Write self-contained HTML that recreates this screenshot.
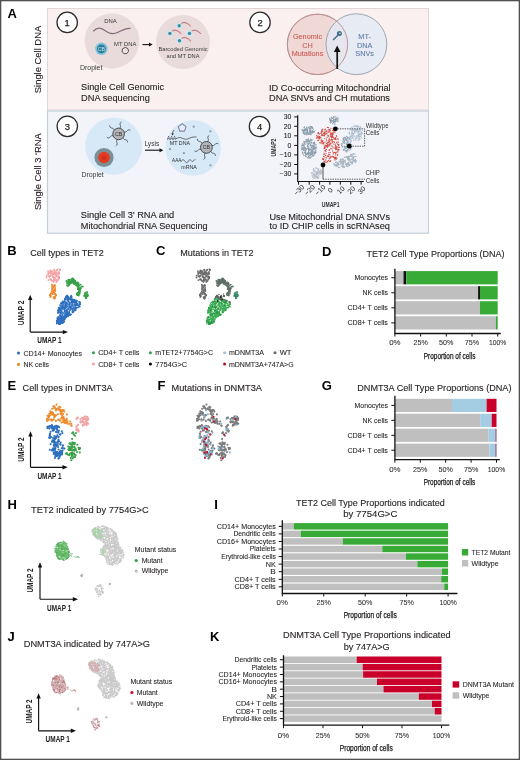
<!DOCTYPE html>
<html><head><meta charset="utf-8"><style>
html,body{margin:0;padding:0;background:#fff;}
svg{display:block;will-change:transform;}
text{font-family:"Liberation Sans", sans-serif;}
</style></head><body>
<svg width="520" height="760" viewBox="0 0 520 760">
<rect x="0" y="0" width="520" height="760" fill="#fff"/>
<rect x="47.5" y="8.5" width="381" height="101.5" fill="#f9f0ef" stroke="#e4d5d6" stroke-width="1"/>
<rect x="47.5" y="111" width="381" height="122.2" fill="#f3f4f9" stroke="#c3d0da" stroke-width="1.2"/>
<text x="7.40" y="17.60" font-size="13" text-anchor="start" font-weight="bold" fill="#000">A</text>
<text transform="translate(41.30,59.50) rotate(-90)" x="0" y="0" font-size="9.7" text-anchor="middle" fill="#231f20" textLength="67.46" lengthAdjust="spacingAndGlyphs" stroke="#231f20" stroke-width="0.12">Single Cell DNA</text>
<text transform="translate(41.30,171.60) rotate(-90)" x="0" y="0" font-size="9.7" text-anchor="middle" fill="#231f20" textLength="76.86" lengthAdjust="spacingAndGlyphs" stroke="#231f20" stroke-width="0.12">Single Cell 3 ‘RNA</text>
<circle cx="67.2" cy="22.4" r="10.2" fill="#fefefe" stroke="#2b2b2b" stroke-width="1.25"/>
<text x="67.20" y="25.70" font-size="9.4" text-anchor="middle" fill="#222" stroke="#222" stroke-width="0.25">1</text>
<circle cx="260" cy="22.4" r="10.2" fill="#fefefe" stroke="#2b2b2b" stroke-width="1.25"/>
<text x="260.00" y="25.70" font-size="9.4" text-anchor="middle" fill="#222" stroke="#222" stroke-width="0.25">2</text>
<circle cx="67.3" cy="126.3" r="10.2" fill="#fefefe" stroke="#2b2b2b" stroke-width="1.25"/>
<text x="67.30" y="129.60" font-size="9.4" text-anchor="middle" fill="#222" stroke="#222" stroke-width="0.25">3</text>
<circle cx="259.5" cy="126.5" r="10.2" fill="#fefefe" stroke="#2b2b2b" stroke-width="1.25"/>
<text x="259.50" y="129.80" font-size="9.4" text-anchor="middle" fill="#222" stroke="#222" stroke-width="0.25">4</text>
<circle cx="112" cy="41" r="27.4" fill="#e9dbdb"/>
<text x="110.40" y="23.30" font-size="6.2" text-anchor="middle" fill="#3a3a3a" textLength="12.54" lengthAdjust="spacingAndGlyphs">DNA</text>
<path d="M93.2,31.2 C95,29.5 97,28 99.5,28.2 C103,28.5 106,31.5 109,32.8 C112,34 115,33.6 118,32.2 C121,30.8 124,29.2 127,28.6 C128.5,28.3 129.5,28.2 130.5,28.3" fill="none" stroke="#86697c" stroke-width="1.25"/>
<circle cx="101.4" cy="48.8" r="6.2" fill="#7fc3da"/><circle cx="101.4" cy="48.8" r="4.4" fill="#2a7b9c"/>
<text x="101.40" y="50.70" font-size="5.2" text-anchor="middle" fill="#cfe8f0">CB</text>
<text x="125.20" y="46.00" font-size="6.2" text-anchor="middle" fill="#3a3a3a" textLength="22.24" lengthAdjust="spacingAndGlyphs">MT DNA</text>
<path d="M125.2,47.4 l2.6,1.1 l0.8,2.7 l-1.6,2.3 l-2.8,0.2 l-2.1,-1.9 l0.3,-2.9 z" fill="#efe2e2" stroke="#4a4444" stroke-width="0.9"/>
<text x="91.20" y="70.00" font-size="6.4" text-anchor="middle" fill="#3a3a3a" textLength="22.47" lengthAdjust="spacingAndGlyphs">Droplet</text>
<path d="M142.5,44.6 H150" stroke="#111" stroke-width="1.1"/><path d="M149,42.6 L152.6,44.6 L149,46.6 z" fill="#111"/>
<circle cx="183" cy="42" r="27" fill="#e9dbdb"/>
<path d="M180.39999999999998,24.099999999999998 Q184.7,20.1 190.6,26.099999999999998" fill="none" stroke="#f3c9cc" stroke-width="2.6" stroke-opacity="0.7"/>
<path d="M180.39999999999998,24.099999999999998 Q184.7,20.1 190.6,26.099999999999998" fill="none" stroke="#a5717b" stroke-width="0.95"/>
<circle cx="179.2" cy="25.7" r="3" fill="#cfe6ee"/><circle cx="179.2" cy="25.7" r="1.7" fill="#3a8ea6"/>
<path d="M171.1,31.799999999999997 Q175.4,27.799999999999997 181.3,33.8" fill="none" stroke="#f3c9cc" stroke-width="2.6" stroke-opacity="0.7"/>
<path d="M171.1,31.799999999999997 Q175.4,27.799999999999997 181.3,33.8" fill="none" stroke="#a5717b" stroke-width="0.95"/>
<circle cx="169.9" cy="33.4" r="3" fill="#cfe6ee"/><circle cx="169.9" cy="33.4" r="1.7" fill="#3a8ea6"/>
<path d="M190.7,31.799999999999997 Q195.0,27.799999999999997 200.9,33.8" fill="none" stroke="#f3c9cc" stroke-width="2.6" stroke-opacity="0.7"/>
<path d="M190.7,31.799999999999997 Q195.0,27.799999999999997 200.9,33.8" fill="none" stroke="#a5717b" stroke-width="0.95"/>
<circle cx="189.5" cy="33.4" r="3" fill="#cfe6ee"/><circle cx="189.5" cy="33.4" r="1.7" fill="#3a8ea6"/>
<path d="M180.7,39.1 Q185.0,35.1 190.9,41.1" fill="none" stroke="#f3c9cc" stroke-width="2.6" stroke-opacity="0.7"/>
<path d="M180.7,39.1 Q185.0,35.1 190.9,41.1" fill="none" stroke="#a5717b" stroke-width="0.95"/>
<circle cx="179.5" cy="40.7" r="3" fill="#cfe6ee"/><circle cx="179.5" cy="40.7" r="1.7" fill="#3a8ea6"/>
<text x="183.00" y="50.60" font-size="6.2" text-anchor="middle" fill="#3a3a3a" textLength="49.24" lengthAdjust="spacingAndGlyphs">Barcoded Genomic</text>
<text x="183.00" y="58.20" font-size="6.2" text-anchor="middle" fill="#3a3a3a" textLength="32.94" lengthAdjust="spacingAndGlyphs">and MT DNA</text>
<text x="81.11" y="90.20" font-size="9.75" text-anchor="start" fill="#231f20" textLength="82.97" lengthAdjust="spacingAndGlyphs" stroke="#231f20" stroke-width="0.12">Single Cell Genomic</text>
<text x="81.11" y="101.40" font-size="9.75" text-anchor="start" fill="#231f20" textLength="68.77" lengthAdjust="spacingAndGlyphs" stroke="#231f20" stroke-width="0.12">DNA sequencing</text>
<circle cx="317.5" cy="44.4" r="30.2" fill="#f0d8d7" stroke="#c68b8a" stroke-width="1"/>
<circle cx="356.4" cy="44.2" r="30.4" fill="#e2eaf4" fill-opacity="0.8" stroke="#9fa6b2" stroke-width="1"/>
<text x="307.50" y="38.90" font-size="7.3" text-anchor="middle" fill="#c95a52" stroke="#c95a52" stroke-width="0.08">Genomic</text>
<text x="307.50" y="47.50" font-size="7.3" text-anchor="middle" fill="#c95a52" stroke="#c95a52" stroke-width="0.08">CH</text>
<text x="307.50" y="56.10" font-size="7.3" text-anchor="middle" fill="#c95a52" stroke="#c95a52" stroke-width="0.08">Mutations</text>
<text x="364.60" y="38.90" font-size="7.3" text-anchor="middle" fill="#5f7aa8" stroke="#5f7aa8" stroke-width="0.08">MT-</text>
<text x="364.60" y="47.50" font-size="7.3" text-anchor="middle" fill="#5f7aa8" stroke="#5f7aa8" stroke-width="0.08">DNA</text>
<text x="364.60" y="56.10" font-size="7.3" text-anchor="middle" fill="#5f7aa8" stroke="#5f7aa8" stroke-width="0.08">SNVs</text>
<circle cx="317.5" cy="44.4" r="30.2" fill="none" stroke="#b89494" stroke-width="0.9"/>
<g fill="#3d6e8e"><circle cx="339.4" cy="33.6" r="2.5"/><path d="M337.9,34.2 L332.6,39.4 L333.6,40.4 L338.9,35.2 z"/></g><circle cx="339.9" cy="33.2" r="0.8" fill="#e3e8ef"/>
<path d="M337.2,69 V50.5" stroke="#111" stroke-width="1.7"/><path d="M333.9,52 L337.2,45.6 L340.5,52 z" fill="#111"/>
<text x="269.01" y="90.50" font-size="9.75" text-anchor="start" fill="#231f20" textLength="121.67" lengthAdjust="spacingAndGlyphs" stroke="#231f20" stroke-width="0.12">ID Co-occurring Mitochondrial</text>
<text x="269.01" y="101.30" font-size="9.75" text-anchor="start" fill="#231f20" textLength="120.97" lengthAdjust="spacingAndGlyphs" stroke="#231f20" stroke-width="0.12">DNA SNVs and CH mutations</text>
<circle cx="113.7" cy="146.2" r="28.5" fill="#d7e9f7"/>
<circle cx="104" cy="157.5" r="9.6" fill="#7a9096"/><circle cx="104" cy="157.5" r="5.8" fill="#e63b24"/><circle cx="104" cy="157.5" r="2.6" fill="#d2331d"/>
<path d="M119.59,128.18 C122.39,126.03 117.87,124.03 121.48,121.91" fill="none" stroke="#3e4247" stroke-width="0.8"/><path d="M124.04,131.90 C127.31,133.25 126.78,128.33 130.42,130.40" fill="none" stroke="#3e4247" stroke-width="0.8"/><path d="M123.06,137.61 C123.52,141.12 127.51,138.20 127.54,142.39" fill="none" stroke="#3e4247" stroke-width="0.8"/><path d="M117.61,139.62 C114.81,141.77 119.33,143.77 115.72,145.89" fill="none" stroke="#3e4247" stroke-width="0.8"/><path d="M113.16,135.90 C109.89,134.55 110.42,139.47 106.78,137.40" fill="none" stroke="#3e4247" stroke-width="0.8"/><path d="M114.14,130.19 C113.68,126.68 109.69,129.60 109.66,125.41" fill="none" stroke="#3e4247" stroke-width="0.8"/>
<circle cx="118.6" cy="133.9" r="5.8" fill="#b3b5b9" stroke="#3a3d42" stroke-width="0.9"/>
<text x="118.60" y="135.80" font-size="5.22" text-anchor="middle" fill="#333">CB</text>
<text x="92.60" y="176.60" font-size="6.4" text-anchor="middle" fill="#3a3a3a" textLength="22.37" lengthAdjust="spacingAndGlyphs">Droplet</text>
<text x="151.90" y="146.20" font-size="6.4" text-anchor="middle" fill="#3a3a3a" textLength="14.97" lengthAdjust="spacingAndGlyphs">Lysis</text>
<path d="M145,150.2 H160" stroke="#111" stroke-width="1.1"/><path d="M159.5,148.2 L163.4,150.2 L159.5,152.2 z" fill="#111"/>
<circle cx="193.2" cy="148" r="27.8" fill="#d7e9f7"/>
<circle cx="193.7" cy="126.7" r="1.1" fill="#8f98a6"/>
<circle cx="210.4" cy="131.3" r="1.1" fill="#8f98a6"/>
<circle cx="170" cy="149.1" r="1.1" fill="#8f98a6"/>
<circle cx="183.9" cy="153.2" r="1.1" fill="#8f98a6"/>
<circle cx="210.4" cy="165.3" r="1.1" fill="#8f98a6"/>
<path d="M182.2,123.8 l3.8,2.8 l-1.5,4.5 l-4.7,0 l-1.5,-4.5 z" fill="#e6eef8" stroke="#8583a3" stroke-width="1.1" stroke-linejoin="round"/>
<path d="M174.2,130 q-1.8,1.5 -1.6,4.2" fill="none" stroke="#222" stroke-width="0.65"/><path d="M171.3,133.6 l1.4,2 l1.1,-2.1 z" fill="#222"/>
<text x="171.50" y="140.20" font-size="5" text-anchor="middle" fill="#2a2a2a" textLength="9.20" lengthAdjust="spacingAndGlyphs">AAA</text>
<path d="M176,138.8 c1.5,-1 3,-1.6 5,-1 c2,0.6 4,1.8 6,1.4 c2,-0.4 3.5,-1.6 5,-2 c1.5,-0.4 3,0 4.5,-0.3" fill="none" stroke="#3a3a3a" stroke-width="0.7"/>
<text x="179.90" y="145.40" font-size="5" text-anchor="middle" fill="#2a2a2a" textLength="20.30" lengthAdjust="spacingAndGlyphs">MT DNA</text>
<text x="176.70" y="162.40" font-size="5" text-anchor="middle" fill="#2a2a2a" textLength="9.20" lengthAdjust="spacingAndGlyphs">AAA</text>
<path d="M181.3,161.6 c0.6,-1.8 1.8,-2.4 3,-1.2 c1.2,1.2 1.6,2.6 2.8,2.2 c1.2,-0.4 1.2,-2.6 2.6,-2.8 c1.4,-0.2 1.6,1.8 3,1.6 c1.2,-0.2 1.4,-2 2.6,-2" fill="none" stroke="#3a3a3a" stroke-width="0.7"/>
<text x="189.10" y="169.20" font-size="5" text-anchor="middle" fill="#2a2a2a" textLength="15.60" lengthAdjust="spacingAndGlyphs">mRNA</text>
<path d="M207.40,141.59 C210.21,139.43 205.68,137.43 209.30,135.32" fill="none" stroke="#3e4247" stroke-width="0.8"/><path d="M211.94,145.36 C215.21,146.72 214.67,141.80 218.31,143.87" fill="none" stroke="#3e4247" stroke-width="0.8"/><path d="M210.93,151.18 C211.40,154.68 215.39,151.76 215.42,155.95" fill="none" stroke="#3e4247" stroke-width="0.8"/><path d="M205.40,153.21 C202.59,155.37 207.12,157.37 203.50,159.48" fill="none" stroke="#3e4247" stroke-width="0.8"/><path d="M200.86,149.44 C197.59,148.08 198.13,153.00 194.49,150.93" fill="none" stroke="#3e4247" stroke-width="0.8"/><path d="M201.87,143.62 C201.40,140.12 197.41,143.04 197.38,138.85" fill="none" stroke="#3e4247" stroke-width="0.8"/>
<circle cx="206.4" cy="147.4" r="5.9" fill="#b3b5b9" stroke="#3a3d42" stroke-width="0.9"/>
<text x="206.40" y="149.30" font-size="5.3100000000000005" text-anchor="middle" fill="#333">CB</text>
<text x="80.81" y="217.80" font-size="9.75" text-anchor="start" fill="#231f20" textLength="93.47" lengthAdjust="spacingAndGlyphs" stroke="#231f20" stroke-width="0.12">Single Cell 3’ RNA and</text>
<text x="80.81" y="228.60" font-size="9.75" text-anchor="start" fill="#231f20" textLength="126.87" lengthAdjust="spacingAndGlyphs" stroke="#231f20" stroke-width="0.12">Mitochondrial RNA Sequencing</text>
<path d="M297.7,115.2 V181.5 H363.8" fill="none" stroke="#111" stroke-width="1.2"/>
<path d="M294.2,116.9 H297.7" stroke="#111" stroke-width="1"/>
<text x="291.40" y="119.30" font-size="6.8" text-anchor="end" fill="#222" stroke="#222" stroke-width="0.08">30</text>
<path d="M294.2,126.3 H297.7" stroke="#111" stroke-width="1"/>
<text x="291.40" y="128.70" font-size="6.8" text-anchor="end" fill="#222" stroke="#222" stroke-width="0.08">20</text>
<path d="M294.2,135.8 H297.7" stroke="#111" stroke-width="1"/>
<text x="291.40" y="138.20" font-size="6.8" text-anchor="end" fill="#222" stroke="#222" stroke-width="0.08">10</text>
<path d="M294.2,145.4 H297.7" stroke="#111" stroke-width="1"/>
<text x="291.40" y="147.80" font-size="6.8" text-anchor="end" fill="#222" stroke="#222" stroke-width="0.08">0</text>
<path d="M294.2,154.9 H297.7" stroke="#111" stroke-width="1"/>
<text x="291.40" y="157.30" font-size="6.8" text-anchor="end" fill="#222" stroke="#222" stroke-width="0.08">−10</text>
<path d="M294.2,164.5 H297.7" stroke="#111" stroke-width="1"/>
<text x="291.40" y="166.90" font-size="6.8" text-anchor="end" fill="#222" stroke="#222" stroke-width="0.08">−20</text>
<path d="M294.2,173.9 H297.7" stroke="#111" stroke-width="1"/>
<text x="291.40" y="176.30" font-size="6.8" text-anchor="end" fill="#222" stroke="#222" stroke-width="0.08">−30</text>
<path d="M298.5,181.5 V184.7" stroke="#111" stroke-width="1"/>
<text transform="translate(298.9,190.1) rotate(-45)" y="2.4" text-anchor="middle" font-size="7" fill="#222">−30</text>
<path d="M309.2,181.5 V184.7" stroke="#111" stroke-width="1"/>
<text transform="translate(309.59999999999997,190.1) rotate(-45)" y="2.4" text-anchor="middle" font-size="7" fill="#222">−20</text>
<path d="M319.6,181.5 V184.7" stroke="#111" stroke-width="1"/>
<text transform="translate(320.0,190.1) rotate(-45)" y="2.4" text-anchor="middle" font-size="7" fill="#222">−10</text>
<path d="M329.9,181.5 V184.7" stroke="#111" stroke-width="1"/>
<text transform="translate(330.29999999999995,190.1) rotate(-45)" y="2.4" text-anchor="middle" font-size="7" fill="#222">0</text>
<path d="M340.3,181.5 V184.7" stroke="#111" stroke-width="1"/>
<text transform="translate(340.7,190.1) rotate(-45)" y="2.4" text-anchor="middle" font-size="7" fill="#222">10</text>
<path d="M350.8,181.5 V184.7" stroke="#111" stroke-width="1"/>
<text transform="translate(351.2,190.1) rotate(-45)" y="2.4" text-anchor="middle" font-size="7" fill="#222">20</text>
<path d="M361.1,181.5 V184.7" stroke="#111" stroke-width="1"/>
<text transform="translate(361.5,190.1) rotate(-45)" y="2.4" text-anchor="middle" font-size="7" fill="#222">30</text>
<text transform="translate(276.20,147.50) rotate(-90)" x="0" y="0" font-size="7.6" text-anchor="middle" font-weight="bold" fill="#333" textLength="17.91" lengthAdjust="spacingAndGlyphs">UMAP2</text>
<text x="330.70" y="207.20" font-size="7.6" text-anchor="middle" font-weight="bold" fill="#333" textLength="17.81" lengthAdjust="spacingAndGlyphs">UMAP1</text>
<g fill="#8b9eac"><circle cx="307.2" cy="132.5" r="0.68"/><circle cx="307.3" cy="129.8" r="0.68"/><circle cx="304.6" cy="130.2" r="0.68"/><circle cx="312.5" cy="132.0" r="0.68"/><circle cx="312.3" cy="131.5" r="0.68"/><circle cx="310.0" cy="131.4" r="0.68"/><circle cx="303.2" cy="132.8" r="0.68"/><circle cx="310.4" cy="132.4" r="0.68"/><circle cx="304.0" cy="127.4" r="0.68"/><circle cx="304.8" cy="129.4" r="0.68"/><circle cx="309.6" cy="130.6" r="0.68"/><circle cx="310.4" cy="128.8" r="0.68"/><circle cx="309.6" cy="132.1" r="0.68"/><circle cx="306.3" cy="134.8" r="0.68"/><circle cx="310.3" cy="134.1" r="0.68"/><circle cx="305.8" cy="128.6" r="0.68"/><circle cx="306.8" cy="130.4" r="0.68"/><circle cx="311.0" cy="131.6" r="0.68"/><circle cx="306.6" cy="128.0" r="0.68"/><circle cx="306.4" cy="134.2" r="0.68"/><circle cx="305.0" cy="131.6" r="0.68"/><circle cx="309.7" cy="126.9" r="0.68"/><circle cx="308.5" cy="134.4" r="0.68"/><circle cx="302.5" cy="130.1" r="0.68"/><circle cx="307.9" cy="128.2" r="0.68"/><circle cx="310.4" cy="130.6" r="0.68"/><circle cx="303.5" cy="132.9" r="0.68"/><circle cx="310.8" cy="133.5" r="0.68"/><circle cx="313.3" cy="131.8" r="0.68"/><circle cx="308.7" cy="127.2" r="0.68"/><circle cx="310.8" cy="128.9" r="0.68"/><circle cx="306.7" cy="127.3" r="0.68"/><circle cx="304.6" cy="129.2" r="0.68"/><circle cx="311.6" cy="126.9" r="0.68"/><circle cx="303.2" cy="131.4" r="0.68"/><circle cx="313.2" cy="132.3" r="0.68"/><circle cx="304.5" cy="127.0" r="0.68"/><circle cx="309.8" cy="128.5" r="0.68"/><circle cx="304.4" cy="133.4" r="0.68"/><circle cx="312.5" cy="131.3" r="0.68"/><circle cx="309.4" cy="132.2" r="0.68"/><circle cx="313.4" cy="132.3" r="0.68"/><circle cx="310.5" cy="132.5" r="0.68"/><circle cx="303.7" cy="133.6" r="0.68"/><circle cx="312.0" cy="132.4" r="0.68"/><circle cx="302.7" cy="129.4" r="0.68"/><circle cx="310.8" cy="126.8" r="0.68"/><circle cx="307.6" cy="133.8" r="0.68"/><circle cx="304.6" cy="134.3" r="0.68"/><circle cx="310.7" cy="130.3" r="0.68"/><circle cx="309.7" cy="132.9" r="0.68"/><circle cx="308.8" cy="134.1" r="0.68"/><circle cx="305.6" cy="129.5" r="0.68"/><circle cx="312.4" cy="130.9" r="0.68"/><circle cx="305.1" cy="133.4" r="0.68"/><circle cx="313.3" cy="129.6" r="0.68"/><circle cx="303.4" cy="130.4" r="0.68"/><circle cx="307.6" cy="129.8" r="0.68"/><circle cx="312.8" cy="128.3" r="0.68"/><circle cx="312.3" cy="127.8" r="0.68"/><circle cx="305.2" cy="132.7" r="0.68"/><circle cx="312.3" cy="133.1" r="0.68"/><circle cx="309.8" cy="131.3" r="0.68"/><circle cx="309.0" cy="132.7" r="0.68"/><circle cx="307.5" cy="131.7" r="0.68"/><circle cx="310.8" cy="130.8" r="0.68"/><circle cx="311.4" cy="132.5" r="0.68"/><circle cx="314.1" cy="131.5" r="0.68"/><circle cx="306.5" cy="129.6" r="0.68"/><circle cx="308.2" cy="133.6" r="0.68"/><circle cx="306.8" cy="132.1" r="0.68"/><circle cx="312.0" cy="126.9" r="0.68"/><circle cx="304.0" cy="131.5" r="0.68"/><circle cx="310.0" cy="131.6" r="0.68"/><circle cx="306.5" cy="132.9" r="0.68"/><circle cx="309.5" cy="129.1" r="0.68"/><circle cx="314.4" cy="131.5" r="0.68"/><circle cx="305.9" cy="130.5" r="0.68"/><circle cx="307.3" cy="130.6" r="0.68"/><circle cx="302.2" cy="130.0" r="0.68"/><circle cx="311.7" cy="127.8" r="0.68"/><circle cx="308.0" cy="133.7" r="0.68"/><circle cx="311.1" cy="134.5" r="0.68"/><circle cx="302.9" cy="129.9" r="0.68"/><circle cx="306.9" cy="132.8" r="0.68"/><circle cx="310.7" cy="126.4" r="0.68"/><circle cx="311.7" cy="127.4" r="0.68"/><circle cx="310.6" cy="127.0" r="0.68"/><circle cx="309.0" cy="134.2" r="0.68"/><circle cx="307.6" cy="131.4" r="0.68"/></g>
<g fill="#8b9eac"><circle cx="313.0" cy="149.4" r="0.68"/><circle cx="308.6" cy="156.5" r="0.68"/><circle cx="313.9" cy="146.8" r="0.68"/><circle cx="316.0" cy="144.8" r="0.68"/><circle cx="313.4" cy="146.9" r="0.68"/><circle cx="309.7" cy="153.0" r="0.68"/><circle cx="310.1" cy="152.6" r="0.68"/><circle cx="303.9" cy="142.1" r="0.68"/><circle cx="311.8" cy="142.9" r="0.68"/><circle cx="305.1" cy="141.5" r="0.68"/><circle cx="314.3" cy="152.5" r="0.68"/><circle cx="314.7" cy="143.9" r="0.68"/><circle cx="309.0" cy="141.9" r="0.68"/><circle cx="311.9" cy="156.2" r="0.68"/><circle cx="305.6" cy="156.0" r="0.68"/><circle cx="313.7" cy="147.4" r="0.68"/><circle cx="303.0" cy="153.9" r="0.68"/><circle cx="308.5" cy="144.6" r="0.68"/><circle cx="311.1" cy="151.2" r="0.68"/><circle cx="314.6" cy="143.6" r="0.68"/><circle cx="313.2" cy="155.4" r="0.68"/><circle cx="315.1" cy="147.5" r="0.68"/><circle cx="305.7" cy="154.2" r="0.68"/><circle cx="309.6" cy="149.3" r="0.68"/><circle cx="315.0" cy="147.1" r="0.68"/><circle cx="301.8" cy="147.0" r="0.68"/><circle cx="302.5" cy="152.1" r="0.68"/><circle cx="310.6" cy="144.6" r="0.68"/><circle cx="309.0" cy="153.7" r="0.68"/><circle cx="309.3" cy="155.8" r="0.68"/><circle cx="308.7" cy="154.7" r="0.68"/><circle cx="313.9" cy="155.2" r="0.68"/><circle cx="305.9" cy="153.7" r="0.68"/><circle cx="302.7" cy="143.9" r="0.68"/><circle cx="302.6" cy="152.9" r="0.68"/><circle cx="303.5" cy="148.4" r="0.68"/><circle cx="308.0" cy="148.3" r="0.68"/><circle cx="306.0" cy="150.0" r="0.68"/><circle cx="315.8" cy="148.7" r="0.68"/><circle cx="311.5" cy="154.3" r="0.68"/><circle cx="308.1" cy="141.4" r="0.68"/><circle cx="306.5" cy="154.6" r="0.68"/><circle cx="302.7" cy="145.6" r="0.68"/><circle cx="313.5" cy="152.9" r="0.68"/><circle cx="309.0" cy="153.6" r="0.68"/><circle cx="309.8" cy="141.7" r="0.68"/><circle cx="302.9" cy="145.3" r="0.68"/><circle cx="313.3" cy="145.2" r="0.68"/><circle cx="304.9" cy="144.1" r="0.68"/><circle cx="302.7" cy="147.9" r="0.68"/><circle cx="303.7" cy="150.6" r="0.68"/><circle cx="301.7" cy="149.8" r="0.68"/><circle cx="306.8" cy="140.0" r="0.68"/><circle cx="312.6" cy="146.8" r="0.68"/><circle cx="302.1" cy="145.1" r="0.68"/><circle cx="310.5" cy="145.5" r="0.68"/><circle cx="312.6" cy="152.9" r="0.68"/><circle cx="312.3" cy="150.6" r="0.68"/><circle cx="314.6" cy="152.0" r="0.68"/><circle cx="310.5" cy="139.6" r="0.68"/><circle cx="312.6" cy="155.2" r="0.68"/><circle cx="307.5" cy="145.4" r="0.68"/><circle cx="314.5" cy="142.2" r="0.68"/><circle cx="310.4" cy="157.7" r="0.68"/><circle cx="304.7" cy="152.5" r="0.68"/><circle cx="315.9" cy="147.9" r="0.68"/><circle cx="311.6" cy="153.9" r="0.68"/><circle cx="304.6" cy="148.0" r="0.68"/><circle cx="310.4" cy="153.6" r="0.68"/><circle cx="308.8" cy="147.2" r="0.68"/><circle cx="304.2" cy="146.4" r="0.68"/><circle cx="313.3" cy="149.1" r="0.68"/><circle cx="305.1" cy="143.7" r="0.68"/><circle cx="315.9" cy="152.2" r="0.68"/><circle cx="310.8" cy="139.3" r="0.68"/><circle cx="312.1" cy="151.5" r="0.68"/><circle cx="315.5" cy="150.6" r="0.68"/><circle cx="308.6" cy="151.9" r="0.68"/><circle cx="302.6" cy="152.8" r="0.68"/><circle cx="310.6" cy="144.1" r="0.68"/><circle cx="313.3" cy="155.9" r="0.68"/><circle cx="303.3" cy="145.1" r="0.68"/><circle cx="310.5" cy="149.7" r="0.68"/><circle cx="307.1" cy="142.7" r="0.68"/><circle cx="315.6" cy="152.6" r="0.68"/><circle cx="304.5" cy="142.1" r="0.68"/><circle cx="315.1" cy="153.0" r="0.68"/><circle cx="315.4" cy="152.1" r="0.68"/><circle cx="304.8" cy="150.1" r="0.68"/><circle cx="302.1" cy="145.5" r="0.68"/><circle cx="308.7" cy="151.9" r="0.68"/><circle cx="305.3" cy="147.7" r="0.68"/><circle cx="311.4" cy="150.9" r="0.68"/><circle cx="312.2" cy="149.8" r="0.68"/><circle cx="307.4" cy="153.4" r="0.68"/><circle cx="309.2" cy="143.3" r="0.68"/><circle cx="305.8" cy="148.5" r="0.68"/><circle cx="308.4" cy="149.6" r="0.68"/><circle cx="309.0" cy="149.7" r="0.68"/><circle cx="308.4" cy="141.4" r="0.68"/><circle cx="310.9" cy="154.6" r="0.68"/><circle cx="311.3" cy="147.3" r="0.68"/><circle cx="311.1" cy="142.8" r="0.68"/><circle cx="302.1" cy="148.8" r="0.68"/><circle cx="304.8" cy="152.8" r="0.68"/><circle cx="306.1" cy="139.7" r="0.68"/><circle cx="305.2" cy="155.8" r="0.68"/><circle cx="307.4" cy="141.1" r="0.68"/><circle cx="305.3" cy="151.7" r="0.68"/><circle cx="311.6" cy="149.7" r="0.68"/><circle cx="314.9" cy="152.1" r="0.68"/><circle cx="308.9" cy="152.4" r="0.68"/><circle cx="315.0" cy="153.0" r="0.68"/><circle cx="313.3" cy="142.8" r="0.68"/><circle cx="308.3" cy="153.1" r="0.68"/><circle cx="307.6" cy="154.8" r="0.68"/><circle cx="311.8" cy="153.9" r="0.68"/><circle cx="308.4" cy="157.9" r="0.68"/><circle cx="314.5" cy="147.3" r="0.68"/><circle cx="309.3" cy="157.9" r="0.68"/><circle cx="307.3" cy="153.8" r="0.68"/><circle cx="313.7" cy="148.5" r="0.68"/><circle cx="303.7" cy="149.6" r="0.68"/><circle cx="310.6" cy="155.0" r="0.68"/><circle cx="312.9" cy="148.7" r="0.68"/><circle cx="313.1" cy="151.7" r="0.68"/><circle cx="310.1" cy="148.9" r="0.68"/><circle cx="307.8" cy="152.9" r="0.68"/><circle cx="304.3" cy="144.9" r="0.68"/><circle cx="309.0" cy="140.7" r="0.68"/><circle cx="307.5" cy="139.7" r="0.68"/><circle cx="305.7" cy="152.0" r="0.68"/><circle cx="311.9" cy="148.1" r="0.68"/><circle cx="308.0" cy="140.9" r="0.68"/><circle cx="315.7" cy="150.9" r="0.68"/><circle cx="313.7" cy="143.7" r="0.68"/><circle cx="308.3" cy="139.9" r="0.68"/><circle cx="312.5" cy="153.8" r="0.68"/><circle cx="302.1" cy="148.3" r="0.68"/><circle cx="311.3" cy="140.3" r="0.68"/><circle cx="302.8" cy="143.9" r="0.68"/><circle cx="306.4" cy="141.2" r="0.68"/><circle cx="309.2" cy="150.2" r="0.68"/><circle cx="312.1" cy="152.8" r="0.68"/><circle cx="314.5" cy="153.9" r="0.68"/><circle cx="303.4" cy="145.8" r="0.68"/><circle cx="304.6" cy="142.9" r="0.68"/><circle cx="308.6" cy="148.5" r="0.68"/><circle cx="310.9" cy="140.6" r="0.68"/><circle cx="303.4" cy="148.4" r="0.68"/><circle cx="307.9" cy="146.4" r="0.68"/><circle cx="308.7" cy="143.7" r="0.68"/><circle cx="312.5" cy="150.7" r="0.68"/><circle cx="308.6" cy="144.2" r="0.68"/><circle cx="308.5" cy="139.0" r="0.68"/><circle cx="304.3" cy="148.7" r="0.68"/><circle cx="302.8" cy="149.5" r="0.68"/><circle cx="309.6" cy="141.0" r="0.68"/><circle cx="307.7" cy="146.4" r="0.68"/><circle cx="311.3" cy="152.4" r="0.68"/><circle cx="308.8" cy="143.2" r="0.68"/><circle cx="308.2" cy="148.1" r="0.68"/><circle cx="312.7" cy="150.4" r="0.68"/><circle cx="306.0" cy="141.5" r="0.68"/><circle cx="307.2" cy="143.9" r="0.68"/><circle cx="303.8" cy="147.8" r="0.68"/><circle cx="306.4" cy="149.2" r="0.68"/><circle cx="311.7" cy="145.8" r="0.68"/><circle cx="316.3" cy="147.2" r="0.68"/><circle cx="314.1" cy="149.2" r="0.68"/><circle cx="312.2" cy="140.0" r="0.68"/><circle cx="305.3" cy="150.1" r="0.68"/><circle cx="310.8" cy="157.5" r="0.68"/><circle cx="310.4" cy="155.6" r="0.68"/><circle cx="312.5" cy="153.9" r="0.68"/><circle cx="311.6" cy="147.5" r="0.68"/><circle cx="311.3" cy="142.3" r="0.68"/><circle cx="313.8" cy="143.2" r="0.68"/><circle cx="309.8" cy="157.5" r="0.68"/><circle cx="307.8" cy="148.6" r="0.68"/><circle cx="314.3" cy="148.7" r="0.68"/><circle cx="305.0" cy="150.1" r="0.68"/><circle cx="311.8" cy="152.9" r="0.68"/><circle cx="306.2" cy="156.6" r="0.68"/><circle cx="315.6" cy="148.6" r="0.68"/><circle cx="310.4" cy="145.7" r="0.68"/><circle cx="314.7" cy="144.9" r="0.68"/><circle cx="312.3" cy="145.5" r="0.68"/><circle cx="305.7" cy="152.8" r="0.68"/><circle cx="314.8" cy="148.4" r="0.68"/><circle cx="305.8" cy="153.3" r="0.68"/><circle cx="308.7" cy="150.6" r="0.68"/><circle cx="314.6" cy="153.7" r="0.68"/><circle cx="307.4" cy="157.6" r="0.68"/><circle cx="309.0" cy="153.4" r="0.68"/><circle cx="305.7" cy="148.2" r="0.68"/><circle cx="303.8" cy="155.2" r="0.68"/><circle cx="314.1" cy="142.7" r="0.68"/><circle cx="304.1" cy="141.8" r="0.68"/><circle cx="314.2" cy="145.9" r="0.68"/></g>
<g fill="#8b9eac"><circle cx="333.6" cy="119.3" r="0.68"/><circle cx="333.4" cy="117.4" r="0.68"/><circle cx="333.9" cy="116.8" r="0.68"/><circle cx="333.6" cy="121.1" r="0.68"/><circle cx="335.3" cy="119.5" r="0.68"/><circle cx="331.0" cy="120.6" r="0.68"/><circle cx="332.6" cy="123.6" r="0.68"/><circle cx="336.2" cy="119.9" r="0.68"/><circle cx="332.3" cy="118.3" r="0.68"/><circle cx="331.0" cy="119.3" r="0.68"/><circle cx="334.8" cy="121.7" r="0.68"/><circle cx="335.0" cy="124.1" r="0.68"/><circle cx="331.5" cy="120.2" r="0.68"/><circle cx="337.8" cy="117.9" r="0.68"/><circle cx="332.1" cy="120.7" r="0.68"/><circle cx="334.3" cy="121.4" r="0.68"/><circle cx="333.0" cy="121.3" r="0.68"/><circle cx="334.0" cy="122.3" r="0.68"/><circle cx="329.7" cy="118.5" r="0.68"/><circle cx="333.8" cy="117.5" r="0.68"/><circle cx="330.8" cy="121.8" r="0.68"/><circle cx="331.8" cy="121.9" r="0.68"/><circle cx="336.1" cy="121.0" r="0.68"/><circle cx="335.5" cy="119.9" r="0.68"/><circle cx="330.0" cy="120.1" r="0.68"/><circle cx="335.3" cy="118.7" r="0.68"/><circle cx="333.5" cy="122.3" r="0.68"/><circle cx="331.2" cy="121.9" r="0.68"/><circle cx="338.0" cy="119.1" r="0.68"/><circle cx="334.3" cy="119.8" r="0.68"/><circle cx="337.8" cy="120.9" r="0.68"/><circle cx="336.4" cy="118.4" r="0.68"/><circle cx="333.7" cy="120.2" r="0.68"/><circle cx="330.2" cy="122.7" r="0.68"/><circle cx="335.8" cy="116.7" r="0.68"/><circle cx="336.2" cy="119.8" r="0.68"/><circle cx="335.3" cy="121.2" r="0.68"/><circle cx="329.9" cy="119.7" r="0.68"/><circle cx="337.6" cy="118.9" r="0.68"/><circle cx="331.3" cy="117.3" r="0.68"/><circle cx="330.4" cy="121.0" r="0.68"/><circle cx="337.9" cy="121.1" r="0.68"/><circle cx="334.3" cy="124.2" r="0.68"/><circle cx="332.2" cy="118.4" r="0.68"/><circle cx="335.5" cy="121.7" r="0.68"/></g>
<g fill="#b3bcc5"><circle cx="313.3" cy="170.0" r="0.68"/><circle cx="317.7" cy="174.2" r="0.68"/><circle cx="312.1" cy="172.7" r="0.68"/><circle cx="314.4" cy="174.9" r="0.68"/><circle cx="316.0" cy="173.0" r="0.68"/><circle cx="315.2" cy="176.7" r="0.68"/><circle cx="321.0" cy="172.2" r="0.68"/><circle cx="319.5" cy="170.9" r="0.68"/><circle cx="316.8" cy="175.9" r="0.68"/><circle cx="321.2" cy="172.2" r="0.68"/><circle cx="316.2" cy="174.0" r="0.68"/><circle cx="311.7" cy="173.3" r="0.68"/><circle cx="313.9" cy="174.6" r="0.68"/><circle cx="313.7" cy="168.9" r="0.68"/><circle cx="316.7" cy="174.3" r="0.68"/><circle cx="314.5" cy="176.2" r="0.68"/><circle cx="315.4" cy="171.1" r="0.68"/><circle cx="318.0" cy="168.9" r="0.68"/><circle cx="313.9" cy="173.2" r="0.68"/><circle cx="319.7" cy="172.7" r="0.68"/><circle cx="317.7" cy="171.0" r="0.68"/><circle cx="317.4" cy="177.8" r="0.68"/><circle cx="314.9" cy="178.3" r="0.68"/><circle cx="314.0" cy="173.4" r="0.68"/><circle cx="317.1" cy="176.7" r="0.68"/><circle cx="313.6" cy="168.9" r="0.68"/><circle cx="318.7" cy="175.9" r="0.68"/><circle cx="317.8" cy="178.4" r="0.68"/><circle cx="317.3" cy="174.2" r="0.68"/><circle cx="319.9" cy="174.5" r="0.68"/><circle cx="320.9" cy="170.3" r="0.68"/><circle cx="315.9" cy="168.0" r="0.68"/><circle cx="319.5" cy="172.0" r="0.68"/><circle cx="318.7" cy="178.0" r="0.68"/><circle cx="316.5" cy="172.4" r="0.68"/><circle cx="314.7" cy="170.5" r="0.68"/><circle cx="314.2" cy="175.5" r="0.68"/><circle cx="316.7" cy="173.5" r="0.68"/><circle cx="315.9" cy="176.4" r="0.68"/><circle cx="318.5" cy="172.8" r="0.68"/><circle cx="319.1" cy="172.8" r="0.68"/><circle cx="313.2" cy="177.1" r="0.68"/><circle cx="318.2" cy="170.2" r="0.68"/><circle cx="320.3" cy="174.4" r="0.68"/><circle cx="312.6" cy="176.9" r="0.68"/><circle cx="317.7" cy="176.3" r="0.68"/><circle cx="317.3" cy="172.7" r="0.68"/><circle cx="312.1" cy="175.8" r="0.68"/><circle cx="316.6" cy="172.2" r="0.68"/><circle cx="317.9" cy="173.6" r="0.68"/><circle cx="319.1" cy="172.0" r="0.68"/><circle cx="316.4" cy="168.3" r="0.68"/><circle cx="314.9" cy="175.6" r="0.68"/><circle cx="320.9" cy="172.2" r="0.68"/><circle cx="316.1" cy="177.8" r="0.68"/><circle cx="315.3" cy="175.8" r="0.68"/><circle cx="321.5" cy="173.4" r="0.68"/><circle cx="320.5" cy="171.2" r="0.68"/><circle cx="317.3" cy="173.0" r="0.68"/><circle cx="316.9" cy="176.9" r="0.68"/><circle cx="322.0" cy="171.9" r="0.68"/><circle cx="314.3" cy="175.0" r="0.68"/><circle cx="312.8" cy="174.9" r="0.68"/><circle cx="318.7" cy="172.3" r="0.68"/><circle cx="318.1" cy="169.0" r="0.68"/><circle cx="318.8" cy="169.1" r="0.68"/><circle cx="313.9" cy="171.4" r="0.68"/><circle cx="315.0" cy="176.2" r="0.68"/><circle cx="316.8" cy="171.8" r="0.68"/><circle cx="318.1" cy="177.6" r="0.68"/><circle cx="316.5" cy="174.6" r="0.68"/><circle cx="320.7" cy="174.1" r="0.68"/><circle cx="313.9" cy="178.0" r="0.68"/><circle cx="320.8" cy="169.8" r="0.68"/><circle cx="316.3" cy="174.8" r="0.68"/></g>
<g fill="#adc0d0"><circle cx="360.1" cy="136.3" r="0.68"/><circle cx="354.8" cy="128.2" r="0.68"/><circle cx="356.4" cy="138.2" r="0.68"/><circle cx="351.8" cy="128.8" r="0.68"/><circle cx="355.9" cy="126.0" r="0.68"/><circle cx="354.8" cy="130.9" r="0.68"/><circle cx="358.1" cy="129.6" r="0.68"/><circle cx="352.1" cy="131.3" r="0.68"/><circle cx="355.8" cy="129.7" r="0.68"/><circle cx="356.1" cy="137.1" r="0.68"/><circle cx="359.8" cy="139.2" r="0.68"/><circle cx="352.5" cy="131.1" r="0.68"/><circle cx="350.5" cy="137.9" r="0.68"/><circle cx="352.6" cy="133.0" r="0.68"/><circle cx="358.0" cy="127.3" r="0.68"/><circle cx="358.2" cy="133.1" r="0.68"/><circle cx="349.7" cy="134.3" r="0.68"/><circle cx="359.6" cy="126.9" r="0.68"/><circle cx="359.7" cy="134.3" r="0.68"/><circle cx="358.2" cy="135.5" r="0.68"/><circle cx="361.3" cy="132.2" r="0.68"/><circle cx="359.9" cy="131.2" r="0.68"/><circle cx="359.1" cy="129.3" r="0.68"/><circle cx="355.6" cy="140.1" r="0.68"/><circle cx="358.1" cy="132.4" r="0.68"/><circle cx="351.5" cy="129.7" r="0.68"/><circle cx="356.9" cy="137.8" r="0.68"/><circle cx="358.0" cy="135.9" r="0.68"/><circle cx="355.8" cy="139.2" r="0.68"/><circle cx="354.2" cy="130.3" r="0.68"/><circle cx="360.0" cy="133.5" r="0.68"/><circle cx="354.7" cy="130.2" r="0.68"/><circle cx="354.8" cy="136.5" r="0.68"/><circle cx="357.5" cy="127.7" r="0.68"/><circle cx="358.1" cy="134.2" r="0.68"/><circle cx="351.9" cy="136.7" r="0.68"/><circle cx="354.6" cy="131.4" r="0.68"/><circle cx="359.0" cy="138.8" r="0.68"/><circle cx="352.9" cy="135.4" r="0.68"/><circle cx="353.6" cy="140.3" r="0.68"/><circle cx="354.0" cy="138.6" r="0.68"/><circle cx="353.2" cy="137.1" r="0.68"/><circle cx="360.6" cy="127.3" r="0.68"/><circle cx="354.0" cy="135.8" r="0.68"/><circle cx="355.6" cy="129.7" r="0.68"/><circle cx="362.6" cy="133.5" r="0.68"/><circle cx="350.4" cy="136.5" r="0.68"/><circle cx="350.5" cy="137.3" r="0.68"/><circle cx="353.3" cy="134.0" r="0.68"/><circle cx="361.2" cy="133.7" r="0.68"/><circle cx="351.8" cy="127.4" r="0.68"/><circle cx="360.7" cy="136.5" r="0.68"/><circle cx="352.6" cy="137.2" r="0.68"/><circle cx="358.3" cy="136.5" r="0.68"/><circle cx="349.3" cy="132.2" r="0.68"/><circle cx="359.8" cy="136.7" r="0.68"/><circle cx="358.3" cy="126.0" r="0.68"/><circle cx="356.8" cy="135.8" r="0.68"/><circle cx="362.5" cy="130.5" r="0.68"/><circle cx="354.4" cy="133.4" r="0.68"/><circle cx="359.9" cy="131.0" r="0.68"/><circle cx="360.5" cy="129.7" r="0.68"/><circle cx="357.3" cy="130.4" r="0.68"/><circle cx="356.7" cy="129.6" r="0.68"/><circle cx="350.7" cy="137.3" r="0.68"/><circle cx="357.4" cy="130.3" r="0.68"/><circle cx="356.9" cy="138.0" r="0.68"/><circle cx="351.7" cy="132.7" r="0.68"/><circle cx="358.5" cy="135.9" r="0.68"/><circle cx="355.0" cy="125.9" r="0.68"/><circle cx="361.1" cy="134.7" r="0.68"/><circle cx="356.1" cy="131.7" r="0.68"/><circle cx="357.3" cy="130.9" r="0.68"/><circle cx="351.8" cy="129.8" r="0.68"/><circle cx="353.3" cy="130.1" r="0.68"/><circle cx="351.3" cy="136.1" r="0.68"/><circle cx="350.9" cy="136.0" r="0.68"/><circle cx="351.6" cy="134.9" r="0.68"/><circle cx="361.4" cy="134.1" r="0.68"/><circle cx="352.6" cy="133.4" r="0.68"/><circle cx="356.5" cy="126.3" r="0.68"/><circle cx="353.1" cy="134.1" r="0.68"/><circle cx="353.7" cy="133.6" r="0.68"/><circle cx="359.2" cy="136.9" r="0.68"/><circle cx="359.9" cy="136.0" r="0.68"/><circle cx="354.6" cy="133.1" r="0.68"/><circle cx="354.7" cy="131.5" r="0.68"/><circle cx="355.4" cy="126.4" r="0.68"/><circle cx="354.4" cy="133.1" r="0.68"/><circle cx="351.7" cy="133.1" r="0.68"/><circle cx="358.5" cy="132.3" r="0.68"/><circle cx="360.4" cy="127.1" r="0.68"/><circle cx="355.3" cy="126.2" r="0.68"/><circle cx="358.4" cy="140.5" r="0.68"/><circle cx="349.2" cy="133.6" r="0.68"/><circle cx="358.5" cy="131.6" r="0.68"/><circle cx="357.6" cy="125.9" r="0.68"/><circle cx="359.8" cy="135.0" r="0.68"/><circle cx="356.1" cy="130.1" r="0.68"/><circle cx="358.9" cy="130.7" r="0.68"/><circle cx="357.1" cy="130.5" r="0.68"/><circle cx="349.3" cy="133.1" r="0.68"/><circle cx="356.9" cy="137.1" r="0.68"/><circle cx="352.0" cy="133.0" r="0.68"/><circle cx="358.9" cy="134.0" r="0.68"/><circle cx="359.6" cy="139.6" r="0.68"/><circle cx="353.2" cy="126.5" r="0.68"/><circle cx="359.0" cy="139.2" r="0.68"/><circle cx="359.8" cy="137.0" r="0.68"/><circle cx="353.2" cy="129.7" r="0.68"/><circle cx="359.6" cy="129.0" r="0.68"/><circle cx="350.2" cy="129.7" r="0.68"/><circle cx="361.5" cy="137.9" r="0.68"/><circle cx="353.0" cy="129.6" r="0.68"/><circle cx="357.1" cy="129.4" r="0.68"/><circle cx="361.3" cy="132.8" r="0.68"/><circle cx="352.1" cy="138.4" r="0.68"/><circle cx="353.2" cy="134.4" r="0.68"/><circle cx="355.9" cy="131.5" r="0.68"/><circle cx="357.5" cy="129.6" r="0.68"/></g>
<g fill="#92a8b8"><circle cx="343.2" cy="138.3" r="0.68"/><circle cx="342.8" cy="140.9" r="0.68"/><circle cx="346.5" cy="144.5" r="0.68"/><circle cx="348.6" cy="144.8" r="0.68"/><circle cx="344.0" cy="140.8" r="0.68"/><circle cx="341.5" cy="143.6" r="0.68"/><circle cx="348.3" cy="146.9" r="0.68"/><circle cx="346.1" cy="143.2" r="0.68"/><circle cx="349.8" cy="144.3" r="0.68"/><circle cx="349.1" cy="147.1" r="0.68"/><circle cx="347.3" cy="150.1" r="0.68"/><circle cx="344.5" cy="142.3" r="0.68"/><circle cx="344.0" cy="140.4" r="0.68"/><circle cx="350.1" cy="149.9" r="0.68"/><circle cx="346.7" cy="147.2" r="0.68"/><circle cx="350.2" cy="147.7" r="0.68"/><circle cx="349.9" cy="139.2" r="0.68"/><circle cx="344.3" cy="146.5" r="0.68"/><circle cx="350.9" cy="144.7" r="0.68"/><circle cx="343.6" cy="142.4" r="0.68"/><circle cx="344.4" cy="140.1" r="0.68"/><circle cx="350.9" cy="141.6" r="0.68"/><circle cx="346.6" cy="151.6" r="0.68"/><circle cx="350.4" cy="145.8" r="0.68"/><circle cx="344.4" cy="146.3" r="0.68"/><circle cx="351.0" cy="146.7" r="0.68"/><circle cx="350.6" cy="144.6" r="0.68"/><circle cx="348.5" cy="143.1" r="0.68"/><circle cx="347.9" cy="150.0" r="0.68"/><circle cx="342.3" cy="143.9" r="0.68"/><circle cx="347.5" cy="141.2" r="0.68"/><circle cx="345.5" cy="148.2" r="0.68"/><circle cx="351.5" cy="146.4" r="0.68"/><circle cx="347.5" cy="137.7" r="0.68"/><circle cx="351.6" cy="144.5" r="0.68"/><circle cx="346.5" cy="138.9" r="0.68"/><circle cx="346.4" cy="139.0" r="0.68"/><circle cx="346.9" cy="146.7" r="0.68"/><circle cx="346.7" cy="145.7" r="0.68"/><circle cx="344.2" cy="150.0" r="0.68"/><circle cx="344.9" cy="137.5" r="0.68"/><circle cx="345.9" cy="140.3" r="0.68"/><circle cx="343.2" cy="142.5" r="0.68"/><circle cx="347.5" cy="138.7" r="0.68"/><circle cx="346.2" cy="150.4" r="0.68"/><circle cx="349.1" cy="143.4" r="0.68"/><circle cx="347.1" cy="143.5" r="0.68"/><circle cx="346.4" cy="148.0" r="0.68"/><circle cx="346.4" cy="136.6" r="0.68"/><circle cx="346.5" cy="139.7" r="0.68"/><circle cx="348.9" cy="141.1" r="0.68"/><circle cx="346.9" cy="151.6" r="0.68"/><circle cx="343.5" cy="139.4" r="0.68"/><circle cx="343.9" cy="137.6" r="0.68"/><circle cx="341.7" cy="145.6" r="0.68"/><circle cx="345.0" cy="137.4" r="0.68"/><circle cx="342.4" cy="146.8" r="0.68"/><circle cx="343.9" cy="142.3" r="0.68"/><circle cx="347.6" cy="150.2" r="0.68"/><circle cx="351.1" cy="147.7" r="0.68"/><circle cx="347.1" cy="145.2" r="0.68"/><circle cx="350.7" cy="148.9" r="0.68"/><circle cx="345.5" cy="146.6" r="0.68"/><circle cx="347.7" cy="144.5" r="0.68"/><circle cx="345.1" cy="138.4" r="0.68"/><circle cx="345.1" cy="137.9" r="0.68"/><circle cx="350.4" cy="146.6" r="0.68"/><circle cx="343.4" cy="149.5" r="0.68"/><circle cx="348.8" cy="137.5" r="0.68"/><circle cx="351.2" cy="147.1" r="0.68"/><circle cx="351.1" cy="140.3" r="0.68"/><circle cx="348.5" cy="146.4" r="0.68"/><circle cx="347.4" cy="145.1" r="0.68"/><circle cx="349.4" cy="138.5" r="0.68"/><circle cx="343.3" cy="138.9" r="0.68"/><circle cx="344.6" cy="141.1" r="0.68"/><circle cx="348.0" cy="145.6" r="0.68"/><circle cx="346.7" cy="140.7" r="0.68"/><circle cx="345.1" cy="148.8" r="0.68"/><circle cx="349.3" cy="144.7" r="0.68"/><circle cx="345.7" cy="150.7" r="0.68"/><circle cx="344.5" cy="147.5" r="0.68"/><circle cx="350.3" cy="143.0" r="0.68"/><circle cx="349.1" cy="139.3" r="0.68"/><circle cx="350.0" cy="145.2" r="0.68"/><circle cx="342.2" cy="146.9" r="0.68"/><circle cx="344.0" cy="149.6" r="0.68"/><circle cx="344.2" cy="143.3" r="0.68"/><circle cx="347.7" cy="142.4" r="0.68"/><circle cx="347.5" cy="141.3" r="0.68"/><circle cx="349.0" cy="144.2" r="0.68"/><circle cx="347.0" cy="136.5" r="0.68"/><circle cx="350.4" cy="144.3" r="0.68"/><circle cx="341.8" cy="144.6" r="0.68"/><circle cx="348.1" cy="149.2" r="0.68"/><circle cx="343.8" cy="150.0" r="0.68"/><circle cx="346.3" cy="151.8" r="0.68"/><circle cx="346.1" cy="147.7" r="0.68"/><circle cx="345.4" cy="139.0" r="0.68"/><circle cx="349.9" cy="148.2" r="0.68"/></g>
<g fill="#a3b2be"><circle cx="335.0" cy="164.8" r="0.68"/><circle cx="350.1" cy="164.8" r="0.68"/><circle cx="348.4" cy="158.3" r="0.68"/><circle cx="342.8" cy="158.9" r="0.68"/><circle cx="354.8" cy="154.3" r="0.68"/><circle cx="355.1" cy="160.5" r="0.68"/><circle cx="342.3" cy="166.3" r="0.68"/><circle cx="346.0" cy="164.3" r="0.68"/><circle cx="351.4" cy="162.7" r="0.68"/><circle cx="336.8" cy="165.6" r="0.68"/><circle cx="349.2" cy="164.1" r="0.68"/><circle cx="351.9" cy="161.7" r="0.68"/><circle cx="354.7" cy="156.6" r="0.68"/><circle cx="351.0" cy="159.5" r="0.68"/><circle cx="337.8" cy="162.6" r="0.68"/><circle cx="342.8" cy="164.9" r="0.68"/><circle cx="350.0" cy="160.5" r="0.68"/><circle cx="348.5" cy="159.9" r="0.68"/><circle cx="336.5" cy="162.1" r="0.68"/><circle cx="342.9" cy="164.1" r="0.68"/><circle cx="355.2" cy="159.5" r="0.68"/><circle cx="347.1" cy="164.2" r="0.68"/><circle cx="352.0" cy="163.5" r="0.68"/><circle cx="348.7" cy="159.8" r="0.68"/><circle cx="340.7" cy="162.4" r="0.68"/><circle cx="352.2" cy="163.7" r="0.68"/><circle cx="348.4" cy="156.8" r="0.68"/><circle cx="343.4" cy="159.8" r="0.68"/><circle cx="348.2" cy="159.1" r="0.68"/><circle cx="337.5" cy="162.8" r="0.68"/><circle cx="352.1" cy="158.8" r="0.68"/><circle cx="336.9" cy="164.7" r="0.68"/><circle cx="356.0" cy="160.8" r="0.68"/><circle cx="346.3" cy="163.8" r="0.68"/><circle cx="345.5" cy="162.6" r="0.68"/><circle cx="353.3" cy="160.8" r="0.68"/><circle cx="343.1" cy="167.2" r="0.68"/><circle cx="338.1" cy="163.3" r="0.68"/><circle cx="342.6" cy="164.4" r="0.68"/><circle cx="343.3" cy="163.5" r="0.68"/><circle cx="338.5" cy="164.1" r="0.68"/><circle cx="356.0" cy="160.9" r="0.68"/><circle cx="338.4" cy="165.0" r="0.68"/><circle cx="336.2" cy="164.6" r="0.68"/><circle cx="352.8" cy="162.5" r="0.68"/><circle cx="344.5" cy="161.4" r="0.68"/><circle cx="338.5" cy="167.5" r="0.68"/><circle cx="341.7" cy="162.6" r="0.68"/><circle cx="344.5" cy="157.4" r="0.68"/><circle cx="353.4" cy="158.3" r="0.68"/><circle cx="353.8" cy="157.0" r="0.68"/><circle cx="340.4" cy="160.2" r="0.68"/><circle cx="343.5" cy="162.6" r="0.68"/><circle cx="349.2" cy="158.4" r="0.68"/><circle cx="336.4" cy="165.5" r="0.68"/><circle cx="349.1" cy="156.8" r="0.68"/><circle cx="338.7" cy="164.6" r="0.68"/><circle cx="337.1" cy="166.4" r="0.68"/><circle cx="347.9" cy="164.7" r="0.68"/><circle cx="337.8" cy="163.4" r="0.68"/><circle cx="346.0" cy="164.1" r="0.68"/><circle cx="343.7" cy="166.2" r="0.68"/><circle cx="346.6" cy="157.0" r="0.68"/><circle cx="345.0" cy="160.5" r="0.68"/><circle cx="346.2" cy="165.9" r="0.68"/><circle cx="344.5" cy="161.4" r="0.68"/><circle cx="349.3" cy="165.6" r="0.68"/><circle cx="342.2" cy="159.3" r="0.68"/><circle cx="348.6" cy="162.5" r="0.68"/><circle cx="345.5" cy="160.3" r="0.68"/><circle cx="350.6" cy="162.4" r="0.68"/><circle cx="341.3" cy="165.9" r="0.68"/><circle cx="342.0" cy="160.1" r="0.68"/><circle cx="345.9" cy="164.6" r="0.68"/><circle cx="343.3" cy="161.3" r="0.68"/><circle cx="353.3" cy="157.4" r="0.68"/><circle cx="353.3" cy="159.1" r="0.68"/><circle cx="345.3" cy="157.1" r="0.68"/><circle cx="349.0" cy="164.9" r="0.68"/><circle cx="340.3" cy="161.8" r="0.68"/><circle cx="348.6" cy="164.8" r="0.68"/><circle cx="334.0" cy="163.8" r="0.68"/><circle cx="354.7" cy="161.2" r="0.68"/><circle cx="355.6" cy="162.1" r="0.68"/><circle cx="349.1" cy="164.8" r="0.68"/><circle cx="355.3" cy="162.2" r="0.68"/><circle cx="348.1" cy="162.4" r="0.68"/><circle cx="350.1" cy="161.9" r="0.68"/><circle cx="349.7" cy="156.2" r="0.68"/><circle cx="349.3" cy="159.9" r="0.68"/><circle cx="351.7" cy="154.5" r="0.68"/><circle cx="349.1" cy="158.5" r="0.68"/><circle cx="346.8" cy="156.9" r="0.68"/><circle cx="340.4" cy="159.3" r="0.68"/><circle cx="340.8" cy="159.5" r="0.68"/><circle cx="352.9" cy="161.6" r="0.68"/><circle cx="355.5" cy="159.7" r="0.68"/><circle cx="348.8" cy="156.2" r="0.68"/><circle cx="335.2" cy="166.0" r="0.68"/><circle cx="350.6" cy="156.6" r="0.68"/><circle cx="351.0" cy="155.8" r="0.68"/><circle cx="334.2" cy="164.6" r="0.68"/><circle cx="350.9" cy="154.3" r="0.68"/><circle cx="348.4" cy="163.6" r="0.68"/><circle cx="344.3" cy="167.0" r="0.68"/><circle cx="339.2" cy="167.5" r="0.68"/><circle cx="353.0" cy="154.2" r="0.68"/><circle cx="340.6" cy="163.9" r="0.68"/><circle cx="337.1" cy="165.9" r="0.68"/><circle cx="342.0" cy="161.6" r="0.68"/><circle cx="343.7" cy="163.2" r="0.68"/><circle cx="336.6" cy="165.0" r="0.68"/><circle cx="341.9" cy="162.7" r="0.68"/><circle cx="348.4" cy="159.3" r="0.68"/><circle cx="342.5" cy="164.8" r="0.68"/><circle cx="346.9" cy="157.4" r="0.68"/><circle cx="341.1" cy="162.1" r="0.68"/><circle cx="347.7" cy="157.6" r="0.68"/><circle cx="343.5" cy="166.3" r="0.68"/><circle cx="342.2" cy="163.3" r="0.68"/><circle cx="347.7" cy="166.4" r="0.68"/><circle cx="352.8" cy="157.2" r="0.68"/><circle cx="343.4" cy="161.8" r="0.68"/><circle cx="347.0" cy="157.1" r="0.68"/><circle cx="346.6" cy="165.0" r="0.68"/><circle cx="337.9" cy="164.3" r="0.68"/><circle cx="355.8" cy="156.5" r="0.68"/><circle cx="347.9" cy="163.2" r="0.68"/><circle cx="339.2" cy="164.3" r="0.68"/><circle cx="352.4" cy="159.9" r="0.68"/><circle cx="335.1" cy="165.1" r="0.68"/><circle cx="351.9" cy="156.5" r="0.68"/><circle cx="347.2" cy="166.5" r="0.68"/><circle cx="354.7" cy="160.8" r="0.68"/><circle cx="344.7" cy="161.8" r="0.68"/><circle cx="337.4" cy="163.5" r="0.68"/><circle cx="341.9" cy="161.5" r="0.68"/><circle cx="342.9" cy="160.8" r="0.68"/><circle cx="335.6" cy="162.5" r="0.68"/><circle cx="352.3" cy="155.3" r="0.68"/><circle cx="347.6" cy="158.2" r="0.68"/><circle cx="354.2" cy="160.3" r="0.68"/><circle cx="346.9" cy="156.9" r="0.68"/><circle cx="352.1" cy="159.4" r="0.68"/><circle cx="346.7" cy="166.1" r="0.68"/><circle cx="344.2" cy="167.2" r="0.68"/><circle cx="347.7" cy="159.0" r="0.68"/><circle cx="339.3" cy="161.5" r="0.68"/><circle cx="349.4" cy="158.9" r="0.68"/><circle cx="353.5" cy="153.7" r="0.68"/></g>
<g fill="#d0463d"><circle cx="334.5" cy="152.6" r="0.62"/><circle cx="331.9" cy="137.6" r="0.62"/><circle cx="329.8" cy="154.3" r="0.62"/><circle cx="318.1" cy="138.6" r="0.62"/><circle cx="321.7" cy="131.3" r="0.62"/><circle cx="327.1" cy="132.9" r="0.62"/><circle cx="321.3" cy="132.0" r="0.62"/><circle cx="332.9" cy="133.9" r="0.62"/><circle cx="336.5" cy="159.1" r="0.62"/><circle cx="335.9" cy="149.6" r="0.62"/><circle cx="326.4" cy="139.1" r="0.62"/><circle cx="335.4" cy="144.1" r="0.62"/><circle cx="330.7" cy="132.0" r="0.62"/><circle cx="332.8" cy="146.9" r="0.62"/><circle cx="321.9" cy="141.7" r="0.62"/><circle cx="319.3" cy="136.6" r="0.62"/><circle cx="335.8" cy="138.9" r="0.62"/><circle cx="323.2" cy="159.6" r="0.62"/><circle cx="331.7" cy="134.5" r="0.62"/><circle cx="327.1" cy="137.2" r="0.62"/><circle cx="321.7" cy="134.1" r="0.62"/><circle cx="324.3" cy="162.8" r="0.62"/><circle cx="317.9" cy="137.3" r="0.62"/><circle cx="333.1" cy="137.5" r="0.62"/><circle cx="335.0" cy="139.2" r="0.62"/><circle cx="335.6" cy="145.9" r="0.62"/><circle cx="320.0" cy="142.6" r="0.62"/><circle cx="329.3" cy="131.8" r="0.62"/><circle cx="332.7" cy="133.9" r="0.62"/><circle cx="330.2" cy="144.8" r="0.62"/><circle cx="322.1" cy="134.3" r="0.62"/><circle cx="330.3" cy="152.5" r="0.62"/><circle cx="335.1" cy="148.0" r="0.62"/><circle cx="333.2" cy="141.6" r="0.62"/><circle cx="333.0" cy="128.8" r="0.62"/><circle cx="335.1" cy="139.0" r="0.62"/><circle cx="335.9" cy="158.2" r="0.62"/><circle cx="327.4" cy="127.4" r="0.62"/><circle cx="337.5" cy="144.1" r="0.62"/><circle cx="336.6" cy="136.5" r="0.62"/><circle cx="324.4" cy="132.7" r="0.62"/><circle cx="324.5" cy="148.4" r="0.62"/><circle cx="326.3" cy="145.5" r="0.62"/><circle cx="335.3" cy="158.2" r="0.62"/><circle cx="324.7" cy="154.1" r="0.62"/><circle cx="338.6" cy="144.8" r="0.62"/><circle cx="327.9" cy="146.1" r="0.62"/><circle cx="328.5" cy="127.6" r="0.62"/><circle cx="332.4" cy="133.9" r="0.62"/><circle cx="329.5" cy="145.8" r="0.62"/><circle cx="332.5" cy="130.5" r="0.62"/><circle cx="336.5" cy="152.8" r="0.62"/><circle cx="327.4" cy="145.0" r="0.62"/><circle cx="322.3" cy="131.2" r="0.62"/><circle cx="325.3" cy="131.8" r="0.62"/><circle cx="329.8" cy="158.1" r="0.62"/><circle cx="333.6" cy="132.8" r="0.62"/><circle cx="324.9" cy="142.1" r="0.62"/><circle cx="335.8" cy="145.9" r="0.62"/><circle cx="325.1" cy="161.0" r="0.62"/><circle cx="334.3" cy="139.1" r="0.62"/><circle cx="321.3" cy="139.0" r="0.62"/><circle cx="326.0" cy="162.4" r="0.62"/><circle cx="335.0" cy="159.9" r="0.62"/><circle cx="335.2" cy="157.6" r="0.62"/><circle cx="321.5" cy="142.1" r="0.62"/><circle cx="330.8" cy="140.0" r="0.62"/><circle cx="328.3" cy="129.3" r="0.62"/><circle cx="326.0" cy="145.1" r="0.62"/><circle cx="338.2" cy="149.8" r="0.62"/><circle cx="335.1" cy="158.9" r="0.62"/><circle cx="331.0" cy="136.4" r="0.62"/><circle cx="331.9" cy="136.7" r="0.62"/><circle cx="328.6" cy="160.4" r="0.62"/><circle cx="330.5" cy="135.9" r="0.62"/><circle cx="328.1" cy="142.5" r="0.62"/><circle cx="338.6" cy="145.5" r="0.62"/><circle cx="322.0" cy="143.7" r="0.62"/><circle cx="328.4" cy="132.2" r="0.62"/><circle cx="322.6" cy="141.6" r="0.62"/><circle cx="322.5" cy="135.6" r="0.62"/><circle cx="335.8" cy="148.9" r="0.62"/><circle cx="329.3" cy="150.4" r="0.62"/><circle cx="326.7" cy="146.7" r="0.62"/><circle cx="330.3" cy="143.8" r="0.62"/><circle cx="323.0" cy="135.6" r="0.62"/><circle cx="324.8" cy="148.1" r="0.62"/><circle cx="336.4" cy="135.5" r="0.62"/><circle cx="329.0" cy="144.6" r="0.62"/><circle cx="336.6" cy="142.8" r="0.62"/><circle cx="326.1" cy="153.5" r="0.62"/><circle cx="318.1" cy="135.0" r="0.62"/><circle cx="319.2" cy="139.0" r="0.62"/><circle cx="330.4" cy="157.7" r="0.62"/><circle cx="335.4" cy="145.6" r="0.62"/><circle cx="333.4" cy="153.8" r="0.62"/><circle cx="333.9" cy="144.1" r="0.62"/><circle cx="334.5" cy="152.5" r="0.62"/><circle cx="334.0" cy="148.1" r="0.62"/><circle cx="327.5" cy="161.7" r="0.62"/><circle cx="329.3" cy="142.0" r="0.62"/><circle cx="334.5" cy="158.5" r="0.62"/><circle cx="330.2" cy="140.6" r="0.62"/><circle cx="326.4" cy="143.4" r="0.62"/><circle cx="333.0" cy="137.4" r="0.62"/><circle cx="325.0" cy="147.0" r="0.62"/><circle cx="324.8" cy="138.5" r="0.62"/><circle cx="334.5" cy="157.6" r="0.62"/><circle cx="327.6" cy="142.9" r="0.62"/><circle cx="320.0" cy="137.8" r="0.62"/><circle cx="329.6" cy="130.0" r="0.62"/><circle cx="337.8" cy="138.6" r="0.62"/><circle cx="335.9" cy="157.2" r="0.62"/><circle cx="325.8" cy="159.9" r="0.62"/><circle cx="329.2" cy="144.9" r="0.62"/><circle cx="337.8" cy="154.9" r="0.62"/><circle cx="328.0" cy="145.6" r="0.62"/><circle cx="332.1" cy="140.9" r="0.62"/><circle cx="324.2" cy="148.4" r="0.62"/><circle cx="324.0" cy="161.2" r="0.62"/><circle cx="331.9" cy="145.9" r="0.62"/><circle cx="317.9" cy="140.4" r="0.62"/><circle cx="325.2" cy="147.2" r="0.62"/><circle cx="329.4" cy="158.7" r="0.62"/><circle cx="338.8" cy="144.5" r="0.62"/><circle cx="326.2" cy="149.5" r="0.62"/><circle cx="328.3" cy="156.4" r="0.62"/><circle cx="319.6" cy="138.3" r="0.62"/><circle cx="327.9" cy="130.8" r="0.62"/><circle cx="337.1" cy="151.8" r="0.62"/><circle cx="337.0" cy="142.1" r="0.62"/><circle cx="319.3" cy="137.3" r="0.62"/><circle cx="327.9" cy="145.1" r="0.62"/><circle cx="320.1" cy="133.4" r="0.62"/><circle cx="330.7" cy="148.7" r="0.62"/><circle cx="330.9" cy="128.3" r="0.62"/><circle cx="325.5" cy="155.4" r="0.62"/><circle cx="335.9" cy="148.1" r="0.62"/><circle cx="331.7" cy="133.9" r="0.62"/><circle cx="327.5" cy="146.9" r="0.62"/><circle cx="329.4" cy="141.7" r="0.62"/><circle cx="318.4" cy="132.5" r="0.62"/><circle cx="333.9" cy="130.7" r="0.62"/><circle cx="317.9" cy="133.0" r="0.62"/><circle cx="328.1" cy="156.7" r="0.62"/><circle cx="330.3" cy="156.1" r="0.62"/><circle cx="334.1" cy="138.5" r="0.62"/><circle cx="332.8" cy="139.6" r="0.62"/><circle cx="319.6" cy="136.5" r="0.62"/><circle cx="329.6" cy="139.5" r="0.62"/><circle cx="326.4" cy="140.8" r="0.62"/><circle cx="329.6" cy="161.6" r="0.62"/><circle cx="326.1" cy="149.3" r="0.62"/><circle cx="323.1" cy="159.4" r="0.62"/><circle cx="335.2" cy="137.8" r="0.62"/><circle cx="330.1" cy="161.6" r="0.62"/><circle cx="327.5" cy="161.3" r="0.62"/><circle cx="321.4" cy="140.9" r="0.62"/><circle cx="332.9" cy="134.8" r="0.62"/><circle cx="323.0" cy="158.6" r="0.62"/><circle cx="327.2" cy="155.6" r="0.62"/><circle cx="321.4" cy="133.1" r="0.62"/><circle cx="324.2" cy="133.6" r="0.62"/><circle cx="329.1" cy="131.0" r="0.62"/><circle cx="328.4" cy="140.8" r="0.62"/><circle cx="325.3" cy="129.2" r="0.62"/><circle cx="324.0" cy="135.7" r="0.62"/><circle cx="320.1" cy="137.1" r="0.62"/><circle cx="331.6" cy="139.2" r="0.62"/><circle cx="317.7" cy="136.6" r="0.62"/><circle cx="326.2" cy="157.2" r="0.62"/><circle cx="335.0" cy="132.6" r="0.62"/><circle cx="324.0" cy="153.0" r="0.62"/><circle cx="324.6" cy="161.6" r="0.62"/><circle cx="327.7" cy="135.1" r="0.62"/><circle cx="326.5" cy="131.6" r="0.62"/><circle cx="332.6" cy="136.3" r="0.62"/><circle cx="337.3" cy="148.1" r="0.62"/><circle cx="324.4" cy="135.7" r="0.62"/><circle cx="330.2" cy="134.5" r="0.62"/><circle cx="327.9" cy="146.5" r="0.62"/><circle cx="324.8" cy="150.7" r="0.62"/><circle cx="329.2" cy="138.1" r="0.62"/><circle cx="324.9" cy="129.9" r="0.62"/><circle cx="324.2" cy="145.0" r="0.62"/><circle cx="322.7" cy="129.2" r="0.62"/><circle cx="323.0" cy="135.0" r="0.62"/><circle cx="322.3" cy="141.4" r="0.62"/><circle cx="337.5" cy="154.9" r="0.62"/><circle cx="336.9" cy="158.1" r="0.62"/><circle cx="318.7" cy="136.8" r="0.62"/><circle cx="331.6" cy="139.6" r="0.62"/><circle cx="325.5" cy="150.7" r="0.62"/><circle cx="332.4" cy="135.8" r="0.62"/><circle cx="336.0" cy="139.6" r="0.62"/><circle cx="330.7" cy="133.4" r="0.62"/><circle cx="333.3" cy="152.7" r="0.62"/><circle cx="319.4" cy="134.0" r="0.62"/><circle cx="322.8" cy="140.6" r="0.62"/><circle cx="316.4" cy="138.1" r="0.62"/><circle cx="330.9" cy="133.3" r="0.62"/><circle cx="335.8" cy="147.5" r="0.62"/><circle cx="332.8" cy="136.0" r="0.62"/><circle cx="326.0" cy="151.6" r="0.62"/><circle cx="335.7" cy="155.0" r="0.62"/><circle cx="336.2" cy="148.8" r="0.62"/><circle cx="316.6" cy="135.7" r="0.62"/><circle cx="333.6" cy="129.9" r="0.62"/><circle cx="332.3" cy="141.1" r="0.62"/><circle cx="333.6" cy="156.9" r="0.62"/><circle cx="322.3" cy="130.1" r="0.62"/><circle cx="338.4" cy="142.2" r="0.62"/><circle cx="338.0" cy="151.9" r="0.62"/><circle cx="333.4" cy="156.9" r="0.62"/><circle cx="330.7" cy="143.2" r="0.62"/><circle cx="325.9" cy="145.4" r="0.62"/><circle cx="332.5" cy="156.0" r="0.62"/><circle cx="339.0" cy="149.9" r="0.62"/><circle cx="328.7" cy="135.9" r="0.62"/><circle cx="325.5" cy="134.1" r="0.62"/><circle cx="323.0" cy="131.8" r="0.62"/><circle cx="332.6" cy="151.1" r="0.62"/><circle cx="321.3" cy="135.6" r="0.62"/><circle cx="328.0" cy="143.0" r="0.62"/><circle cx="338.1" cy="139.6" r="0.62"/><circle cx="322.7" cy="158.9" r="0.62"/><circle cx="323.6" cy="156.4" r="0.62"/><circle cx="328.8" cy="154.4" r="0.62"/><circle cx="330.0" cy="143.5" r="0.62"/><circle cx="334.0" cy="157.0" r="0.62"/><circle cx="318.3" cy="137.3" r="0.62"/><circle cx="324.2" cy="134.3" r="0.62"/><circle cx="317.0" cy="137.0" r="0.62"/><circle cx="326.3" cy="130.9" r="0.62"/><circle cx="323.4" cy="143.8" r="0.62"/><circle cx="324.3" cy="132.9" r="0.62"/><circle cx="339.2" cy="147.3" r="0.62"/><circle cx="326.0" cy="133.7" r="0.62"/><circle cx="337.8" cy="150.2" r="0.62"/><circle cx="330.7" cy="160.7" r="0.62"/><circle cx="331.3" cy="135.9" r="0.62"/><circle cx="321.5" cy="131.8" r="0.62"/><circle cx="335.8" cy="137.6" r="0.62"/><circle cx="335.6" cy="153.7" r="0.62"/><circle cx="323.4" cy="133.5" r="0.62"/><circle cx="335.5" cy="138.4" r="0.62"/><circle cx="324.4" cy="146.8" r="0.62"/><circle cx="324.4" cy="157.0" r="0.62"/><circle cx="329.2" cy="149.6" r="0.62"/><circle cx="335.3" cy="152.4" r="0.62"/><circle cx="327.5" cy="144.9" r="0.62"/><circle cx="319.3" cy="137.7" r="0.62"/><circle cx="329.6" cy="129.7" r="0.62"/><circle cx="332.1" cy="132.7" r="0.62"/><circle cx="326.2" cy="162.0" r="0.62"/><circle cx="326.1" cy="133.7" r="0.62"/><circle cx="335.8" cy="157.8" r="0.62"/><circle cx="334.5" cy="142.2" r="0.62"/><circle cx="328.0" cy="142.1" r="0.62"/><circle cx="323.7" cy="142.7" r="0.62"/><circle cx="331.6" cy="156.8" r="0.62"/><circle cx="322.7" cy="142.9" r="0.62"/><circle cx="329.1" cy="139.4" r="0.62"/><circle cx="323.3" cy="143.5" r="0.62"/><circle cx="338.8" cy="149.3" r="0.62"/><circle cx="331.9" cy="148.9" r="0.62"/><circle cx="338.6" cy="144.3" r="0.62"/><circle cx="331.2" cy="137.7" r="0.62"/><circle cx="323.8" cy="158.9" r="0.62"/><circle cx="331.9" cy="143.0" r="0.62"/><circle cx="324.5" cy="147.9" r="0.62"/><circle cx="325.6" cy="146.0" r="0.62"/><circle cx="329.2" cy="141.2" r="0.62"/><circle cx="318.3" cy="133.4" r="0.62"/><circle cx="337.0" cy="146.7" r="0.62"/><circle cx="321.6" cy="130.2" r="0.62"/><circle cx="328.3" cy="135.9" r="0.62"/><circle cx="327.3" cy="146.9" r="0.62"/><circle cx="329.7" cy="129.7" r="0.62"/><circle cx="325.4" cy="129.5" r="0.62"/><circle cx="326.1" cy="158.1" r="0.62"/><circle cx="328.8" cy="152.7" r="0.62"/><circle cx="333.8" cy="131.0" r="0.62"/><circle cx="325.0" cy="133.0" r="0.62"/><circle cx="338.7" cy="147.2" r="0.62"/><circle cx="334.3" cy="131.8" r="0.62"/><circle cx="321.2" cy="140.3" r="0.62"/><circle cx="320.7" cy="137.7" r="0.62"/><circle cx="332.6" cy="142.3" r="0.62"/><circle cx="337.0" cy="149.3" r="0.62"/><circle cx="336.6" cy="147.2" r="0.62"/><circle cx="323.8" cy="154.5" r="0.62"/><circle cx="332.0" cy="156.8" r="0.62"/><circle cx="318.5" cy="140.3" r="0.62"/><circle cx="330.1" cy="130.4" r="0.62"/><circle cx="328.8" cy="155.9" r="0.62"/><circle cx="331.8" cy="136.0" r="0.62"/><circle cx="320.2" cy="143.0" r="0.62"/><circle cx="335.8" cy="147.9" r="0.62"/><circle cx="324.7" cy="132.0" r="0.62"/></g>
<circle cx="335.4" cy="128.8" r="2.4" fill="#000"/>
<circle cx="323" cy="165" r="2.4" fill="#000"/>
<circle cx="349.2" cy="146.2" r="2.4" fill="#000"/>
<path d="M337.5,128.8 H364.6 V146.2 H351.5" fill="none" stroke="#333" stroke-width="0.8" stroke-dasharray="1.4,1"/>
<path d="M323,167 V179.2" fill="none" stroke="#333" stroke-width="0.8"/><path d="M323,179.2 H365" fill="none" stroke="#333" stroke-width="0.8" stroke-dasharray="1.4,1"/>
<text x="365.68" y="128.00" font-size="6.4" text-anchor="start" fill="#333" textLength="22.77" lengthAdjust="spacingAndGlyphs">Wildtype</text>
<text x="365.68" y="135.30" font-size="6.4" text-anchor="start" fill="#333" textLength="13.77" lengthAdjust="spacingAndGlyphs">Cells</text>
<text x="365.38" y="175.30" font-size="6.4" text-anchor="start" fill="#333" textLength="14.57" lengthAdjust="spacingAndGlyphs">CHIP</text>
<text x="365.68" y="183.00" font-size="6.4" text-anchor="start" fill="#333" textLength="13.77" lengthAdjust="spacingAndGlyphs">Cells</text>
<text x="269.51" y="219.50" font-size="9.75" text-anchor="start" fill="#231f20" textLength="120.47" lengthAdjust="spacingAndGlyphs" stroke="#231f20" stroke-width="0.12">Use Mitochondrial DNA SNVs</text>
<text x="269.51" y="229.40" font-size="9.75" text-anchor="start" fill="#231f20" textLength="120.37" lengthAdjust="spacingAndGlyphs" stroke="#231f20" stroke-width="0.12">to ID CHIP cells in scRNAseq</text>
<text x="7.20" y="254.70" font-size="13" text-anchor="start" font-weight="bold" fill="#000">B</text>
<text x="30.22" y="255.90" font-size="9.54" text-anchor="start" fill="#231f20" textLength="73.44" lengthAdjust="spacingAndGlyphs" stroke="#231f20" stroke-width="0.12">Cell types in TET2</text>
<g fill="#f3a2a7"><circle cx="58.3" cy="276.4" r="0.95"/><circle cx="55.7" cy="279.9" r="0.95"/><circle cx="59.4" cy="269.4" r="0.95"/><circle cx="50.7" cy="271.2" r="0.95"/><circle cx="53.0" cy="280.8" r="0.95"/><circle cx="57.2" cy="269.7" r="0.95"/><circle cx="48.4" cy="280.1" r="0.95"/><circle cx="55.5" cy="274.4" r="0.95"/><circle cx="52.6" cy="271.3" r="0.95"/><circle cx="57.9" cy="274.4" r="0.95"/><circle cx="58.3" cy="277.3" r="0.95"/><circle cx="54.2" cy="269.8" r="0.95"/><circle cx="48.2" cy="274.0" r="0.95"/><circle cx="52.5" cy="276.9" r="0.95"/><circle cx="51.3" cy="273.9" r="0.95"/><circle cx="55.4" cy="272.8" r="0.95"/><circle cx="49.7" cy="275.9" r="0.95"/><circle cx="49.5" cy="276.8" r="0.95"/><circle cx="53.4" cy="281.9" r="0.95"/><circle cx="60.0" cy="269.7" r="0.95"/><circle cx="53.8" cy="279.5" r="0.95"/><circle cx="58.3" cy="279.5" r="0.95"/><circle cx="54.9" cy="277.6" r="0.95"/><circle cx="51.0" cy="272.9" r="0.95"/><circle cx="57.2" cy="280.8" r="0.95"/><circle cx="59.2" cy="278.3" r="0.95"/><circle cx="50.1" cy="279.4" r="0.95"/><circle cx="56.4" cy="276.0" r="0.95"/><circle cx="54.9" cy="273.9" r="0.95"/><circle cx="53.7" cy="274.6" r="0.95"/><circle cx="52.7" cy="274.1" r="0.95"/><circle cx="49.3" cy="272.3" r="0.95"/><circle cx="50.8" cy="271.0" r="0.95"/><circle cx="52.3" cy="275.1" r="0.95"/><circle cx="53.9" cy="273.2" r="0.95"/><circle cx="50.1" cy="273.3" r="0.95"/><circle cx="56.2" cy="276.5" r="0.95"/><circle cx="59.2" cy="273.7" r="0.95"/><circle cx="59.0" cy="277.0" r="0.95"/><circle cx="50.9" cy="279.5" r="0.95"/><circle cx="51.9" cy="280.7" r="0.95"/><circle cx="46.8" cy="275.6" r="0.95"/><circle cx="58.7" cy="272.9" r="0.95"/><circle cx="48.2" cy="272.8" r="0.95"/><circle cx="55.9" cy="272.1" r="0.95"/><circle cx="51.5" cy="271.9" r="0.95"/><circle cx="54.4" cy="280.7" r="0.95"/><circle cx="55.1" cy="271.8" r="0.95"/><circle cx="56.3" cy="282.0" r="0.95"/><circle cx="54.4" cy="270.3" r="0.95"/><circle cx="57.4" cy="280.8" r="0.95"/><circle cx="50.7" cy="271.0" r="0.95"/><circle cx="48.5" cy="276.3" r="0.95"/><circle cx="58.3" cy="277.7" r="0.95"/><circle cx="59.0" cy="272.0" r="0.95"/><circle cx="50.5" cy="279.2" r="0.95"/><circle cx="55.1" cy="274.6" r="0.95"/><circle cx="55.5" cy="273.7" r="0.95"/><circle cx="46.5" cy="277.5" r="0.95"/><circle cx="50.6" cy="275.8" r="0.95"/><circle cx="54.3" cy="272.6" r="0.95"/><circle cx="59.0" cy="276.7" r="0.95"/><circle cx="59.9" cy="269.9" r="0.95"/><circle cx="54.6" cy="278.8" r="0.95"/><circle cx="50.5" cy="270.4" r="0.95"/><circle cx="48.0" cy="271.1" r="0.95"/><circle cx="56.8" cy="270.4" r="0.95"/><circle cx="57.4" cy="274.8" r="0.95"/><circle cx="53.5" cy="277.0" r="0.95"/><circle cx="53.7" cy="277.9" r="0.95"/><circle cx="54.4" cy="273.6" r="0.95"/><circle cx="56.4" cy="272.6" r="0.95"/><circle cx="56.0" cy="279.4" r="0.95"/><circle cx="56.9" cy="273.3" r="0.95"/><circle cx="52.3" cy="272.9" r="0.95"/></g>
<g fill="#ef8a2b"><circle cx="52.8" cy="294.0" r="0.95"/><circle cx="55.2" cy="289.7" r="0.95"/><circle cx="55.1" cy="285.7" r="0.95"/><circle cx="53.4" cy="287.1" r="0.95"/><circle cx="54.9" cy="297.9" r="0.95"/><circle cx="55.2" cy="287.9" r="0.95"/><circle cx="54.1" cy="289.4" r="0.95"/><circle cx="55.4" cy="291.1" r="0.95"/><circle cx="49.9" cy="295.1" r="0.95"/><circle cx="55.1" cy="293.8" r="0.95"/><circle cx="50.3" cy="297.0" r="0.95"/><circle cx="55.0" cy="296.4" r="0.95"/><circle cx="50.3" cy="294.4" r="0.95"/><circle cx="53.8" cy="291.0" r="0.95"/><circle cx="53.6" cy="297.3" r="0.95"/><circle cx="50.2" cy="295.1" r="0.95"/><circle cx="54.5" cy="285.7" r="0.95"/><circle cx="54.7" cy="297.3" r="0.95"/><circle cx="50.9" cy="296.0" r="0.95"/><circle cx="54.5" cy="285.0" r="0.95"/><circle cx="53.0" cy="287.8" r="0.95"/><circle cx="52.4" cy="285.9" r="0.95"/><circle cx="50.4" cy="294.4" r="0.95"/><circle cx="50.2" cy="295.2" r="0.95"/><circle cx="53.0" cy="286.0" r="0.95"/><circle cx="51.8" cy="291.6" r="0.95"/><circle cx="56.1" cy="295.1" r="0.95"/><circle cx="52.3" cy="292.5" r="0.95"/><circle cx="51.9" cy="284.6" r="0.95"/><circle cx="54.5" cy="293.9" r="0.95"/><circle cx="53.4" cy="292.4" r="0.95"/><circle cx="54.5" cy="298.7" r="0.95"/><circle cx="56.0" cy="294.9" r="0.95"/><circle cx="52.2" cy="289.0" r="0.95"/><circle cx="52.1" cy="290.0" r="0.95"/><circle cx="52.3" cy="286.5" r="0.95"/><circle cx="53.9" cy="297.9" r="0.95"/><circle cx="51.0" cy="293.3" r="0.95"/><circle cx="52.0" cy="287.9" r="0.95"/><circle cx="55.7" cy="295.8" r="0.95"/><circle cx="54.6" cy="289.1" r="0.95"/><circle cx="54.2" cy="292.4" r="0.95"/><circle cx="50.9" cy="293.6" r="0.95"/><circle cx="54.9" cy="289.9" r="0.95"/><circle cx="54.7" cy="290.1" r="0.95"/></g>
<g fill="#37a048"><circle cx="70.0" cy="283.3" r="0.95"/><circle cx="71.3" cy="280.6" r="0.95"/><circle cx="70.8" cy="282.7" r="0.95"/><circle cx="67.4" cy="283.3" r="0.95"/><circle cx="67.8" cy="286.1" r="0.95"/><circle cx="69.5" cy="284.4" r="0.95"/><circle cx="69.9" cy="282.0" r="0.95"/><circle cx="70.0" cy="282.5" r="0.95"/><circle cx="72.4" cy="279.8" r="0.95"/><circle cx="67.0" cy="285.3" r="0.95"/><circle cx="69.4" cy="283.6" r="0.95"/><circle cx="68.7" cy="285.4" r="0.95"/><circle cx="72.5" cy="278.7" r="0.95"/><circle cx="66.4" cy="280.9" r="0.95"/><circle cx="71.4" cy="281.8" r="0.95"/><circle cx="71.9" cy="278.9" r="0.95"/><circle cx="71.3" cy="281.0" r="0.95"/><circle cx="69.9" cy="279.8" r="0.95"/><circle cx="68.7" cy="280.7" r="0.95"/><circle cx="67.2" cy="282.9" r="0.95"/><circle cx="71.6" cy="280.1" r="0.95"/><circle cx="68.3" cy="279.8" r="0.95"/><circle cx="72.6" cy="278.4" r="0.95"/><circle cx="67.2" cy="281.5" r="0.95"/><circle cx="69.3" cy="281.0" r="0.95"/><circle cx="71.6" cy="280.3" r="0.95"/><circle cx="69.0" cy="283.7" r="0.95"/><circle cx="72.4" cy="280.8" r="0.95"/><circle cx="68.8" cy="283.0" r="0.95"/><circle cx="73.4" cy="279.3" r="0.95"/><circle cx="68.7" cy="283.8" r="0.95"/><circle cx="71.9" cy="281.1" r="0.95"/><circle cx="70.0" cy="282.2" r="0.95"/><circle cx="69.4" cy="281.9" r="0.95"/><circle cx="72.6" cy="281.4" r="0.95"/><circle cx="69.2" cy="282.2" r="0.95"/><circle cx="71.3" cy="282.8" r="0.95"/><circle cx="71.5" cy="282.1" r="0.95"/><circle cx="69.1" cy="283.0" r="0.95"/><circle cx="72.9" cy="278.9" r="0.95"/><circle cx="75.6" cy="283.9" r="0.95"/><circle cx="75.0" cy="281.5" r="0.95"/><circle cx="75.4" cy="281.4" r="0.95"/><circle cx="77.5" cy="283.0" r="0.95"/><circle cx="72.6" cy="281.9" r="0.95"/><circle cx="81.4" cy="286.6" r="0.95"/><circle cx="77.8" cy="282.6" r="0.95"/><circle cx="77.0" cy="283.6" r="0.95"/><circle cx="72.6" cy="282.0" r="0.95"/><circle cx="77.8" cy="282.9" r="0.95"/><circle cx="80.7" cy="284.6" r="0.95"/><circle cx="79.3" cy="285.4" r="0.95"/><circle cx="75.2" cy="281.0" r="0.95"/><circle cx="73.1" cy="279.9" r="0.95"/><circle cx="80.5" cy="288.0" r="0.95"/><circle cx="76.5" cy="285.3" r="0.95"/><circle cx="75.2" cy="281.2" r="0.95"/><circle cx="80.6" cy="288.3" r="0.95"/><circle cx="76.1" cy="285.1" r="0.95"/><circle cx="74.4" cy="284.2" r="0.95"/><circle cx="75.1" cy="282.3" r="0.95"/><circle cx="78.5" cy="284.1" r="0.95"/><circle cx="73.0" cy="280.3" r="0.95"/><circle cx="75.6" cy="283.3" r="0.95"/><circle cx="78.0" cy="286.5" r="0.95"/><circle cx="78.4" cy="283.4" r="0.95"/><circle cx="75.8" cy="282.6" r="0.95"/><circle cx="73.6" cy="279.9" r="0.95"/><circle cx="77.4" cy="284.1" r="0.95"/><circle cx="73.3" cy="283.4" r="0.95"/><circle cx="77.5" cy="282.5" r="0.95"/><circle cx="74.1" cy="282.8" r="0.95"/><circle cx="74.2" cy="280.2" r="0.95"/><circle cx="77.3" cy="286.5" r="0.95"/><circle cx="78.2" cy="285.5" r="0.95"/><circle cx="73.7" cy="281.5" r="0.95"/><circle cx="78.4" cy="286.4" r="0.95"/><circle cx="78.7" cy="285.6" r="0.95"/><circle cx="74.1" cy="281.1" r="0.95"/><circle cx="82.8" cy="286.5" r="0.95"/><circle cx="78.7" cy="291.7" r="0.95"/><circle cx="79.8" cy="293.0" r="0.95"/><circle cx="77.6" cy="292.9" r="0.95"/><circle cx="77.2" cy="293.8" r="0.95"/><circle cx="78.2" cy="288.5" r="0.95"/><circle cx="79.8" cy="288.3" r="0.95"/><circle cx="79.2" cy="291.1" r="0.95"/><circle cx="80.3" cy="289.8" r="0.95"/><circle cx="80.6" cy="288.1" r="0.95"/><circle cx="77.8" cy="295.0" r="0.95"/><circle cx="77.7" cy="288.9" r="0.95"/><circle cx="78.6" cy="289.2" r="0.95"/><circle cx="78.8" cy="295.6" r="0.95"/><circle cx="79.5" cy="293.7" r="0.95"/><circle cx="78.4" cy="294.4" r="0.95"/><circle cx="78.4" cy="287.8" r="0.95"/><circle cx="78.2" cy="292.7" r="0.95"/><circle cx="80.0" cy="291.0" r="0.95"/><circle cx="79.2" cy="291.3" r="0.95"/><circle cx="78.1" cy="289.0" r="0.95"/><circle cx="78.2" cy="295.0" r="0.95"/><circle cx="79.3" cy="289.8" r="0.95"/><circle cx="79.6" cy="291.2" r="0.95"/><circle cx="77.3" cy="293.5" r="0.95"/><circle cx="77.0" cy="294.8" r="0.95"/><circle cx="84.7" cy="293.6" r="0.95"/><circle cx="86.4" cy="297.8" r="0.95"/><circle cx="85.6" cy="295.1" r="0.95"/><circle cx="87.8" cy="295.2" r="0.95"/><circle cx="87.3" cy="292.9" r="0.95"/><circle cx="85.8" cy="297.2" r="0.95"/><circle cx="85.0" cy="294.2" r="0.95"/><circle cx="84.4" cy="295.5" r="0.95"/><circle cx="87.4" cy="295.2" r="0.95"/><circle cx="87.6" cy="296.3" r="0.95"/><circle cx="84.3" cy="296.0" r="0.95"/><circle cx="85.8" cy="298.2" r="0.95"/><circle cx="85.4" cy="296.2" r="0.95"/><circle cx="86.5" cy="294.3" r="0.95"/><circle cx="86.1" cy="296.3" r="0.95"/><circle cx="87.6" cy="295.1" r="0.95"/><circle cx="86.7" cy="295.5" r="0.95"/><circle cx="85.8" cy="296.8" r="0.95"/><circle cx="87.0" cy="292.0" r="0.95"/><circle cx="85.3" cy="292.7" r="0.95"/></g>
<g fill="#2d6fbe"><circle cx="60.1" cy="312.2" r="0.95"/><circle cx="66.1" cy="317.2" r="0.95"/><circle cx="72.3" cy="302.5" r="0.95"/><circle cx="75.3" cy="302.9" r="0.95"/><circle cx="69.9" cy="307.0" r="0.95"/><circle cx="76.0" cy="304.6" r="0.95"/><circle cx="59.9" cy="310.0" r="0.95"/><circle cx="63.8" cy="305.8" r="0.95"/><circle cx="61.1" cy="303.4" r="0.95"/><circle cx="64.4" cy="307.5" r="0.95"/><circle cx="66.2" cy="305.8" r="0.95"/><circle cx="61.5" cy="322.3" r="0.95"/><circle cx="75.1" cy="308.5" r="0.95"/><circle cx="70.2" cy="314.8" r="0.95"/><circle cx="75.0" cy="302.4" r="0.95"/><circle cx="69.5" cy="302.8" r="0.95"/><circle cx="72.0" cy="301.9" r="0.95"/><circle cx="63.0" cy="301.4" r="0.95"/><circle cx="58.2" cy="311.0" r="0.95"/><circle cx="75.6" cy="306.1" r="0.95"/><circle cx="64.9" cy="306.1" r="0.95"/><circle cx="76.3" cy="304.7" r="0.95"/><circle cx="61.1" cy="321.2" r="0.95"/><circle cx="69.6" cy="310.1" r="0.95"/><circle cx="72.9" cy="311.9" r="0.95"/><circle cx="66.4" cy="311.8" r="0.95"/><circle cx="63.2" cy="320.3" r="0.95"/><circle cx="60.2" cy="314.9" r="0.95"/><circle cx="75.1" cy="309.5" r="0.95"/><circle cx="59.7" cy="315.9" r="0.95"/><circle cx="76.2" cy="305.0" r="0.95"/><circle cx="77.1" cy="303.9" r="0.95"/><circle cx="57.5" cy="319.8" r="0.95"/><circle cx="72.0" cy="304.4" r="0.95"/><circle cx="64.6" cy="311.6" r="0.95"/><circle cx="61.9" cy="318.7" r="0.95"/><circle cx="61.6" cy="320.1" r="0.95"/><circle cx="57.3" cy="318.2" r="0.95"/><circle cx="66.9" cy="295.7" r="0.95"/><circle cx="70.9" cy="306.3" r="0.95"/><circle cx="69.1" cy="312.2" r="0.95"/><circle cx="62.1" cy="321.0" r="0.95"/><circle cx="80.1" cy="304.1" r="0.95"/><circle cx="68.3" cy="297.9" r="0.95"/><circle cx="67.7" cy="315.2" r="0.95"/><circle cx="73.9" cy="308.0" r="0.95"/><circle cx="64.9" cy="299.7" r="0.95"/><circle cx="66.4" cy="302.6" r="0.95"/><circle cx="61.3" cy="316.9" r="0.95"/><circle cx="69.2" cy="307.5" r="0.95"/><circle cx="61.4" cy="315.9" r="0.95"/><circle cx="56.8" cy="320.9" r="0.95"/><circle cx="63.0" cy="304.9" r="0.95"/><circle cx="60.5" cy="313.6" r="0.95"/><circle cx="76.3" cy="308.0" r="0.95"/><circle cx="60.3" cy="318.2" r="0.95"/><circle cx="70.4" cy="309.7" r="0.95"/><circle cx="57.0" cy="322.3" r="0.95"/><circle cx="74.5" cy="305.8" r="0.95"/><circle cx="61.8" cy="312.1" r="0.95"/><circle cx="68.4" cy="313.8" r="0.95"/><circle cx="78.8" cy="305.8" r="0.95"/><circle cx="59.1" cy="312.3" r="0.95"/><circle cx="67.7" cy="312.1" r="0.95"/><circle cx="67.3" cy="295.8" r="0.95"/><circle cx="68.1" cy="306.3" r="0.95"/><circle cx="62.4" cy="314.2" r="0.95"/><circle cx="73.5" cy="308.6" r="0.95"/><circle cx="60.0" cy="322.3" r="0.95"/><circle cx="71.2" cy="295.7" r="0.95"/><circle cx="62.1" cy="306.1" r="0.95"/><circle cx="62.4" cy="323.0" r="0.95"/><circle cx="61.9" cy="314.9" r="0.95"/><circle cx="79.1" cy="302.0" r="0.95"/><circle cx="61.1" cy="319.1" r="0.95"/><circle cx="60.5" cy="309.8" r="0.95"/><circle cx="59.1" cy="318.5" r="0.95"/><circle cx="68.9" cy="313.2" r="0.95"/><circle cx="69.9" cy="302.9" r="0.95"/><circle cx="67.8" cy="297.5" r="0.95"/><circle cx="72.5" cy="300.2" r="0.95"/><circle cx="67.1" cy="297.2" r="0.95"/><circle cx="65.5" cy="303.2" r="0.95"/><circle cx="69.3" cy="308.1" r="0.95"/><circle cx="66.5" cy="312.9" r="0.95"/><circle cx="60.9" cy="323.4" r="0.95"/><circle cx="67.4" cy="316.0" r="0.95"/><circle cx="62.7" cy="303.2" r="0.95"/><circle cx="65.1" cy="303.9" r="0.95"/><circle cx="58.8" cy="307.7" r="0.95"/><circle cx="75.0" cy="302.3" r="0.95"/><circle cx="62.6" cy="306.7" r="0.95"/><circle cx="64.6" cy="318.0" r="0.95"/><circle cx="59.1" cy="319.7" r="0.95"/><circle cx="64.2" cy="313.4" r="0.95"/><circle cx="65.5" cy="310.6" r="0.95"/><circle cx="69.6" cy="314.2" r="0.95"/><circle cx="63.6" cy="322.3" r="0.95"/><circle cx="60.8" cy="307.5" r="0.95"/><circle cx="62.6" cy="301.8" r="0.95"/><circle cx="71.0" cy="314.4" r="0.95"/><circle cx="65.4" cy="298.2" r="0.95"/><circle cx="59.3" cy="309.3" r="0.95"/><circle cx="63.2" cy="317.9" r="0.95"/><circle cx="64.0" cy="306.6" r="0.95"/><circle cx="73.5" cy="307.7" r="0.95"/><circle cx="79.4" cy="304.5" r="0.95"/><circle cx="76.9" cy="300.8" r="0.95"/><circle cx="73.0" cy="302.4" r="0.95"/><circle cx="72.7" cy="312.2" r="0.95"/><circle cx="72.8" cy="299.4" r="0.95"/><circle cx="72.5" cy="311.6" r="0.95"/><circle cx="56.9" cy="320.6" r="0.95"/><circle cx="59.7" cy="324.0" r="0.95"/><circle cx="65.4" cy="316.5" r="0.95"/><circle cx="59.9" cy="318.5" r="0.95"/><circle cx="62.7" cy="305.2" r="0.95"/><circle cx="62.6" cy="318.8" r="0.95"/><circle cx="63.5" cy="305.7" r="0.95"/><circle cx="75.3" cy="300.8" r="0.95"/><circle cx="66.0" cy="305.2" r="0.95"/><circle cx="72.3" cy="308.6" r="0.95"/><circle cx="67.3" cy="297.3" r="0.95"/><circle cx="67.8" cy="316.1" r="0.95"/><circle cx="68.3" cy="299.2" r="0.95"/><circle cx="62.2" cy="307.6" r="0.95"/><circle cx="65.4" cy="308.5" r="0.95"/><circle cx="67.6" cy="303.7" r="0.95"/><circle cx="61.6" cy="314.6" r="0.95"/><circle cx="72.6" cy="309.9" r="0.95"/><circle cx="74.7" cy="310.6" r="0.95"/><circle cx="62.3" cy="309.4" r="0.95"/><circle cx="60.1" cy="319.0" r="0.95"/><circle cx="77.6" cy="305.3" r="0.95"/><circle cx="62.1" cy="312.5" r="0.95"/><circle cx="67.3" cy="298.1" r="0.95"/><circle cx="61.2" cy="317.3" r="0.95"/><circle cx="66.4" cy="315.1" r="0.95"/><circle cx="56.8" cy="323.6" r="0.95"/><circle cx="62.2" cy="308.7" r="0.95"/><circle cx="71.8" cy="300.5" r="0.95"/><circle cx="64.4" cy="306.5" r="0.95"/><circle cx="64.9" cy="314.8" r="0.95"/><circle cx="60.5" cy="319.8" r="0.95"/><circle cx="62.8" cy="308.0" r="0.95"/><circle cx="59.5" cy="323.9" r="0.95"/><circle cx="69.3" cy="312.0" r="0.95"/><circle cx="70.9" cy="308.0" r="0.95"/><circle cx="80.0" cy="302.2" r="0.95"/><circle cx="79.7" cy="306.5" r="0.95"/><circle cx="57.8" cy="322.5" r="0.95"/><circle cx="63.6" cy="302.8" r="0.95"/><circle cx="66.8" cy="310.4" r="0.95"/><circle cx="72.6" cy="309.9" r="0.95"/><circle cx="72.7" cy="312.2" r="0.95"/><circle cx="58.4" cy="322.0" r="0.95"/><circle cx="70.5" cy="299.4" r="0.95"/><circle cx="73.5" cy="301.8" r="0.95"/><circle cx="62.3" cy="305.2" r="0.95"/><circle cx="69.4" cy="315.0" r="0.95"/><circle cx="58.3" cy="317.1" r="0.95"/><circle cx="71.9" cy="308.6" r="0.95"/><circle cx="72.4" cy="299.4" r="0.95"/><circle cx="62.2" cy="307.3" r="0.95"/><circle cx="74.6" cy="305.0" r="0.95"/><circle cx="66.5" cy="307.0" r="0.95"/><circle cx="58.4" cy="312.0" r="0.95"/><circle cx="65.2" cy="315.9" r="0.95"/><circle cx="67.3" cy="299.2" r="0.95"/><circle cx="61.3" cy="317.8" r="0.95"/><circle cx="63.9" cy="301.8" r="0.95"/><circle cx="71.0" cy="299.9" r="0.95"/><circle cx="74.4" cy="302.3" r="0.95"/><circle cx="60.8" cy="315.6" r="0.95"/><circle cx="63.0" cy="316.1" r="0.95"/><circle cx="59.3" cy="323.1" r="0.95"/><circle cx="64.7" cy="310.2" r="0.95"/><circle cx="64.4" cy="306.8" r="0.95"/><circle cx="68.3" cy="301.8" r="0.95"/><circle cx="63.0" cy="318.6" r="0.95"/><circle cx="74.4" cy="304.5" r="0.95"/><circle cx="68.6" cy="299.6" r="0.95"/><circle cx="73.5" cy="305.8" r="0.95"/><circle cx="74.1" cy="300.9" r="0.95"/><circle cx="58.8" cy="312.2" r="0.95"/><circle cx="61.2" cy="316.0" r="0.95"/><circle cx="72.8" cy="311.5" r="0.95"/><circle cx="70.8" cy="297.1" r="0.95"/><circle cx="72.1" cy="301.3" r="0.95"/><circle cx="62.9" cy="307.0" r="0.95"/><circle cx="61.9" cy="302.9" r="0.95"/><circle cx="61.5" cy="303.5" r="0.95"/><circle cx="72.8" cy="301.9" r="0.95"/><circle cx="76.0" cy="303.5" r="0.95"/><circle cx="64.3" cy="316.4" r="0.95"/><circle cx="57.9" cy="312.9" r="0.95"/><circle cx="69.1" cy="298.5" r="0.95"/><circle cx="67.9" cy="299.9" r="0.95"/><circle cx="59.4" cy="309.7" r="0.95"/><circle cx="69.3" cy="305.1" r="0.95"/><circle cx="74.1" cy="310.4" r="0.95"/><circle cx="68.4" cy="301.7" r="0.95"/><circle cx="72.9" cy="300.7" r="0.95"/><circle cx="64.3" cy="308.7" r="0.95"/><circle cx="65.6" cy="307.8" r="0.95"/><circle cx="71.7" cy="297.0" r="0.95"/><circle cx="67.7" cy="313.8" r="0.95"/><circle cx="59.7" cy="308.4" r="0.95"/><circle cx="71.7" cy="303.1" r="0.95"/><circle cx="58.2" cy="317.3" r="0.95"/><circle cx="75.5" cy="307.5" r="0.95"/><circle cx="58.8" cy="324.1" r="0.95"/><circle cx="60.5" cy="310.5" r="0.95"/><circle cx="60.8" cy="317.8" r="0.95"/><circle cx="67.0" cy="304.3" r="0.95"/><circle cx="62.9" cy="317.0" r="0.95"/><circle cx="71.4" cy="302.8" r="0.95"/><circle cx="67.9" cy="316.3" r="0.95"/><circle cx="59.1" cy="319.3" r="0.95"/><circle cx="64.8" cy="301.5" r="0.95"/><circle cx="62.8" cy="308.5" r="0.95"/><circle cx="77.5" cy="303.8" r="0.95"/><circle cx="60.8" cy="317.2" r="0.95"/><circle cx="64.9" cy="299.6" r="0.95"/><circle cx="79.9" cy="304.0" r="0.95"/><circle cx="63.0" cy="305.2" r="0.95"/><circle cx="65.7" cy="304.8" r="0.95"/><circle cx="65.8" cy="297.2" r="0.95"/><circle cx="62.1" cy="322.4" r="0.95"/><circle cx="66.6" cy="313.7" r="0.95"/><circle cx="62.5" cy="322.7" r="0.95"/><circle cx="76.5" cy="301.7" r="0.95"/><circle cx="72.6" cy="305.7" r="0.95"/><circle cx="69.8" cy="304.3" r="0.95"/><circle cx="76.7" cy="304.6" r="0.95"/><circle cx="57.7" cy="321.1" r="0.95"/><circle cx="70.0" cy="308.1" r="0.95"/><circle cx="64.8" cy="318.4" r="0.95"/><circle cx="61.8" cy="304.4" r="0.95"/><circle cx="76.1" cy="300.9" r="0.95"/><circle cx="74.7" cy="300.0" r="0.95"/><circle cx="67.9" cy="306.4" r="0.95"/><circle cx="64.1" cy="313.6" r="0.95"/><circle cx="64.2" cy="321.2" r="0.95"/><circle cx="70.6" cy="297.0" r="0.95"/><circle cx="69.3" cy="308.9" r="0.95"/><circle cx="72.9" cy="300.2" r="0.95"/><circle cx="65.4" cy="305.1" r="0.95"/><circle cx="59.6" cy="322.5" r="0.95"/><circle cx="67.1" cy="316.3" r="0.95"/><circle cx="67.1" cy="296.6" r="0.95"/><circle cx="75.9" cy="304.9" r="0.95"/><circle cx="62.0" cy="317.2" r="0.95"/><circle cx="76.2" cy="300.6" r="0.95"/><circle cx="67.2" cy="305.7" r="0.95"/><circle cx="61.5" cy="303.2" r="0.95"/><circle cx="64.6" cy="316.8" r="0.95"/><circle cx="61.1" cy="310.9" r="0.95"/><circle cx="68.8" cy="314.8" r="0.95"/><circle cx="60.0" cy="323.8" r="0.95"/><circle cx="70.3" cy="298.2" r="0.95"/><circle cx="66.9" cy="312.7" r="0.95"/><circle cx="62.9" cy="302.4" r="0.95"/><circle cx="66.8" cy="309.9" r="0.95"/><circle cx="68.0" cy="296.6" r="0.95"/><circle cx="69.2" cy="299.2" r="0.95"/><circle cx="61.5" cy="312.1" r="0.95"/><circle cx="63.2" cy="320.1" r="0.95"/><circle cx="60.0" cy="308.2" r="0.95"/><circle cx="64.8" cy="317.8" r="0.95"/><circle cx="60.5" cy="306.6" r="0.95"/><circle cx="71.7" cy="303.3" r="0.95"/><circle cx="64.3" cy="309.6" r="0.95"/><circle cx="61.0" cy="308.8" r="0.95"/><circle cx="68.1" cy="299.9" r="0.95"/><circle cx="71.1" cy="298.3" r="0.95"/><circle cx="66.4" cy="304.9" r="0.95"/><circle cx="67.0" cy="304.8" r="0.95"/><circle cx="73.5" cy="306.0" r="0.95"/><circle cx="60.2" cy="320.9" r="0.95"/><circle cx="65.2" cy="313.5" r="0.95"/><circle cx="79.1" cy="306.4" r="0.95"/><circle cx="67.1" cy="303.1" r="0.95"/><circle cx="70.1" cy="314.6" r="0.95"/><circle cx="60.1" cy="305.2" r="0.95"/><circle cx="70.0" cy="306.4" r="0.95"/><circle cx="68.3" cy="309.3" r="0.95"/><circle cx="65.1" cy="310.5" r="0.95"/><circle cx="68.2" cy="304.2" r="0.95"/><circle cx="66.0" cy="312.9" r="0.95"/><circle cx="75.8" cy="301.9" r="0.95"/><circle cx="65.6" cy="305.9" r="0.95"/><circle cx="69.8" cy="302.4" r="0.95"/><circle cx="64.7" cy="319.6" r="0.95"/><circle cx="60.4" cy="315.4" r="0.95"/><circle cx="58.0" cy="319.1" r="0.95"/><circle cx="58.7" cy="322.8" r="0.95"/><circle cx="67.2" cy="299.8" r="0.95"/><circle cx="66.0" cy="296.6" r="0.95"/><circle cx="61.0" cy="312.9" r="0.95"/><circle cx="67.2" cy="306.0" r="0.95"/><circle cx="65.1" cy="316.9" r="0.95"/><circle cx="57.9" cy="310.4" r="0.95"/><circle cx="70.7" cy="307.9" r="0.95"/><circle cx="64.8" cy="306.2" r="0.95"/><circle cx="65.9" cy="315.5" r="0.95"/><circle cx="75.8" cy="309.9" r="0.95"/><circle cx="66.7" cy="314.8" r="0.95"/><circle cx="71.6" cy="303.7" r="0.95"/><circle cx="65.8" cy="302.2" r="0.95"/><circle cx="64.3" cy="317.6" r="0.95"/><circle cx="63.0" cy="312.9" r="0.95"/><circle cx="60.4" cy="320.7" r="0.95"/><circle cx="68.5" cy="302.4" r="0.95"/><circle cx="60.2" cy="317.7" r="0.95"/><circle cx="70.9" cy="307.2" r="0.95"/><circle cx="77.9" cy="307.6" r="0.95"/><circle cx="74.4" cy="301.8" r="0.95"/><circle cx="58.9" cy="309.3" r="0.95"/><circle cx="74.3" cy="300.5" r="0.95"/><circle cx="72.6" cy="302.5" r="0.95"/><circle cx="67.0" cy="311.7" r="0.95"/><circle cx="68.1" cy="297.4" r="0.95"/><circle cx="72.2" cy="305.6" r="0.95"/><circle cx="62.6" cy="319.4" r="0.95"/><circle cx="58.6" cy="320.5" r="0.95"/><circle cx="67.9" cy="308.5" r="0.95"/><circle cx="61.1" cy="309.5" r="0.95"/><circle cx="64.8" cy="298.9" r="0.95"/><circle cx="75.8" cy="301.6" r="0.95"/></g>
<g fill="#7fb0e0"><circle cx="69.5" cy="308.5" r="0.6"/><circle cx="72.8" cy="307.1" r="0.6"/><circle cx="61.5" cy="314.6" r="0.6"/><circle cx="71.2" cy="303.7" r="0.6"/><circle cx="62.4" cy="310.9" r="0.6"/><circle cx="68.3" cy="306.5" r="0.6"/><circle cx="67.1" cy="307.9" r="0.6"/><circle cx="64.0" cy="305.9" r="0.6"/><circle cx="68.8" cy="302.6" r="0.6"/><circle cx="73.3" cy="305.9" r="0.6"/><circle cx="62.1" cy="309.3" r="0.6"/><circle cx="74.5" cy="306.2" r="0.6"/><circle cx="68.2" cy="305.0" r="0.6"/><circle cx="61.9" cy="304.5" r="0.6"/><circle cx="69.4" cy="309.0" r="0.6"/><circle cx="69.5" cy="308.7" r="0.6"/><circle cx="65.4" cy="309.7" r="0.6"/><circle cx="68.3" cy="303.3" r="0.6"/><circle cx="67.6" cy="301.9" r="0.6"/><circle cx="60.7" cy="306.8" r="0.6"/><circle cx="62.7" cy="313.3" r="0.6"/><circle cx="61.5" cy="314.9" r="0.6"/><circle cx="64.0" cy="314.1" r="0.6"/><circle cx="67.7" cy="305.2" r="0.6"/><circle cx="70.5" cy="301.1" r="0.6"/></g>
<path d="M30.2,332.1 V299.3 M30.2,332.1 H63.5" fill="none" stroke="#111" stroke-width="1.15"/>
<path d="M28.0,300.0 L30.2,294.8 L32.4,300.0 z" fill="#111"/>
<path d="M62.8,329.90000000000003 L68,332.1 L62.8,334.3 z" fill="#111"/>
<text transform="translate(23.90,313.00) rotate(-90)" x="0" y="0" font-size="9.8" text-anchor="middle" font-weight="bold" fill="#222" textLength="24.68" lengthAdjust="spacingAndGlyphs">UMAP 2</text>
<text x="37.21" y="343.30" font-size="9.8" text-anchor="start" font-weight="bold" fill="#222" textLength="24.48" lengthAdjust="spacingAndGlyphs">UMAP 1</text>
<circle cx="18.5" cy="353" r="1.55" fill="#2d6fbe"/>
<text x="23.45" y="355.50" font-size="7" text-anchor="start" fill="#231f20" textLength="58.54" lengthAdjust="spacingAndGlyphs" stroke="#231f20" stroke-width="0.08">CD14+ Monocytes</text>
<circle cx="18.5" cy="364.4" r="1.55" fill="#ef8a2b"/>
<text x="23.45" y="366.90" font-size="7" text-anchor="start" fill="#231f20" textLength="25.54" lengthAdjust="spacingAndGlyphs" stroke="#231f20" stroke-width="0.08">NK cells</text>
<circle cx="93.4" cy="352.8" r="1.55" fill="#37a048"/>
<text x="98.15" y="355.30" font-size="7" text-anchor="start" fill="#231f20" textLength="41.24" lengthAdjust="spacingAndGlyphs" stroke="#231f20" stroke-width="0.08">CD4+ T cells</text>
<circle cx="93.4" cy="364" r="1.55" fill="#f3a2a7"/>
<text x="98.15" y="366.50" font-size="7" text-anchor="start" fill="#231f20" textLength="41.24" lengthAdjust="spacingAndGlyphs" stroke="#231f20" stroke-width="0.08">CD8+ T cells</text>
<circle cx="150.4" cy="352.8" r="1.55" fill="#37a048"/>
<text x="155.35" y="355.30" font-size="7" text-anchor="start" fill="#231f20" textLength="57.74" lengthAdjust="spacingAndGlyphs" stroke="#231f20" stroke-width="0.08">mTET2+7754G&gt;C</text>
<circle cx="150.4" cy="364" r="1.55" fill="#000"/>
<text x="155.35" y="366.50" font-size="7" text-anchor="start" fill="#231f20" textLength="31.84" lengthAdjust="spacingAndGlyphs" stroke="#231f20" stroke-width="0.08">7754G&gt;C</text>
<circle cx="224.6" cy="352.8" r="1.55" fill="#9ac7df"/>
<text x="228.95" y="355.30" font-size="7" text-anchor="start" fill="#231f20" textLength="34.94" lengthAdjust="spacingAndGlyphs" stroke="#231f20" stroke-width="0.08">mDNMT3A</text>
<circle cx="224.6" cy="364" r="1.55" fill="#b5121b"/>
<text x="228.95" y="366.50" font-size="7" text-anchor="start" fill="#231f20" textLength="64.74" lengthAdjust="spacingAndGlyphs" stroke="#231f20" stroke-width="0.08">mDNMT3A+747A&gt;G</text>
<circle cx="275" cy="352.8" r="1.55" fill="#6b6b6b"/>
<text x="279.65" y="355.30" font-size="7" text-anchor="start" fill="#231f20" textLength="11.84" lengthAdjust="spacingAndGlyphs" stroke="#231f20" stroke-width="0.08">WT</text>
<text x="155.90" y="255.00" font-size="13" text-anchor="start" font-weight="bold" fill="#000">C</text>
<text x="180.22" y="255.70" font-size="9.54" text-anchor="start" fill="#231f20" textLength="73.24" lengthAdjust="spacingAndGlyphs" stroke="#231f20" stroke-width="0.12">Mutations in TET2</text>
<g fill="#6b6b6b"><circle cx="208.3" cy="276.4" r="0.95"/><circle cx="205.7" cy="279.9" r="0.95"/><circle cx="209.4" cy="269.4" r="0.95"/><circle cx="200.7" cy="271.2" r="0.95"/><circle cx="203.0" cy="280.8" r="0.95"/><circle cx="207.2" cy="269.7" r="0.95"/><circle cx="198.4" cy="280.1" r="0.95"/><circle cx="205.5" cy="274.4" r="0.95"/><circle cx="202.6" cy="271.3" r="0.95"/><circle cx="207.9" cy="274.4" r="0.95"/><circle cx="208.3" cy="277.3" r="0.95"/><circle cx="204.2" cy="269.8" r="0.95"/><circle cx="198.2" cy="274.0" r="0.95"/><circle cx="202.5" cy="276.9" r="0.95"/><circle cx="201.3" cy="273.9" r="0.95"/><circle cx="205.4" cy="272.8" r="0.95"/><circle cx="199.7" cy="275.9" r="0.95"/><circle cx="199.5" cy="276.8" r="0.95"/><circle cx="203.4" cy="281.9" r="0.95"/><circle cx="210.0" cy="269.7" r="0.95"/><circle cx="203.8" cy="279.5" r="0.95"/><circle cx="208.3" cy="279.5" r="0.95"/><circle cx="204.9" cy="277.6" r="0.95"/><circle cx="201.0" cy="272.9" r="0.95"/><circle cx="207.2" cy="280.8" r="0.95"/><circle cx="209.2" cy="278.3" r="0.95"/><circle cx="200.1" cy="279.4" r="0.95"/><circle cx="206.4" cy="276.0" r="0.95"/><circle cx="204.9" cy="273.9" r="0.95"/><circle cx="203.7" cy="274.6" r="0.95"/><circle cx="202.7" cy="274.1" r="0.95"/><circle cx="199.3" cy="272.3" r="0.95"/><circle cx="200.8" cy="271.0" r="0.95"/><circle cx="202.3" cy="275.1" r="0.95"/><circle cx="203.9" cy="273.2" r="0.95"/><circle cx="200.1" cy="273.3" r="0.95"/><circle cx="206.2" cy="276.5" r="0.95"/><circle cx="209.2" cy="273.7" r="0.95"/><circle cx="209.0" cy="277.0" r="0.95"/><circle cx="200.9" cy="279.5" r="0.95"/><circle cx="201.9" cy="280.7" r="0.95"/><circle cx="196.8" cy="275.6" r="0.95"/><circle cx="208.7" cy="272.9" r="0.95"/><circle cx="198.2" cy="272.8" r="0.95"/><circle cx="205.9" cy="272.1" r="0.95"/><circle cx="201.5" cy="271.9" r="0.95"/><circle cx="204.4" cy="280.7" r="0.95"/><circle cx="205.1" cy="271.8" r="0.95"/><circle cx="206.3" cy="282.0" r="0.95"/><circle cx="204.4" cy="270.3" r="0.95"/><circle cx="207.4" cy="280.8" r="0.95"/><circle cx="200.7" cy="271.0" r="0.95"/><circle cx="198.5" cy="276.3" r="0.95"/><circle cx="208.3" cy="277.7" r="0.95"/><circle cx="209.0" cy="272.0" r="0.95"/><circle cx="200.5" cy="279.2" r="0.95"/><circle cx="205.1" cy="274.6" r="0.95"/><circle cx="205.5" cy="273.7" r="0.95"/><circle cx="196.5" cy="277.5" r="0.95"/><circle cx="200.6" cy="275.8" r="0.95"/><circle cx="204.3" cy="272.6" r="0.95"/><circle cx="209.0" cy="276.7" r="0.95"/><circle cx="209.9" cy="269.9" r="0.95"/><circle cx="204.6" cy="278.8" r="0.95"/><circle cx="200.5" cy="270.4" r="0.95"/><circle cx="198.0" cy="271.1" r="0.95"/><circle cx="206.8" cy="270.4" r="0.95"/><circle cx="207.4" cy="274.8" r="0.95"/><circle cx="203.5" cy="277.0" r="0.95"/><circle cx="203.7" cy="277.9" r="0.95"/><circle cx="204.4" cy="273.6" r="0.95"/><circle cx="206.4" cy="272.6" r="0.95"/><circle cx="206.0" cy="279.4" r="0.95"/><circle cx="206.9" cy="273.3" r="0.95"/><circle cx="202.3" cy="272.9" r="0.95"/></g>
<g fill="#6b6b6b"><circle cx="202.8" cy="294.0" r="0.95"/><circle cx="205.2" cy="289.7" r="0.95"/><circle cx="205.1" cy="285.7" r="0.95"/><circle cx="203.4" cy="287.1" r="0.95"/><circle cx="204.9" cy="297.9" r="0.95"/><circle cx="205.2" cy="287.9" r="0.95"/><circle cx="204.1" cy="289.4" r="0.95"/><circle cx="205.4" cy="291.1" r="0.95"/><circle cx="199.9" cy="295.1" r="0.95"/><circle cx="205.1" cy="293.8" r="0.95"/><circle cx="200.3" cy="297.0" r="0.95"/><circle cx="205.0" cy="296.4" r="0.95"/><circle cx="200.3" cy="294.4" r="0.95"/><circle cx="203.8" cy="291.0" r="0.95"/><circle cx="203.6" cy="297.3" r="0.95"/><circle cx="200.2" cy="295.1" r="0.95"/><circle cx="204.5" cy="285.7" r="0.95"/><circle cx="204.7" cy="297.3" r="0.95"/><circle cx="200.9" cy="296.0" r="0.95"/><circle cx="204.5" cy="285.0" r="0.95"/><circle cx="203.0" cy="287.8" r="0.95"/><circle cx="202.4" cy="285.9" r="0.95"/><circle cx="200.4" cy="294.4" r="0.95"/><circle cx="200.2" cy="295.2" r="0.95"/><circle cx="203.0" cy="286.0" r="0.95"/><circle cx="201.8" cy="291.6" r="0.95"/><circle cx="206.1" cy="295.1" r="0.95"/><circle cx="202.3" cy="292.5" r="0.95"/><circle cx="201.9" cy="284.6" r="0.95"/><circle cx="204.5" cy="293.9" r="0.95"/><circle cx="203.4" cy="292.4" r="0.95"/><circle cx="204.5" cy="298.7" r="0.95"/><circle cx="206.0" cy="294.9" r="0.95"/><circle cx="202.2" cy="289.0" r="0.95"/><circle cx="202.1" cy="290.0" r="0.95"/><circle cx="202.3" cy="286.5" r="0.95"/><circle cx="203.9" cy="297.9" r="0.95"/><circle cx="201.0" cy="293.3" r="0.95"/><circle cx="202.0" cy="287.9" r="0.95"/><circle cx="205.7" cy="295.8" r="0.95"/><circle cx="204.6" cy="289.1" r="0.95"/><circle cx="204.2" cy="292.4" r="0.95"/><circle cx="200.9" cy="293.6" r="0.95"/><circle cx="204.9" cy="289.9" r="0.95"/><circle cx="204.7" cy="290.1" r="0.95"/></g>
<g fill="#5f6f66"><circle cx="220.0" cy="283.3" r="0.95"/><circle cx="221.3" cy="280.6" r="0.95"/><circle cx="220.8" cy="282.7" r="0.95"/><circle cx="217.4" cy="283.3" r="0.95"/><circle cx="217.8" cy="286.1" r="0.95"/><circle cx="219.5" cy="284.4" r="0.95"/><circle cx="219.9" cy="282.0" r="0.95"/><circle cx="220.0" cy="282.5" r="0.95"/><circle cx="222.4" cy="279.8" r="0.95"/><circle cx="217.0" cy="285.3" r="0.95"/><circle cx="219.4" cy="283.6" r="0.95"/><circle cx="218.7" cy="285.4" r="0.95"/><circle cx="222.5" cy="278.7" r="0.95"/><circle cx="216.4" cy="280.9" r="0.95"/><circle cx="221.4" cy="281.8" r="0.95"/><circle cx="221.9" cy="278.9" r="0.95"/><circle cx="221.3" cy="281.0" r="0.95"/><circle cx="219.9" cy="279.8" r="0.95"/><circle cx="218.7" cy="280.7" r="0.95"/><circle cx="217.2" cy="282.9" r="0.95"/><circle cx="221.6" cy="280.1" r="0.95"/><circle cx="218.3" cy="279.8" r="0.95"/><circle cx="222.6" cy="278.4" r="0.95"/><circle cx="217.2" cy="281.5" r="0.95"/><circle cx="219.3" cy="281.0" r="0.95"/><circle cx="221.6" cy="280.3" r="0.95"/><circle cx="219.0" cy="283.7" r="0.95"/><circle cx="222.4" cy="280.8" r="0.95"/><circle cx="218.8" cy="283.0" r="0.95"/><circle cx="223.4" cy="279.3" r="0.95"/><circle cx="218.7" cy="283.8" r="0.95"/><circle cx="221.9" cy="281.1" r="0.95"/><circle cx="220.0" cy="282.2" r="0.95"/><circle cx="219.4" cy="281.9" r="0.95"/><circle cx="222.6" cy="281.4" r="0.95"/><circle cx="219.2" cy="282.2" r="0.95"/><circle cx="221.3" cy="282.8" r="0.95"/><circle cx="221.5" cy="282.1" r="0.95"/><circle cx="219.1" cy="283.0" r="0.95"/><circle cx="222.9" cy="278.9" r="0.95"/><circle cx="225.6" cy="283.9" r="0.95"/><circle cx="225.0" cy="281.5" r="0.95"/><circle cx="225.4" cy="281.4" r="0.95"/><circle cx="227.5" cy="283.0" r="0.95"/><circle cx="222.6" cy="281.9" r="0.95"/><circle cx="231.4" cy="286.6" r="0.95"/><circle cx="227.8" cy="282.6" r="0.95"/><circle cx="227.0" cy="283.6" r="0.95"/><circle cx="222.6" cy="282.0" r="0.95"/><circle cx="227.8" cy="282.9" r="0.95"/><circle cx="230.7" cy="284.6" r="0.95"/><circle cx="229.3" cy="285.4" r="0.95"/><circle cx="225.2" cy="281.0" r="0.95"/><circle cx="223.1" cy="279.9" r="0.95"/><circle cx="230.5" cy="288.0" r="0.95"/><circle cx="226.5" cy="285.3" r="0.95"/><circle cx="225.2" cy="281.2" r="0.95"/><circle cx="230.6" cy="288.3" r="0.95"/><circle cx="226.1" cy="285.1" r="0.95"/><circle cx="224.4" cy="284.2" r="0.95"/><circle cx="225.1" cy="282.3" r="0.95"/><circle cx="228.5" cy="284.1" r="0.95"/><circle cx="223.0" cy="280.3" r="0.95"/><circle cx="225.6" cy="283.3" r="0.95"/><circle cx="228.0" cy="286.5" r="0.95"/><circle cx="228.4" cy="283.4" r="0.95"/><circle cx="225.8" cy="282.6" r="0.95"/><circle cx="223.6" cy="279.9" r="0.95"/><circle cx="227.4" cy="284.1" r="0.95"/><circle cx="223.3" cy="283.4" r="0.95"/><circle cx="227.5" cy="282.5" r="0.95"/><circle cx="224.1" cy="282.8" r="0.95"/><circle cx="224.2" cy="280.2" r="0.95"/><circle cx="227.3" cy="286.5" r="0.95"/><circle cx="228.2" cy="285.5" r="0.95"/><circle cx="223.7" cy="281.5" r="0.95"/><circle cx="228.4" cy="286.4" r="0.95"/><circle cx="228.7" cy="285.6" r="0.95"/><circle cx="224.1" cy="281.1" r="0.95"/><circle cx="232.8" cy="286.5" r="0.95"/><circle cx="228.7" cy="291.7" r="0.95"/><circle cx="229.8" cy="293.0" r="0.95"/><circle cx="227.6" cy="292.9" r="0.95"/><circle cx="227.2" cy="293.8" r="0.95"/><circle cx="228.2" cy="288.5" r="0.95"/><circle cx="229.8" cy="288.3" r="0.95"/><circle cx="229.2" cy="291.1" r="0.95"/><circle cx="230.3" cy="289.8" r="0.95"/><circle cx="230.6" cy="288.1" r="0.95"/><circle cx="227.8" cy="295.0" r="0.95"/><circle cx="227.7" cy="288.9" r="0.95"/><circle cx="228.6" cy="289.2" r="0.95"/><circle cx="228.8" cy="295.6" r="0.95"/><circle cx="229.5" cy="293.7" r="0.95"/><circle cx="228.4" cy="294.4" r="0.95"/><circle cx="228.4" cy="287.8" r="0.95"/><circle cx="228.2" cy="292.7" r="0.95"/><circle cx="230.0" cy="291.0" r="0.95"/><circle cx="229.2" cy="291.3" r="0.95"/><circle cx="228.1" cy="289.0" r="0.95"/><circle cx="228.2" cy="295.0" r="0.95"/><circle cx="229.3" cy="289.8" r="0.95"/><circle cx="229.6" cy="291.2" r="0.95"/><circle cx="227.3" cy="293.5" r="0.95"/><circle cx="227.0" cy="294.8" r="0.95"/></g>
<g fill="#3c8a6c"><circle cx="234.7" cy="293.6" r="0.95"/><circle cx="236.4" cy="297.8" r="0.95"/><circle cx="235.6" cy="295.1" r="0.95"/><circle cx="237.8" cy="295.2" r="0.95"/><circle cx="237.3" cy="292.9" r="0.95"/><circle cx="235.8" cy="297.2" r="0.95"/><circle cx="235.0" cy="294.2" r="0.95"/><circle cx="234.4" cy="295.5" r="0.95"/><circle cx="237.4" cy="295.2" r="0.95"/><circle cx="237.6" cy="296.3" r="0.95"/><circle cx="234.3" cy="296.0" r="0.95"/><circle cx="235.8" cy="298.2" r="0.95"/><circle cx="235.4" cy="296.2" r="0.95"/><circle cx="236.5" cy="294.3" r="0.95"/><circle cx="236.1" cy="296.3" r="0.95"/><circle cx="237.6" cy="295.1" r="0.95"/><circle cx="236.7" cy="295.5" r="0.95"/><circle cx="235.8" cy="296.8" r="0.95"/><circle cx="237.0" cy="292.0" r="0.95"/><circle cx="235.3" cy="292.7" r="0.95"/></g>
<g fill="#5d6a62"><circle cx="216.9" cy="295.7" r="0.95"/><circle cx="218.3" cy="297.9" r="0.95"/><circle cx="217.3" cy="295.8" r="0.95"/><circle cx="221.2" cy="295.7" r="0.95"/><circle cx="229.1" cy="302.0" r="0.95"/><circle cx="217.8" cy="297.5" r="0.95"/><circle cx="222.5" cy="300.2" r="0.95"/><circle cx="217.1" cy="297.2" r="0.95"/><circle cx="215.4" cy="298.2" r="0.95"/><circle cx="226.9" cy="300.8" r="0.95"/><circle cx="222.8" cy="299.4" r="0.95"/><circle cx="225.3" cy="300.8" r="0.95"/><circle cx="217.3" cy="297.3" r="0.95"/><circle cx="218.3" cy="299.2" r="0.95"/><circle cx="217.3" cy="298.1" r="0.95"/><circle cx="230.0" cy="302.2" r="0.95"/><circle cx="220.5" cy="299.4" r="0.95"/><circle cx="222.4" cy="299.4" r="0.95"/><circle cx="221.0" cy="299.9" r="0.95"/><circle cx="220.8" cy="297.1" r="0.95"/><circle cx="219.1" cy="298.5" r="0.95"/><circle cx="221.7" cy="297.0" r="0.95"/><circle cx="215.8" cy="297.2" r="0.95"/><circle cx="226.1" cy="300.9" r="0.95"/><circle cx="224.7" cy="300.0" r="0.95"/><circle cx="220.6" cy="297.0" r="0.95"/><circle cx="222.9" cy="300.2" r="0.95"/><circle cx="217.1" cy="296.6" r="0.95"/><circle cx="226.2" cy="300.6" r="0.95"/><circle cx="220.3" cy="298.2" r="0.95"/><circle cx="218.0" cy="296.6" r="0.95"/><circle cx="219.2" cy="299.2" r="0.95"/><circle cx="221.1" cy="298.3" r="0.95"/><circle cx="216.0" cy="296.6" r="0.95"/><circle cx="224.3" cy="300.5" r="0.95"/><circle cx="218.1" cy="297.4" r="0.95"/></g>
<g fill="#3aad56"><circle cx="210.1" cy="312.2" r="0.95"/><circle cx="216.1" cy="317.2" r="0.95"/><circle cx="222.3" cy="302.5" r="0.95"/><circle cx="225.3" cy="302.9" r="0.95"/><circle cx="219.9" cy="307.0" r="0.95"/><circle cx="226.0" cy="304.6" r="0.95"/><circle cx="209.9" cy="310.0" r="0.95"/><circle cx="213.8" cy="305.8" r="0.95"/><circle cx="211.1" cy="303.4" r="0.95"/><circle cx="214.4" cy="307.5" r="0.95"/><circle cx="216.2" cy="305.8" r="0.95"/><circle cx="211.5" cy="322.3" r="0.95"/><circle cx="225.1" cy="308.5" r="0.95"/><circle cx="220.2" cy="314.8" r="0.95"/><circle cx="225.0" cy="302.4" r="0.95"/><circle cx="219.5" cy="302.8" r="0.95"/><circle cx="222.0" cy="301.9" r="0.95"/><circle cx="213.0" cy="301.4" r="0.95"/><circle cx="208.2" cy="311.0" r="0.95"/><circle cx="225.6" cy="306.1" r="0.95"/><circle cx="214.9" cy="306.1" r="0.95"/><circle cx="226.3" cy="304.7" r="0.95"/><circle cx="211.1" cy="321.2" r="0.95"/><circle cx="219.6" cy="310.1" r="0.95"/><circle cx="222.9" cy="311.9" r="0.95"/><circle cx="216.4" cy="311.8" r="0.95"/><circle cx="213.2" cy="320.3" r="0.95"/><circle cx="210.2" cy="314.9" r="0.95"/><circle cx="225.1" cy="309.5" r="0.95"/><circle cx="209.7" cy="315.9" r="0.95"/><circle cx="226.2" cy="305.0" r="0.95"/><circle cx="227.1" cy="303.9" r="0.95"/><circle cx="207.5" cy="319.8" r="0.95"/><circle cx="222.0" cy="304.4" r="0.95"/><circle cx="214.6" cy="311.6" r="0.95"/><circle cx="211.9" cy="318.7" r="0.95"/><circle cx="211.6" cy="320.1" r="0.95"/><circle cx="207.3" cy="318.2" r="0.95"/><circle cx="220.9" cy="306.3" r="0.95"/><circle cx="219.1" cy="312.2" r="0.95"/><circle cx="212.1" cy="321.0" r="0.95"/><circle cx="230.1" cy="304.1" r="0.95"/><circle cx="217.7" cy="315.2" r="0.95"/><circle cx="223.9" cy="308.0" r="0.95"/><circle cx="214.9" cy="299.7" r="0.95"/><circle cx="216.4" cy="302.6" r="0.95"/><circle cx="211.3" cy="316.9" r="0.95"/><circle cx="219.2" cy="307.5" r="0.95"/><circle cx="211.4" cy="315.9" r="0.95"/><circle cx="206.8" cy="320.9" r="0.95"/><circle cx="213.0" cy="304.9" r="0.95"/><circle cx="210.5" cy="313.6" r="0.95"/><circle cx="226.3" cy="308.0" r="0.95"/><circle cx="210.3" cy="318.2" r="0.95"/><circle cx="220.4" cy="309.7" r="0.95"/><circle cx="207.0" cy="322.3" r="0.95"/><circle cx="224.5" cy="305.8" r="0.95"/><circle cx="211.8" cy="312.1" r="0.95"/><circle cx="218.4" cy="313.8" r="0.95"/><circle cx="228.8" cy="305.8" r="0.95"/><circle cx="209.1" cy="312.3" r="0.95"/><circle cx="217.7" cy="312.1" r="0.95"/><circle cx="218.1" cy="306.3" r="0.95"/><circle cx="212.4" cy="314.2" r="0.95"/><circle cx="223.5" cy="308.6" r="0.95"/><circle cx="210.0" cy="322.3" r="0.95"/><circle cx="212.1" cy="306.1" r="0.95"/><circle cx="212.4" cy="323.0" r="0.95"/><circle cx="211.9" cy="314.9" r="0.95"/><circle cx="211.1" cy="319.1" r="0.95"/><circle cx="210.5" cy="309.8" r="0.95"/><circle cx="209.1" cy="318.5" r="0.95"/><circle cx="218.9" cy="313.2" r="0.95"/><circle cx="219.9" cy="302.9" r="0.95"/><circle cx="215.5" cy="303.2" r="0.95"/><circle cx="219.3" cy="308.1" r="0.95"/><circle cx="216.5" cy="312.9" r="0.95"/><circle cx="210.9" cy="323.4" r="0.95"/><circle cx="217.4" cy="316.0" r="0.95"/><circle cx="212.7" cy="303.2" r="0.95"/><circle cx="215.1" cy="303.9" r="0.95"/><circle cx="208.8" cy="307.7" r="0.95"/><circle cx="225.0" cy="302.3" r="0.95"/><circle cx="212.6" cy="306.7" r="0.95"/><circle cx="214.6" cy="318.0" r="0.95"/><circle cx="209.1" cy="319.7" r="0.95"/><circle cx="214.2" cy="313.4" r="0.95"/><circle cx="215.5" cy="310.6" r="0.95"/><circle cx="219.6" cy="314.2" r="0.95"/><circle cx="213.6" cy="322.3" r="0.95"/><circle cx="210.8" cy="307.5" r="0.95"/><circle cx="212.6" cy="301.8" r="0.95"/><circle cx="221.0" cy="314.4" r="0.95"/><circle cx="209.3" cy="309.3" r="0.95"/><circle cx="213.2" cy="317.9" r="0.95"/><circle cx="214.0" cy="306.6" r="0.95"/><circle cx="223.5" cy="307.7" r="0.95"/><circle cx="229.4" cy="304.5" r="0.95"/><circle cx="223.0" cy="302.4" r="0.95"/><circle cx="222.7" cy="312.2" r="0.95"/><circle cx="222.5" cy="311.6" r="0.95"/><circle cx="206.9" cy="320.6" r="0.95"/><circle cx="209.7" cy="324.0" r="0.95"/><circle cx="215.4" cy="316.5" r="0.95"/><circle cx="209.9" cy="318.5" r="0.95"/><circle cx="212.7" cy="305.2" r="0.95"/><circle cx="212.6" cy="318.8" r="0.95"/><circle cx="213.5" cy="305.7" r="0.95"/><circle cx="216.0" cy="305.2" r="0.95"/><circle cx="222.3" cy="308.6" r="0.95"/><circle cx="217.8" cy="316.1" r="0.95"/><circle cx="212.2" cy="307.6" r="0.95"/><circle cx="215.4" cy="308.5" r="0.95"/><circle cx="217.6" cy="303.7" r="0.95"/><circle cx="211.6" cy="314.6" r="0.95"/><circle cx="222.6" cy="309.9" r="0.95"/><circle cx="224.7" cy="310.6" r="0.95"/><circle cx="212.3" cy="309.4" r="0.95"/><circle cx="210.1" cy="319.0" r="0.95"/><circle cx="227.6" cy="305.3" r="0.95"/><circle cx="212.1" cy="312.5" r="0.95"/><circle cx="211.2" cy="317.3" r="0.95"/><circle cx="216.4" cy="315.1" r="0.95"/><circle cx="206.8" cy="323.6" r="0.95"/><circle cx="212.2" cy="308.7" r="0.95"/><circle cx="221.8" cy="300.5" r="0.95"/><circle cx="214.4" cy="306.5" r="0.95"/><circle cx="214.9" cy="314.8" r="0.95"/><circle cx="210.5" cy="319.8" r="0.95"/><circle cx="212.8" cy="308.0" r="0.95"/><circle cx="209.5" cy="323.9" r="0.95"/><circle cx="219.3" cy="312.0" r="0.95"/><circle cx="220.9" cy="308.0" r="0.95"/><circle cx="229.7" cy="306.5" r="0.95"/><circle cx="207.8" cy="322.5" r="0.95"/><circle cx="213.6" cy="302.8" r="0.95"/><circle cx="216.8" cy="310.4" r="0.95"/><circle cx="222.6" cy="309.9" r="0.95"/><circle cx="222.7" cy="312.2" r="0.95"/><circle cx="208.4" cy="322.0" r="0.95"/><circle cx="223.5" cy="301.8" r="0.95"/><circle cx="212.3" cy="305.2" r="0.95"/><circle cx="219.4" cy="315.0" r="0.95"/><circle cx="208.3" cy="317.1" r="0.95"/><circle cx="221.9" cy="308.6" r="0.95"/><circle cx="212.2" cy="307.3" r="0.95"/><circle cx="224.6" cy="305.0" r="0.95"/><circle cx="216.5" cy="307.0" r="0.95"/><circle cx="208.4" cy="312.0" r="0.95"/><circle cx="215.2" cy="315.9" r="0.95"/><circle cx="217.3" cy="299.2" r="0.95"/><circle cx="211.3" cy="317.8" r="0.95"/><circle cx="213.9" cy="301.8" r="0.95"/><circle cx="224.4" cy="302.3" r="0.95"/><circle cx="210.8" cy="315.6" r="0.95"/><circle cx="213.0" cy="316.1" r="0.95"/><circle cx="209.3" cy="323.1" r="0.95"/><circle cx="214.7" cy="310.2" r="0.95"/><circle cx="214.4" cy="306.8" r="0.95"/><circle cx="218.3" cy="301.8" r="0.95"/><circle cx="213.0" cy="318.6" r="0.95"/><circle cx="224.4" cy="304.5" r="0.95"/><circle cx="218.6" cy="299.6" r="0.95"/><circle cx="223.5" cy="305.8" r="0.95"/><circle cx="224.1" cy="300.9" r="0.95"/><circle cx="208.8" cy="312.2" r="0.95"/><circle cx="211.2" cy="316.0" r="0.95"/><circle cx="222.8" cy="311.5" r="0.95"/><circle cx="222.1" cy="301.3" r="0.95"/><circle cx="212.9" cy="307.0" r="0.95"/><circle cx="211.9" cy="302.9" r="0.95"/><circle cx="211.5" cy="303.5" r="0.95"/><circle cx="222.8" cy="301.9" r="0.95"/><circle cx="226.0" cy="303.5" r="0.95"/><circle cx="214.3" cy="316.4" r="0.95"/><circle cx="207.9" cy="312.9" r="0.95"/><circle cx="217.9" cy="299.9" r="0.95"/><circle cx="209.4" cy="309.7" r="0.95"/><circle cx="219.3" cy="305.1" r="0.95"/><circle cx="224.1" cy="310.4" r="0.95"/><circle cx="218.4" cy="301.7" r="0.95"/><circle cx="222.9" cy="300.7" r="0.95"/><circle cx="214.3" cy="308.7" r="0.95"/><circle cx="215.6" cy="307.8" r="0.95"/><circle cx="217.7" cy="313.8" r="0.95"/><circle cx="209.7" cy="308.4" r="0.95"/><circle cx="221.7" cy="303.1" r="0.95"/><circle cx="208.2" cy="317.3" r="0.95"/><circle cx="225.5" cy="307.5" r="0.95"/><circle cx="208.8" cy="324.1" r="0.95"/><circle cx="210.5" cy="310.5" r="0.95"/><circle cx="210.8" cy="317.8" r="0.95"/><circle cx="217.0" cy="304.3" r="0.95"/><circle cx="212.9" cy="317.0" r="0.95"/><circle cx="221.4" cy="302.8" r="0.95"/><circle cx="217.9" cy="316.3" r="0.95"/><circle cx="209.1" cy="319.3" r="0.95"/><circle cx="214.8" cy="301.5" r="0.95"/><circle cx="212.8" cy="308.5" r="0.95"/><circle cx="227.5" cy="303.8" r="0.95"/><circle cx="210.8" cy="317.2" r="0.95"/><circle cx="214.9" cy="299.6" r="0.95"/><circle cx="229.9" cy="304.0" r="0.95"/><circle cx="213.0" cy="305.2" r="0.95"/><circle cx="215.7" cy="304.8" r="0.95"/><circle cx="212.1" cy="322.4" r="0.95"/><circle cx="216.6" cy="313.7" r="0.95"/><circle cx="212.5" cy="322.7" r="0.95"/><circle cx="226.5" cy="301.7" r="0.95"/><circle cx="222.6" cy="305.7" r="0.95"/><circle cx="219.8" cy="304.3" r="0.95"/><circle cx="226.7" cy="304.6" r="0.95"/><circle cx="207.7" cy="321.1" r="0.95"/><circle cx="220.0" cy="308.1" r="0.95"/><circle cx="214.8" cy="318.4" r="0.95"/><circle cx="211.8" cy="304.4" r="0.95"/><circle cx="217.9" cy="306.4" r="0.95"/><circle cx="214.1" cy="313.6" r="0.95"/><circle cx="214.2" cy="321.2" r="0.95"/><circle cx="219.3" cy="308.9" r="0.95"/><circle cx="215.4" cy="305.1" r="0.95"/><circle cx="209.6" cy="322.5" r="0.95"/><circle cx="217.1" cy="316.3" r="0.95"/><circle cx="225.9" cy="304.9" r="0.95"/><circle cx="212.0" cy="317.2" r="0.95"/><circle cx="217.2" cy="305.7" r="0.95"/><circle cx="211.5" cy="303.2" r="0.95"/><circle cx="214.6" cy="316.8" r="0.95"/><circle cx="211.1" cy="310.9" r="0.95"/><circle cx="218.8" cy="314.8" r="0.95"/><circle cx="210.0" cy="323.8" r="0.95"/><circle cx="216.9" cy="312.7" r="0.95"/><circle cx="212.9" cy="302.4" r="0.95"/><circle cx="216.8" cy="309.9" r="0.95"/><circle cx="211.5" cy="312.1" r="0.95"/><circle cx="213.2" cy="320.1" r="0.95"/><circle cx="210.0" cy="308.2" r="0.95"/><circle cx="214.8" cy="317.8" r="0.95"/><circle cx="210.5" cy="306.6" r="0.95"/><circle cx="221.7" cy="303.3" r="0.95"/><circle cx="214.3" cy="309.6" r="0.95"/><circle cx="211.0" cy="308.8" r="0.95"/><circle cx="218.1" cy="299.9" r="0.95"/><circle cx="216.4" cy="304.9" r="0.95"/><circle cx="217.0" cy="304.8" r="0.95"/><circle cx="223.5" cy="306.0" r="0.95"/><circle cx="210.2" cy="320.9" r="0.95"/><circle cx="215.2" cy="313.5" r="0.95"/><circle cx="229.1" cy="306.4" r="0.95"/><circle cx="217.1" cy="303.1" r="0.95"/><circle cx="220.1" cy="314.6" r="0.95"/><circle cx="210.1" cy="305.2" r="0.95"/><circle cx="220.0" cy="306.4" r="0.95"/><circle cx="218.3" cy="309.3" r="0.95"/><circle cx="215.1" cy="310.5" r="0.95"/><circle cx="218.2" cy="304.2" r="0.95"/><circle cx="216.0" cy="312.9" r="0.95"/><circle cx="225.8" cy="301.9" r="0.95"/><circle cx="215.6" cy="305.9" r="0.95"/><circle cx="219.8" cy="302.4" r="0.95"/><circle cx="214.7" cy="319.6" r="0.95"/><circle cx="210.4" cy="315.4" r="0.95"/><circle cx="208.0" cy="319.1" r="0.95"/><circle cx="208.7" cy="322.8" r="0.95"/><circle cx="217.2" cy="299.8" r="0.95"/><circle cx="211.0" cy="312.9" r="0.95"/><circle cx="217.2" cy="306.0" r="0.95"/><circle cx="215.1" cy="316.9" r="0.95"/><circle cx="207.9" cy="310.4" r="0.95"/><circle cx="220.7" cy="307.9" r="0.95"/><circle cx="214.8" cy="306.2" r="0.95"/><circle cx="215.9" cy="315.5" r="0.95"/><circle cx="225.8" cy="309.9" r="0.95"/><circle cx="216.7" cy="314.8" r="0.95"/><circle cx="221.6" cy="303.7" r="0.95"/><circle cx="215.8" cy="302.2" r="0.95"/><circle cx="214.3" cy="317.6" r="0.95"/><circle cx="213.0" cy="312.9" r="0.95"/><circle cx="210.4" cy="320.7" r="0.95"/><circle cx="218.5" cy="302.4" r="0.95"/><circle cx="210.2" cy="317.7" r="0.95"/><circle cx="220.9" cy="307.2" r="0.95"/><circle cx="227.9" cy="307.6" r="0.95"/><circle cx="224.4" cy="301.8" r="0.95"/><circle cx="208.9" cy="309.3" r="0.95"/><circle cx="222.6" cy="302.5" r="0.95"/><circle cx="217.0" cy="311.7" r="0.95"/><circle cx="222.2" cy="305.6" r="0.95"/><circle cx="212.6" cy="319.4" r="0.95"/><circle cx="208.6" cy="320.5" r="0.95"/><circle cx="217.9" cy="308.5" r="0.95"/><circle cx="211.1" cy="309.5" r="0.95"/><circle cx="214.8" cy="298.9" r="0.95"/><circle cx="225.8" cy="301.6" r="0.95"/></g>
<g fill="#238a3e"><circle cx="214.1" cy="313.6" r="0.7"/><circle cx="224.5" cy="305.8" r="0.7"/><circle cx="222.7" cy="312.2" r="0.7"/><circle cx="208.7" cy="322.8" r="0.7"/><circle cx="219.3" cy="308.1" r="0.7"/><circle cx="219.3" cy="308.9" r="0.7"/><circle cx="221.7" cy="303.1" r="0.7"/><circle cx="211.5" cy="322.3" r="0.7"/><circle cx="220.2" cy="314.8" r="0.7"/><circle cx="210.2" cy="314.9" r="0.7"/><circle cx="214.2" cy="321.2" r="0.7"/><circle cx="225.8" cy="309.9" r="0.7"/><circle cx="214.8" cy="301.5" r="0.7"/><circle cx="225.0" cy="302.3" r="0.7"/><circle cx="210.5" cy="310.5" r="0.7"/><circle cx="208.2" cy="317.3" r="0.7"/><circle cx="227.9" cy="307.6" r="0.7"/><circle cx="211.9" cy="314.9" r="0.7"/><circle cx="215.6" cy="307.8" r="0.7"/><circle cx="208.8" cy="324.1" r="0.7"/><circle cx="209.5" cy="323.9" r="0.7"/><circle cx="210.4" cy="320.7" r="0.7"/><circle cx="218.9" cy="313.2" r="0.7"/><circle cx="212.6" cy="306.7" r="0.7"/><circle cx="215.1" cy="303.9" r="0.7"/><circle cx="210.9" cy="323.4" r="0.7"/><circle cx="216.5" cy="312.9" r="0.7"/><circle cx="212.4" cy="314.2" r="0.7"/><circle cx="208.8" cy="307.7" r="0.7"/><circle cx="214.4" cy="306.8" r="0.7"/><circle cx="225.8" cy="301.9" r="0.7"/><circle cx="217.9" cy="308.5" r="0.7"/><circle cx="206.8" cy="320.9" r="0.7"/><circle cx="217.0" cy="311.7" r="0.7"/><circle cx="215.1" cy="310.5" r="0.7"/></g>
<g fill="#d8f0c8"><circle cx="226.7" cy="304.6" r="0.6"/><circle cx="214.8" cy="317.8" r="0.6"/><circle cx="210.4" cy="320.7" r="0.6"/><circle cx="213.8" cy="305.8" r="0.6"/><circle cx="209.7" cy="315.9" r="0.6"/><circle cx="212.1" cy="312.5" r="0.6"/><circle cx="217.9" cy="306.4" r="0.6"/><circle cx="209.1" cy="318.5" r="0.6"/><circle cx="211.2" cy="317.3" r="0.6"/><circle cx="222.3" cy="302.5" r="0.6"/><circle cx="206.8" cy="323.6" r="0.6"/><circle cx="214.3" cy="308.7" r="0.6"/><circle cx="219.2" cy="307.5" r="0.6"/><circle cx="217.0" cy="304.8" r="0.6"/><circle cx="212.8" cy="308.5" r="0.6"/><circle cx="219.3" cy="308.9" r="0.6"/><circle cx="211.5" cy="303.5" r="0.6"/><circle cx="216.4" cy="304.9" r="0.6"/><circle cx="226.3" cy="304.7" r="0.6"/><circle cx="217.6" cy="303.7" r="0.6"/></g>
<g fill="#222"><circle cx="220.5" cy="297.0" r="0.9"/><circle cx="222.0" cy="299.5" r="0.9"/><circle cx="217.5" cy="301.0" r="0.9"/><circle cx="224.0" cy="296.0" r="0.9"/></g>
<g fill="#6b6b6b"><circle cx="219.0" cy="294.5" r="0.8"/><circle cx="223.5" cy="294.0" r="0.8"/></g>
<text x="322.00" y="255.70" font-size="13" text-anchor="start" font-weight="bold" fill="#000">D</text>
<text x="366.52" y="256.60" font-size="9.54" text-anchor="start" fill="#231f20" textLength="138.04" lengthAdjust="spacingAndGlyphs" stroke="#231f20" stroke-width="0.12">TET2 Cell Type Proportions (DNA)</text>
<rect x="394.90" y="271.10" width="8.60" height="13.25" fill="#bfbfbf"/>
<rect x="403.50" y="271.10" width="2.70" height="13.25" fill="#111"/>
<rect x="406.20" y="271.10" width="91.50" height="13.25" fill="#38ab36"/>
<rect x="394.90" y="286.15" width="83.20" height="13.25" fill="#bfbfbf"/>
<rect x="478.10" y="286.15" width="1.90" height="13.25" fill="#111"/>
<rect x="480.00" y="286.15" width="17.70" height="13.25" fill="#38ab36"/>
<rect x="394.90" y="301.20" width="85.10" height="13.25" fill="#bfbfbf"/>
<rect x="480.00" y="301.20" width="17.70" height="13.25" fill="#38ab36"/>
<rect x="394.90" y="316.25" width="101.00" height="13.25" fill="#bfbfbf"/>
<rect x="495.90" y="316.25" width="1.80" height="13.25" fill="#38ab36"/>
<path d="M394.9,268.8 V333.5 H500.8" fill="none" stroke="#111" stroke-width="1.3"/>
<path d="M391.29999999999995,277.73 H394.9" stroke="#111" stroke-width="1"/>
<text x="387.94" y="280.11" font-size="6.8" text-anchor="end" fill="#231f20" textLength="33.32" lengthAdjust="spacingAndGlyphs" stroke="#231f20" stroke-width="0.08">Monocytes</text>
<path d="M391.29999999999995,292.78 H394.9" stroke="#111" stroke-width="1"/>
<text x="387.94" y="295.16" font-size="6.8" text-anchor="end" fill="#231f20" textLength="25.32" lengthAdjust="spacingAndGlyphs" stroke="#231f20" stroke-width="0.08">NK cells</text>
<path d="M391.29999999999995,307.83 H394.9" stroke="#111" stroke-width="1"/>
<text x="387.94" y="310.21" font-size="6.8" text-anchor="end" fill="#231f20" textLength="40.52" lengthAdjust="spacingAndGlyphs" stroke="#231f20" stroke-width="0.08">CD4+ T cells</text>
<path d="M391.29999999999995,322.88 H394.9" stroke="#111" stroke-width="1"/>
<text x="387.94" y="325.25" font-size="6.8" text-anchor="end" fill="#231f20" textLength="40.52" lengthAdjust="spacingAndGlyphs" stroke="#231f20" stroke-width="0.08">CD8+ T cells</text>
<path d="M394.90,333.5 V336.5" stroke="#111" stroke-width="1"/>
<text x="394.90" y="345.40" font-size="6.9" text-anchor="middle" fill="#333" textLength="11.33" lengthAdjust="spacingAndGlyphs" stroke="#333" stroke-width="0.08">0%</text>
<path d="M420.60,333.5 V336.5" stroke="#111" stroke-width="1"/>
<text x="420.60" y="345.40" font-size="6.9" text-anchor="middle" fill="#333" textLength="14.33" lengthAdjust="spacingAndGlyphs" stroke="#333" stroke-width="0.08">25%</text>
<path d="M446.30,333.5 V336.5" stroke="#111" stroke-width="1"/>
<text x="446.30" y="345.40" font-size="6.9" text-anchor="middle" fill="#333" textLength="14.33" lengthAdjust="spacingAndGlyphs" stroke="#333" stroke-width="0.08">50%</text>
<path d="M472.00,333.5 V336.5" stroke="#111" stroke-width="1"/>
<text x="472.00" y="345.40" font-size="6.9" text-anchor="middle" fill="#333" textLength="14.33" lengthAdjust="spacingAndGlyphs" stroke="#333" stroke-width="0.08">75%</text>
<path d="M497.70,333.5 V336.5" stroke="#111" stroke-width="1"/>
<text x="497.70" y="345.40" font-size="6.9" text-anchor="middle" fill="#333" textLength="17.33" lengthAdjust="spacingAndGlyphs" stroke="#333" stroke-width="0.08">100%</text>
<text x="449.60" y="358.60" font-size="8.6" text-anchor="middle" fill="#1a1a1a" textLength="51.73" lengthAdjust="spacingAndGlyphs" stroke="#1a1a1a" stroke-width="0.25">Proportion of cells</text>
<text x="7.50" y="390.00" font-size="13" text-anchor="start" font-weight="bold" fill="#000">E</text>
<text x="22.62" y="390.70" font-size="9.54" text-anchor="start" fill="#231f20" textLength="90.04" lengthAdjust="spacingAndGlyphs" stroke="#231f20" stroke-width="0.12">Cell types in DNMT3A</text>
<g fill="#ef8a2b"><circle cx="71.2" cy="423.7" r="1.05"/><circle cx="71.6" cy="425.6" r="1.05"/><circle cx="71.3" cy="425.8" r="1.05"/><circle cx="52.1" cy="420.5" r="1.05"/><circle cx="51.5" cy="420.4" r="1.05"/><circle cx="53.7" cy="419.4" r="1.05"/><circle cx="52.2" cy="420.0" r="1.05"/><circle cx="48.1" cy="419.7" r="1.05"/><circle cx="49.1" cy="419.2" r="1.05"/><circle cx="47.0" cy="420.7" r="1.05"/><circle cx="47.8" cy="420.4" r="1.05"/><circle cx="58.7" cy="419.5" r="1.05"/><circle cx="49.3" cy="413.5" r="1.05"/><circle cx="62.1" cy="415.4" r="1.05"/><circle cx="61.3" cy="413.8" r="1.05"/><circle cx="64.0" cy="421.6" r="1.05"/><circle cx="66.5" cy="420.0" r="1.05"/><circle cx="64.6" cy="422.6" r="1.05"/><circle cx="64.6" cy="422.0" r="1.05"/><circle cx="58.1" cy="419.8" r="1.05"/><circle cx="59.9" cy="420.3" r="1.05"/><circle cx="51.6" cy="412.4" r="1.05"/><circle cx="50.7" cy="413.1" r="1.05"/><circle cx="51.9" cy="412.1" r="1.05"/><circle cx="51.4" cy="412.7" r="1.05"/><circle cx="50.3" cy="411.2" r="1.05"/><circle cx="53.1" cy="413.1" r="1.05"/><circle cx="52.3" cy="413.9" r="1.05"/><circle cx="53.3" cy="414.0" r="1.05"/><circle cx="53.3" cy="414.9" r="1.05"/><circle cx="52.0" cy="413.6" r="1.05"/><circle cx="65.2" cy="420.5" r="1.05"/><circle cx="64.0" cy="418.7" r="1.05"/><circle cx="60.5" cy="411.3" r="1.05"/><circle cx="59.9" cy="409.4" r="1.05"/><circle cx="56.0" cy="410.4" r="1.05"/><circle cx="55.9" cy="409.3" r="1.05"/><circle cx="62.5" cy="410.4" r="1.05"/><circle cx="64.3" cy="411.6" r="1.05"/><circle cx="63.5" cy="410.2" r="1.05"/><circle cx="61.6" cy="411.0" r="1.05"/><circle cx="62.0" cy="410.9" r="1.05"/><circle cx="61.8" cy="412.1" r="1.05"/><circle cx="61.9" cy="411.2" r="1.05"/><circle cx="57.9" cy="414.3" r="1.05"/><circle cx="60.7" cy="413.2" r="1.05"/><circle cx="60.7" cy="414.0" r="1.05"/><circle cx="48.7" cy="415.5" r="1.05"/><circle cx="64.7" cy="421.8" r="1.05"/><circle cx="63.4" cy="420.4" r="1.05"/><circle cx="64.2" cy="421.5" r="1.05"/><circle cx="52.1" cy="408.7" r="1.05"/><circle cx="53.2" cy="406.2" r="1.05"/><circle cx="58.0" cy="408.6" r="1.05"/><circle cx="55.2" cy="408.0" r="1.05"/><circle cx="58.6" cy="409.4" r="1.05"/><circle cx="49.5" cy="415.3" r="1.05"/><circle cx="47.5" cy="415.8" r="1.05"/><circle cx="49.1" cy="416.2" r="1.05"/><circle cx="48.7" cy="417.1" r="1.05"/><circle cx="50.5" cy="415.3" r="1.05"/><circle cx="56.4" cy="409.2" r="1.05"/><circle cx="58.0" cy="408.3" r="1.05"/><circle cx="56.3" cy="409.8" r="1.05"/><circle cx="54.7" cy="416.8" r="1.05"/><circle cx="54.6" cy="415.7" r="1.05"/><circle cx="53.9" cy="414.9" r="1.05"/><circle cx="55.2" cy="415.3" r="1.05"/><circle cx="67.6" cy="421.2" r="1.05"/><circle cx="66.8" cy="418.7" r="1.05"/><circle cx="65.5" cy="422.9" r="1.05"/><circle cx="66.1" cy="422.5" r="1.05"/><circle cx="67.3" cy="422.0" r="1.05"/><circle cx="61.7" cy="410.6" r="1.05"/><circle cx="59.9" cy="410.4" r="1.05"/><circle cx="60.4" cy="410.3" r="1.05"/><circle cx="51.3" cy="419.2" r="1.05"/><circle cx="61.9" cy="417.2" r="1.05"/><circle cx="63.5" cy="416.9" r="1.05"/><circle cx="62.9" cy="418.1" r="1.05"/><circle cx="56.5" cy="404.6" r="1.05"/><circle cx="60.2" cy="420.8" r="1.05"/><circle cx="66.9" cy="414.4" r="1.05"/><circle cx="64.1" cy="420.1" r="1.05"/><circle cx="63.0" cy="422.2" r="1.05"/><circle cx="53.7" cy="415.1" r="1.05"/><circle cx="64.5" cy="419.3" r="1.05"/><circle cx="53.9" cy="408.0" r="1.05"/><circle cx="70.2" cy="421.5" r="1.05"/><circle cx="63.4" cy="419.5" r="1.05"/><circle cx="54.4" cy="406.4" r="1.05"/><circle cx="60.3" cy="407.2" r="1.05"/><circle cx="48.4" cy="417.0" r="1.05"/><circle cx="61.3" cy="418.4" r="1.05"/><circle cx="59.3" cy="406.8" r="1.05"/><circle cx="69.3" cy="423.9" r="1.05"/><circle cx="54.3" cy="417.2" r="1.05"/><circle cx="46.9" cy="419.0" r="1.05"/><circle cx="47.6" cy="418.6" r="1.05"/><circle cx="63.4" cy="410.1" r="1.05"/><circle cx="63.1" cy="414.0" r="1.05"/><circle cx="61.6" cy="422.5" r="1.05"/><circle cx="56.0" cy="415.3" r="1.05"/><circle cx="55.9" cy="420.9" r="1.05"/><circle cx="67.4" cy="423.7" r="1.05"/></g>
<g fill="#f3a2a7"><circle cx="84.9" cy="423.4" r="1.0"/><circle cx="87.6" cy="419.8" r="1.0"/><circle cx="86.2" cy="422.9" r="1.0"/><circle cx="85.9" cy="421.2" r="1.0"/><circle cx="80.7" cy="422.4" r="1.0"/><circle cx="81.9" cy="421.5" r="1.0"/><circle cx="80.9" cy="421.2" r="1.0"/><circle cx="84.9" cy="416.4" r="1.0"/><circle cx="83.7" cy="417.7" r="1.0"/><circle cx="86.2" cy="423.8" r="1.0"/><circle cx="88.3" cy="418.3" r="1.0"/><circle cx="86.7" cy="424.4" r="1.0"/><circle cx="82.7" cy="421.8" r="1.0"/><circle cx="86.6" cy="420.4" r="1.0"/><circle cx="88.0" cy="419.5" r="1.0"/><circle cx="84.5" cy="424.6" r="1.0"/><circle cx="86.4" cy="419.3" r="1.0"/><circle cx="83.6" cy="422.2" r="1.0"/><circle cx="83.8" cy="424.6" r="1.0"/><circle cx="85.9" cy="418.4" r="1.0"/><circle cx="86.0" cy="416.4" r="1.0"/><circle cx="83.2" cy="425.0" r="1.0"/><circle cx="86.7" cy="423.6" r="1.0"/><circle cx="80.5" cy="419.0" r="1.0"/><circle cx="83.9" cy="418.8" r="1.0"/><circle cx="83.8" cy="419.4" r="1.0"/><circle cx="87.5" cy="420.2" r="1.0"/><circle cx="80.4" cy="421.7" r="1.0"/><circle cx="83.8" cy="417.6" r="1.0"/><circle cx="85.5" cy="419.2" r="1.0"/><circle cx="86.5" cy="425.0" r="1.0"/><circle cx="83.0" cy="424.5" r="1.0"/><circle cx="82.3" cy="421.9" r="1.0"/><circle cx="87.7" cy="423.3" r="1.0"/><circle cx="85.5" cy="419.1" r="1.0"/><circle cx="82.8" cy="419.7" r="1.0"/><circle cx="82.5" cy="418.0" r="1.0"/><circle cx="88.2" cy="423.7" r="1.0"/><circle cx="86.6" cy="418.4" r="1.0"/><circle cx="87.3" cy="418.2" r="1.0"/><circle cx="86.9" cy="422.8" r="1.0"/><circle cx="87.2" cy="416.8" r="1.0"/><circle cx="82.1" cy="418.0" r="1.0"/><circle cx="86.3" cy="420.0" r="1.0"/><circle cx="83.7" cy="422.1" r="1.0"/><circle cx="76.4" cy="419.0" r="1.0"/><circle cx="77.8" cy="424.8" r="1.0"/><circle cx="82.7" cy="425.8" r="1.0"/><circle cx="77.0" cy="417.9" r="1.0"/><circle cx="77.9" cy="425.1" r="1.0"/><circle cx="78.0" cy="417.6" r="1.0"/><circle cx="77.4" cy="418.3" r="1.0"/><circle cx="87.4" cy="420.3" r="1.0"/><circle cx="78.5" cy="431.8" r="1.0"/><circle cx="76.7" cy="428.4" r="1.0"/><circle cx="76.1" cy="426.8" r="1.0"/><circle cx="76.3" cy="429.9" r="1.0"/><circle cx="77.2" cy="426.0" r="1.0"/><circle cx="76.5" cy="429.6" r="1.0"/><circle cx="78.8" cy="430.7" r="1.0"/><circle cx="78.1" cy="429.3" r="1.0"/><circle cx="77.2" cy="430.8" r="1.0"/></g>
<g fill="#2d6fbe"><circle cx="62.2" cy="451.1" r="1.05"/><circle cx="62.5" cy="450.7" r="1.05"/><circle cx="50.3" cy="426.1" r="1.05"/><circle cx="49.9" cy="426.1" r="1.05"/><circle cx="56.3" cy="428.8" r="1.05"/><circle cx="55.0" cy="428.2" r="1.05"/><circle cx="59.6" cy="454.0" r="1.05"/><circle cx="57.6" cy="453.8" r="1.05"/><circle cx="58.7" cy="455.5" r="1.05"/><circle cx="52.0" cy="441.8" r="1.05"/><circle cx="50.6" cy="431.8" r="1.05"/><circle cx="62.0" cy="454.4" r="1.05"/><circle cx="60.9" cy="453.5" r="1.05"/><circle cx="60.0" cy="453.0" r="1.05"/><circle cx="58.9" cy="453.3" r="1.05"/><circle cx="54.0" cy="445.1" r="1.05"/><circle cx="54.6" cy="445.2" r="1.05"/><circle cx="53.8" cy="444.9" r="1.05"/><circle cx="53.1" cy="438.1" r="1.05"/><circle cx="59.0" cy="441.3" r="1.05"/><circle cx="58.6" cy="440.9" r="1.05"/><circle cx="51.0" cy="426.3" r="1.05"/><circle cx="50.3" cy="426.1" r="1.05"/><circle cx="51.6" cy="427.5" r="1.05"/><circle cx="47.4" cy="428.1" r="1.05"/><circle cx="48.4" cy="427.2" r="1.05"/><circle cx="47.9" cy="426.8" r="1.05"/><circle cx="47.5" cy="426.9" r="1.05"/><circle cx="61.7" cy="448.3" r="1.05"/><circle cx="49.3" cy="428.6" r="1.05"/><circle cx="51.8" cy="427.4" r="1.05"/><circle cx="59.0" cy="457.9" r="1.05"/><circle cx="58.3" cy="458.6" r="1.05"/><circle cx="57.2" cy="456.0" r="1.05"/><circle cx="51.7" cy="450.4" r="1.05"/><circle cx="49.8" cy="449.7" r="1.05"/><circle cx="53.1" cy="448.3" r="1.05"/><circle cx="62.9" cy="448.6" r="1.05"/><circle cx="64.4" cy="448.6" r="1.05"/><circle cx="56.5" cy="446.0" r="1.05"/><circle cx="56.4" cy="444.6" r="1.05"/><circle cx="60.8" cy="453.8" r="1.05"/><circle cx="59.9" cy="453.6" r="1.05"/><circle cx="59.0" cy="453.2" r="1.05"/><circle cx="60.2" cy="455.2" r="1.05"/><circle cx="60.1" cy="454.5" r="1.05"/><circle cx="55.1" cy="439.2" r="1.05"/><circle cx="56.2" cy="438.0" r="1.05"/><circle cx="54.3" cy="438.6" r="1.05"/><circle cx="52.6" cy="430.7" r="1.05"/><circle cx="53.7" cy="449.4" r="1.05"/><circle cx="54.4" cy="448.5" r="1.05"/><circle cx="55.4" cy="448.6" r="1.05"/><circle cx="53.4" cy="441.4" r="1.05"/><circle cx="52.8" cy="441.3" r="1.05"/><circle cx="53.8" cy="441.5" r="1.05"/><circle cx="54.8" cy="442.9" r="1.05"/><circle cx="53.8" cy="441.6" r="1.05"/><circle cx="56.4" cy="453.8" r="1.05"/><circle cx="57.1" cy="452.1" r="1.05"/><circle cx="57.9" cy="445.3" r="1.05"/><circle cx="56.8" cy="445.1" r="1.05"/><circle cx="51.0" cy="436.9" r="1.05"/><circle cx="50.0" cy="437.9" r="1.05"/><circle cx="49.7" cy="436.2" r="1.05"/><circle cx="56.8" cy="436.9" r="1.05"/><circle cx="58.7" cy="436.9" r="1.05"/><circle cx="57.1" cy="429.2" r="1.05"/><circle cx="58.9" cy="430.7" r="1.05"/><circle cx="57.4" cy="429.9" r="1.05"/><circle cx="49.8" cy="435.4" r="1.05"/><circle cx="50.0" cy="433.6" r="1.05"/><circle cx="58.0" cy="447.0" r="1.05"/><circle cx="60.6" cy="454.2" r="1.05"/><circle cx="60.8" cy="454.3" r="1.05"/><circle cx="59.7" cy="456.7" r="1.05"/><circle cx="54.8" cy="450.0" r="1.05"/><circle cx="54.8" cy="449.0" r="1.05"/><circle cx="55.0" cy="452.6" r="1.05"/><circle cx="54.3" cy="442.5" r="1.05"/><circle cx="52.5" cy="440.4" r="1.05"/><circle cx="54.0" cy="441.1" r="1.05"/><circle cx="54.3" cy="440.8" r="1.05"/><circle cx="54.5" cy="442.6" r="1.05"/><circle cx="58.9" cy="452.8" r="1.05"/><circle cx="59.8" cy="451.6" r="1.05"/><circle cx="53.5" cy="450.6" r="1.05"/><circle cx="52.4" cy="450.2" r="1.05"/><circle cx="53.7" cy="452.6" r="1.05"/><circle cx="54.1" cy="446.1" r="1.05"/><circle cx="56.1" cy="445.2" r="1.05"/><circle cx="54.9" cy="445.2" r="1.05"/><circle cx="60.1" cy="444.0" r="1.05"/><circle cx="58.0" cy="426.4" r="1.05"/><circle cx="56.9" cy="426.9" r="1.05"/><circle cx="56.4" cy="426.0" r="1.05"/><circle cx="54.8" cy="444.2" r="1.05"/><circle cx="56.2" cy="442.6" r="1.05"/><circle cx="55.7" cy="444.5" r="1.05"/><circle cx="54.9" cy="457.9" r="1.05"/><circle cx="55.4" cy="447.3" r="1.05"/><circle cx="51.7" cy="428.3" r="1.05"/><circle cx="53.0" cy="426.7" r="1.05"/><circle cx="52.0" cy="426.0" r="1.05"/><circle cx="51.9" cy="425.1" r="1.05"/><circle cx="56.1" cy="432.1" r="1.05"/><circle cx="56.5" cy="431.6" r="1.05"/><circle cx="58.2" cy="432.5" r="1.05"/><circle cx="60.7" cy="450.9" r="1.05"/><circle cx="57.3" cy="435.2" r="1.05"/><circle cx="59.8" cy="434.3" r="1.05"/><circle cx="58.1" cy="432.4" r="1.05"/><circle cx="54.7" cy="452.7" r="1.05"/><circle cx="53.4" cy="442.1" r="1.05"/><circle cx="58.6" cy="449.5" r="1.05"/><circle cx="52.7" cy="426.9" r="1.05"/><circle cx="56.2" cy="425.9" r="1.05"/><circle cx="61.9" cy="453.0" r="1.05"/><circle cx="54.9" cy="449.6" r="1.05"/><circle cx="55.3" cy="452.5" r="1.05"/><circle cx="49.8" cy="434.8" r="1.05"/><circle cx="62.4" cy="433.1" r="1.05"/><circle cx="54.5" cy="441.9" r="1.05"/><circle cx="53.8" cy="429.4" r="1.05"/><circle cx="58.5" cy="439.5" r="1.05"/><circle cx="60.7" cy="444.7" r="1.05"/><circle cx="53.4" cy="429.6" r="1.05"/><circle cx="61.8" cy="431.2" r="1.05"/><circle cx="52.6" cy="449.2" r="1.05"/><circle cx="62.6" cy="447.2" r="1.05"/><circle cx="60.7" cy="442.5" r="1.05"/><circle cx="54.6" cy="427.6" r="1.05"/><circle cx="53.9" cy="430.5" r="1.05"/><circle cx="53.9" cy="428.7" r="1.05"/><circle cx="54.8" cy="426.3" r="1.05"/><circle cx="63.0" cy="445.4" r="1.05"/><circle cx="49.1" cy="437.8" r="1.05"/><circle cx="50.6" cy="444.1" r="1.05"/><circle cx="54.5" cy="436.1" r="1.05"/><circle cx="54.8" cy="436.6" r="1.05"/><circle cx="61.4" cy="453.8" r="1.05"/><circle cx="52.1" cy="428.4" r="1.05"/><circle cx="54.5" cy="439.3" r="1.05"/><circle cx="60.5" cy="434.6" r="1.05"/><circle cx="57.6" cy="427.5" r="1.05"/><circle cx="49.2" cy="426.6" r="1.05"/><circle cx="54.6" cy="438.8" r="1.05"/><circle cx="55.5" cy="437.7" r="1.05"/><circle cx="57.9" cy="441.6" r="1.05"/><circle cx="61.9" cy="452.4" r="1.05"/><circle cx="57.9" cy="443.1" r="1.05"/><circle cx="59.3" cy="427.3" r="1.05"/><circle cx="55.6" cy="454.6" r="1.05"/><circle cx="55.6" cy="454.5" r="1.05"/><circle cx="55.3" cy="456.0" r="1.05"/><circle cx="55.8" cy="456.3" r="1.05"/><circle cx="56.9" cy="452.1" r="1.05"/><circle cx="54.7" cy="452.7" r="1.05"/><circle cx="57.2" cy="455.1" r="1.05"/><circle cx="56.1" cy="454.0" r="1.05"/><circle cx="55.8" cy="451.8" r="1.05"/><circle cx="56.2" cy="455.8" r="1.05"/><circle cx="53.7" cy="454.0" r="1.05"/><circle cx="57.9" cy="452.8" r="1.05"/><circle cx="59.5" cy="454.3" r="1.05"/><circle cx="56.2" cy="451.9" r="1.05"/></g>
<g fill="#37a048"><circle cx="72.1" cy="444.1" r="1.05"/><circle cx="70.5" cy="444.2" r="1.05"/><circle cx="70.2" cy="443.2" r="1.05"/><circle cx="71.1" cy="452.7" r="1.05"/><circle cx="72.1" cy="452.8" r="1.05"/><circle cx="72.0" cy="453.3" r="1.05"/><circle cx="75.1" cy="449.9" r="1.05"/><circle cx="72.4" cy="447.7" r="1.05"/><circle cx="71.5" cy="447.5" r="1.05"/><circle cx="68.2" cy="446.6" r="1.05"/><circle cx="69.4" cy="447.1" r="1.05"/><circle cx="66.9" cy="453.7" r="1.05"/><circle cx="75.0" cy="449.6" r="1.05"/><circle cx="77.0" cy="452.1" r="1.05"/><circle cx="74.4" cy="450.7" r="1.05"/><circle cx="74.5" cy="444.5" r="1.05"/><circle cx="74.2" cy="450.1" r="1.05"/><circle cx="72.4" cy="450.8" r="1.05"/><circle cx="75.4" cy="448.6" r="1.05"/><circle cx="75.0" cy="456.9" r="1.05"/><circle cx="75.4" cy="455.0" r="1.05"/><circle cx="75.4" cy="455.2" r="1.05"/><circle cx="71.8" cy="445.3" r="1.05"/><circle cx="72.1" cy="446.2" r="1.05"/><circle cx="74.1" cy="447.1" r="1.05"/><circle cx="79.9" cy="448.3" r="1.05"/><circle cx="79.7" cy="448.5" r="1.05"/><circle cx="79.5" cy="448.1" r="1.05"/><circle cx="79.6" cy="449.0" r="1.05"/><circle cx="78.9" cy="449.1" r="1.05"/><circle cx="66.0" cy="453.7" r="1.05"/><circle cx="72.7" cy="455.0" r="1.05"/><circle cx="72.0" cy="454.9" r="1.05"/><circle cx="73.8" cy="453.3" r="1.05"/><circle cx="74.3" cy="454.1" r="1.05"/><circle cx="69.5" cy="443.5" r="1.05"/><circle cx="70.9" cy="450.1" r="1.05"/><circle cx="70.9" cy="448.1" r="1.05"/><circle cx="71.8" cy="456.1" r="1.05"/><circle cx="69.9" cy="453.9" r="1.05"/><circle cx="72.3" cy="454.7" r="1.05"/><circle cx="70.8" cy="457.9" r="1.05"/><circle cx="71.3" cy="460.3" r="1.05"/><circle cx="69.1" cy="449.4" r="1.05"/><circle cx="68.4" cy="449.3" r="1.05"/><circle cx="70.7" cy="449.6" r="1.05"/><circle cx="69.4" cy="449.0" r="1.05"/><circle cx="69.2" cy="455.2" r="1.05"/><circle cx="68.0" cy="454.7" r="1.05"/><circle cx="69.5" cy="454.8" r="1.05"/><circle cx="73.6" cy="443.4" r="1.05"/><circle cx="75.9" cy="449.9" r="1.05"/><circle cx="78.5" cy="447.7" r="1.05"/><circle cx="66.8" cy="453.0" r="1.05"/><circle cx="69.3" cy="450.3" r="1.05"/><circle cx="71.1" cy="449.7" r="1.05"/><circle cx="73.4" cy="457.0" r="1.05"/><circle cx="79.8" cy="452.4" r="1.05"/><circle cx="73.5" cy="443.7" r="1.05"/><circle cx="71.5" cy="446.5" r="1.05"/><circle cx="74.4" cy="447.0" r="1.05"/><circle cx="77.4" cy="444.7" r="1.05"/><circle cx="73.1" cy="449.8" r="1.05"/><circle cx="68.9" cy="450.0" r="1.05"/><circle cx="72.7" cy="458.4" r="1.05"/><circle cx="72.3" cy="442.2" r="1.05"/><circle cx="73.0" cy="432.4" r="1.05"/><circle cx="72.1" cy="438.9" r="1.05"/><circle cx="74.9" cy="435.8" r="1.05"/><circle cx="74.2" cy="434.8" r="1.05"/><circle cx="74.8" cy="442.9" r="1.05"/><circle cx="73.8" cy="434.3" r="1.05"/><circle cx="73.1" cy="443.0" r="1.05"/><circle cx="76.0" cy="433.0" r="1.05"/><circle cx="72.1" cy="433.3" r="1.05"/></g>
<path d="M30.5,467.3 V435.7 M30.5,467.3 H63.2" fill="none" stroke="#111" stroke-width="1.15"/>
<path d="M28.3,436.4 L30.5,431.2 L32.7,436.4 z" fill="#111"/>
<path d="M62.5,465.1 L67.7,467.3 L62.5,469.5 z" fill="#111"/>
<text transform="translate(23.90,449.60) rotate(-90)" x="0" y="0" font-size="9.8" text-anchor="middle" font-weight="bold" fill="#222" textLength="24.18" lengthAdjust="spacingAndGlyphs">UMAP 2</text>
<text x="37.41" y="478.80" font-size="9.8" text-anchor="start" font-weight="bold" fill="#222" textLength="24.28" lengthAdjust="spacingAndGlyphs">UMAP 1</text>
<text x="157.40" y="390.00" font-size="13" text-anchor="start" font-weight="bold" fill="#000">F</text>
<text x="171.52" y="390.70" font-size="9.54" text-anchor="start" fill="#231f20" textLength="90.44" lengthAdjust="spacingAndGlyphs" stroke="#231f20" stroke-width="0.12">Mutations in DNMT3A</text>
<g fill="#7b7b7b"><circle cx="219.3" cy="423.9" r="1.05"/><circle cx="206.5" cy="404.6" r="1.05"/><circle cx="205.4" cy="447.3" r="1.05"/><circle cx="229.6" cy="449.0" r="1.05"/><circle cx="227.2" cy="430.8" r="1.05"/><circle cx="226.0" cy="433.0" r="1.05"/><circle cx="200.0" cy="437.9" r="1.05"/><circle cx="219.5" cy="454.8" r="1.05"/><circle cx="220.5" cy="444.2" r="1.05"/><circle cx="223.8" cy="434.3" r="1.05"/><circle cx="223.1" cy="443.0" r="1.05"/><circle cx="210.3" cy="407.2" r="1.05"/><circle cx="233.8" cy="419.4" r="1.05"/><circle cx="208.0" cy="408.3" r="1.05"/><circle cx="224.5" cy="444.5" r="1.05"/><circle cx="216.8" cy="453.0" r="1.05"/><circle cx="221.8" cy="445.3" r="1.05"/><circle cx="220.2" cy="421.5" r="1.05"/><circle cx="197.5" cy="415.8" r="1.05"/><circle cx="208.0" cy="426.4" r="1.05"/><circle cx="205.4" cy="448.6" r="1.05"/><circle cx="209.3" cy="406.8" r="1.05"/><circle cx="208.1" cy="432.4" r="1.05"/><circle cx="211.6" cy="411.0" r="1.05"/><circle cx="236.7" cy="423.6" r="1.05"/><circle cx="211.4" cy="453.8" r="1.05"/><circle cx="208.7" cy="436.9" r="1.05"/><circle cx="228.8" cy="430.7" r="1.05"/><circle cx="205.9" cy="409.3" r="1.05"/><circle cx="199.5" cy="415.3" r="1.05"/><circle cx="216.1" cy="422.5" r="1.05"/><circle cx="210.2" cy="420.8" r="1.05"/><circle cx="222.7" cy="455.0" r="1.05"/><circle cx="197.6" cy="418.6" r="1.05"/><circle cx="214.6" cy="422.0" r="1.05"/><circle cx="209.9" cy="420.3" r="1.05"/><circle cx="227.0" cy="417.9" r="1.05"/><circle cx="233.7" cy="422.1" r="1.05"/><circle cx="199.3" cy="413.5" r="1.05"/><circle cx="209.7" cy="456.7" r="1.05"/><circle cx="210.7" cy="413.2" r="1.05"/><circle cx="206.0" cy="415.3" r="1.05"/><circle cx="220.9" cy="450.1" r="1.05"/><circle cx="196.9" cy="419.0" r="1.05"/><circle cx="212.9" cy="418.1" r="1.05"/><circle cx="198.4" cy="427.2" r="1.05"/><circle cx="198.1" cy="419.7" r="1.05"/><circle cx="201.0" cy="426.3" r="1.05"/><circle cx="233.2" cy="425.0" r="1.05"/><circle cx="205.6" cy="454.6" r="1.05"/><circle cx="220.2" cy="443.2" r="1.05"/><circle cx="232.1" cy="418.0" r="1.05"/><circle cx="202.1" cy="408.7" r="1.05"/><circle cx="230.9" cy="421.2" r="1.05"/><circle cx="220.9" cy="448.1" r="1.05"/><circle cx="211.9" cy="417.2" r="1.05"/><circle cx="222.1" cy="438.9" r="1.05"/><circle cx="204.9" cy="449.6" r="1.05"/><circle cx="230.7" cy="422.4" r="1.05"/><circle cx="197.8" cy="420.4" r="1.05"/><circle cx="204.4" cy="406.4" r="1.05"/><circle cx="200.3" cy="426.1" r="1.05"/><circle cx="203.7" cy="419.4" r="1.05"/><circle cx="219.1" cy="449.4" r="1.05"/><circle cx="217.3" cy="422.0" r="1.05"/><circle cx="199.7" cy="436.2" r="1.05"/><circle cx="224.8" cy="442.9" r="1.05"/><circle cx="209.6" cy="454.0" r="1.05"/><circle cx="213.1" cy="414.0" r="1.05"/><circle cx="212.0" cy="410.9" r="1.05"/><circle cx="222.1" cy="444.1" r="1.05"/><circle cx="236.9" cy="422.8" r="1.05"/><circle cx="214.4" cy="448.6" r="1.05"/><circle cx="205.0" cy="452.6" r="1.05"/><circle cx="208.7" cy="419.5" r="1.05"/><circle cx="205.5" cy="437.7" r="1.05"/><circle cx="228.5" cy="431.8" r="1.05"/><circle cx="208.7" cy="455.5" r="1.05"/><circle cx="197.4" cy="428.1" r="1.05"/><circle cx="214.5" cy="419.3" r="1.05"/><circle cx="222.4" cy="450.8" r="1.05"/><circle cx="225.1" cy="449.9" r="1.05"/><circle cx="219.2" cy="455.2" r="1.05"/><circle cx="205.6" cy="454.5" r="1.05"/><circle cx="209.3" cy="427.3" r="1.05"/><circle cx="223.4" cy="457.0" r="1.05"/><circle cx="228.5" cy="447.7" r="1.05"/><circle cx="201.3" cy="419.2" r="1.05"/><circle cx="233.8" cy="424.6" r="1.05"/><circle cx="200.6" cy="431.8" r="1.05"/><circle cx="204.8" cy="450.0" r="1.05"/><circle cx="210.1" cy="454.5" r="1.05"/><circle cx="222.3" cy="454.7" r="1.05"/><circle cx="200.3" cy="426.1" r="1.05"/><circle cx="223.5" cy="443.7" r="1.05"/><circle cx="206.2" cy="455.8" r="1.05"/><circle cx="210.7" cy="450.9" r="1.05"/><circle cx="214.7" cy="421.8" r="1.05"/><circle cx="203.1" cy="413.1" r="1.05"/><circle cx="227.2" cy="426.0" r="1.05"/><circle cx="223.8" cy="453.3" r="1.05"/><circle cx="232.5" cy="418.0" r="1.05"/><circle cx="223.1" cy="449.8" r="1.05"/><circle cx="224.9" cy="435.8" r="1.05"/><circle cx="212.2" cy="451.1" r="1.05"/><circle cx="202.6" cy="430.7" r="1.05"/><circle cx="235.5" cy="419.2" r="1.05"/><circle cx="202.2" cy="420.0" r="1.05"/><circle cx="238.3" cy="418.3" r="1.05"/><circle cx="208.0" cy="447.0" r="1.05"/><circle cx="208.1" cy="419.8" r="1.05"/><circle cx="199.3" cy="428.6" r="1.05"/><circle cx="211.7" cy="448.3" r="1.05"/><circle cx="205.9" cy="420.9" r="1.05"/><circle cx="207.9" cy="445.3" r="1.05"/><circle cx="211.6" cy="422.5" r="1.05"/><circle cx="197.9" cy="426.8" r="1.05"/><circle cx="209.0" cy="457.9" r="1.05"/><circle cx="213.4" cy="420.4" r="1.05"/><circle cx="223.0" cy="432.4" r="1.05"/><circle cx="207.6" cy="453.8" r="1.05"/><circle cx="219.4" cy="447.1" r="1.05"/><circle cx="201.7" cy="428.3" r="1.05"/><circle cx="213.5" cy="410.2" r="1.05"/><circle cx="197.5" cy="426.9" r="1.05"/><circle cx="204.7" cy="452.7" r="1.05"/><circle cx="217.6" cy="421.2" r="1.05"/><circle cx="237.5" cy="420.2" r="1.05"/><circle cx="227.4" cy="444.7" r="1.05"/><circle cx="224.3" cy="454.1" r="1.05"/><circle cx="219.3" cy="450.3" r="1.05"/><circle cx="203.2" cy="406.2" r="1.05"/><circle cx="236.6" cy="418.4" r="1.05"/><circle cx="200.0" cy="433.6" r="1.05"/><circle cx="203.8" cy="444.9" r="1.05"/><circle cx="204.1" cy="446.1" r="1.05"/><circle cx="207.9" cy="452.8" r="1.05"/><circle cx="208.3" cy="458.6" r="1.05"/><circle cx="226.7" cy="428.4" r="1.05"/><circle cx="224.4" cy="447.0" r="1.05"/><circle cx="203.3" cy="414.0" r="1.05"/><circle cx="201.5" cy="420.4" r="1.05"/><circle cx="228.0" cy="417.6" r="1.05"/><circle cx="225.4" cy="455.0" r="1.05"/><circle cx="216.5" cy="420.0" r="1.05"/><circle cx="213.0" cy="422.2" r="1.05"/><circle cx="230.4" cy="421.7" r="1.05"/><circle cx="204.8" cy="444.2" r="1.05"/><circle cx="227.4" cy="418.3" r="1.05"/><circle cx="223.6" cy="443.4" r="1.05"/><circle cx="201.9" cy="412.1" r="1.05"/><circle cx="237.2" cy="416.8" r="1.05"/><circle cx="225.4" cy="448.6" r="1.05"/><circle cx="203.9" cy="408.0" r="1.05"/><circle cx="234.9" cy="416.4" r="1.05"/><circle cx="222.1" cy="446.2" r="1.05"/><circle cx="206.1" cy="432.1" r="1.05"/><circle cx="215.2" cy="420.5" r="1.05"/><circle cx="202.1" cy="428.4" r="1.05"/><circle cx="230.5" cy="419.0" r="1.05"/><circle cx="217.4" cy="423.7" r="1.05"/><circle cx="211.8" cy="431.2" r="1.05"/><circle cx="221.3" cy="425.8" r="1.05"/><circle cx="200.3" cy="411.2" r="1.05"/><circle cx="210.5" cy="411.3" r="1.05"/><circle cx="237.4" cy="420.3" r="1.05"/><circle cx="236.4" cy="419.3" r="1.05"/><circle cx="236.3" cy="420.0" r="1.05"/><circle cx="199.9" cy="426.1" r="1.05"/><circle cx="201.9" cy="425.1" r="1.05"/><circle cx="208.6" cy="409.4" r="1.05"/><circle cx="208.6" cy="440.9" r="1.05"/><circle cx="204.5" cy="439.3" r="1.05"/><circle cx="212.5" cy="410.4" r="1.05"/><circle cx="232.7" cy="421.8" r="1.05"/><circle cx="201.7" cy="450.4" r="1.05"/><circle cx="204.6" cy="445.2" r="1.05"/><circle cx="209.9" cy="453.6" r="1.05"/><circle cx="202.4" cy="450.2" r="1.05"/><circle cx="225.4" cy="455.2" r="1.05"/><circle cx="203.4" cy="441.4" r="1.05"/><circle cx="216.9" cy="453.7" r="1.05"/><circle cx="199.2" cy="426.6" r="1.05"/><circle cx="221.1" cy="452.7" r="1.05"/><circle cx="229.9" cy="448.3" r="1.05"/><circle cx="213.4" cy="410.1" r="1.05"/><circle cx="233.7" cy="417.7" r="1.05"/><circle cx="234.5" cy="424.6" r="1.05"/><circle cx="204.3" cy="442.5" r="1.05"/><circle cx="216.0" cy="453.7" r="1.05"/><circle cx="204.6" cy="415.7" r="1.05"/><circle cx="236.2" cy="423.8" r="1.05"/><circle cx="204.5" cy="442.6" r="1.05"/><circle cx="203.8" cy="429.4" r="1.05"/><circle cx="206.2" cy="451.9" r="1.05"/><circle cx="206.8" cy="445.1" r="1.05"/><circle cx="221.8" cy="456.1" r="1.05"/><circle cx="216.9" cy="414.4" r="1.05"/><circle cx="238.0" cy="419.5" r="1.05"/><circle cx="204.5" cy="436.1" r="1.05"/><circle cx="208.9" cy="453.3" r="1.05"/><circle cx="213.0" cy="445.4" r="1.05"/><circle cx="212.1" cy="415.4" r="1.05"/><circle cx="204.8" cy="442.9" r="1.05"/><circle cx="214.3" cy="411.6" r="1.05"/><circle cx="206.2" cy="425.9" r="1.05"/><circle cx="237.3" cy="418.2" r="1.05"/><circle cx="206.4" cy="409.2" r="1.05"/><circle cx="197.0" cy="420.7" r="1.05"/><circle cx="205.8" cy="451.8" r="1.05"/><circle cx="202.0" cy="413.6" r="1.05"/><circle cx="227.8" cy="424.8" r="1.05"/><circle cx="224.4" cy="450.7" r="1.05"/><circle cx="201.0" cy="436.9" r="1.05"/><circle cx="203.5" cy="450.6" r="1.05"/><circle cx="199.8" cy="449.7" r="1.05"/><circle cx="199.1" cy="416.2" r="1.05"/><circle cx="206.9" cy="452.1" r="1.05"/><circle cx="203.4" cy="429.6" r="1.05"/><circle cx="210.7" cy="414.0" r="1.05"/><circle cx="232.7" cy="425.8" r="1.05"/><circle cx="201.6" cy="427.5" r="1.05"/><circle cx="233.8" cy="417.6" r="1.05"/><circle cx="209.8" cy="434.3" r="1.05"/><circle cx="205.3" cy="452.5" r="1.05"/><circle cx="207.2" cy="456.0" r="1.05"/><circle cx="228.9" cy="449.1" r="1.05"/><circle cx="206.1" cy="454.0" r="1.05"/><circle cx="222.1" cy="452.8" r="1.05"/><circle cx="209.9" cy="409.4" r="1.05"/><circle cx="208.6" cy="449.5" r="1.05"/><circle cx="204.4" cy="448.5" r="1.05"/><circle cx="202.3" cy="413.9" r="1.05"/><circle cx="221.5" cy="447.5" r="1.05"/><circle cx="224.2" cy="450.1" r="1.05"/><circle cx="232.3" cy="421.9" r="1.05"/><circle cx="218.9" cy="450.0" r="1.05"/><circle cx="199.8" cy="434.8" r="1.05"/><circle cx="212.6" cy="447.2" r="1.05"/><circle cx="205.2" cy="408.0" r="1.05"/><circle cx="206.4" cy="453.8" r="1.05"/><circle cx="220.8" cy="457.9" r="1.05"/><circle cx="200.5" cy="415.3" r="1.05"/><circle cx="221.3" cy="460.3" r="1.05"/><circle cx="221.1" cy="449.7" r="1.05"/><circle cx="222.1" cy="433.3" r="1.05"/><circle cx="225.0" cy="456.9" r="1.05"/><circle cx="203.7" cy="415.1" r="1.05"/><circle cx="210.6" cy="454.2" r="1.05"/><circle cx="211.7" cy="410.6" r="1.05"/><circle cx="234.9" cy="423.4" r="1.05"/><circle cx="227.9" cy="425.1" r="1.05"/><circle cx="235.9" cy="421.2" r="1.05"/><circle cx="202.5" cy="440.4" r="1.05"/><circle cx="204.8" cy="449.0" r="1.05"/><circle cx="214.6" cy="422.6" r="1.05"/><circle cx="198.4" cy="417.0" r="1.05"/><circle cx="229.7" cy="448.5" r="1.05"/><circle cx="201.4" cy="412.7" r="1.05"/><circle cx="206.3" cy="409.8" r="1.05"/><circle cx="236.7" cy="424.4" r="1.05"/><circle cx="226.1" cy="426.8" r="1.05"/><circle cx="236.6" cy="420.4" r="1.05"/><circle cx="212.5" cy="450.7" r="1.05"/><circle cx="198.7" cy="415.5" r="1.05"/><circle cx="221.5" cy="446.5" r="1.05"/><circle cx="215.5" cy="422.9" r="1.05"/><circle cx="231.9" cy="421.5" r="1.05"/><circle cx="211.3" cy="418.4" r="1.05"/><circle cx="219.5" cy="443.5" r="1.05"/><circle cx="206.5" cy="431.6" r="1.05"/><circle cx="214.2" cy="421.5" r="1.05"/><circle cx="208.5" cy="439.5" r="1.05"/><circle cx="209.0" cy="441.3" r="1.05"/><circle cx="209.5" cy="454.3" r="1.05"/><circle cx="208.9" cy="430.7" r="1.05"/><circle cx="198.7" cy="417.1" r="1.05"/><circle cx="233.6" cy="422.2" r="1.05"/><circle cx="211.9" cy="411.2" r="1.05"/><circle cx="233.0" cy="424.5" r="1.05"/><circle cx="238.2" cy="423.7" r="1.05"/><circle cx="222.0" cy="454.9" r="1.05"/><circle cx="206.5" cy="446.0" r="1.05"/><circle cx="206.4" cy="426.0" r="1.05"/><circle cx="209.9" cy="410.4" r="1.05"/><circle cx="213.4" cy="419.5" r="1.05"/><circle cx="206.4" cy="444.6" r="1.05"/><circle cx="203.9" cy="430.5" r="1.05"/><circle cx="203.7" cy="452.6" r="1.05"/><circle cx="208.0" cy="408.6" r="1.05"/><circle cx="210.1" cy="444.0" r="1.05"/><circle cx="203.3" cy="414.9" r="1.05"/><circle cx="224.1" cy="447.1" r="1.05"/><circle cx="203.8" cy="441.5" r="1.05"/><circle cx="221.6" cy="425.6" r="1.05"/><circle cx="210.2" cy="455.2" r="1.05"/><circle cx="205.2" cy="415.3" r="1.05"/><circle cx="220.7" cy="449.6" r="1.05"/><circle cx="204.6" cy="427.6" r="1.05"/><circle cx="225.0" cy="449.6" r="1.05"/><circle cx="225.9" cy="449.9" r="1.05"/><circle cx="210.4" cy="410.3" r="1.05"/><circle cx="235.9" cy="418.4" r="1.05"/><circle cx="236.2" cy="422.9" r="1.05"/><circle cx="237.6" cy="419.8" r="1.05"/><circle cx="207.4" cy="429.9" r="1.05"/><circle cx="216.8" cy="418.7" r="1.05"/><circle cx="218.0" cy="454.7" r="1.05"/><circle cx="201.6" cy="412.4" r="1.05"/><circle cx="222.3" cy="442.2" r="1.05"/><circle cx="237.7" cy="423.3" r="1.05"/><circle cx="204.5" cy="441.9" r="1.05"/><circle cx="209.0" cy="453.2" r="1.05"/><circle cx="211.3" cy="413.8" r="1.05"/><circle cx="233.9" cy="418.8" r="1.05"/><circle cx="222.0" cy="453.3" r="1.05"/><circle cx="200.6" cy="444.1" r="1.05"/><circle cx="203.0" cy="426.7" r="1.05"/><circle cx="199.1" cy="419.2" r="1.05"/><circle cx="200.7" cy="413.1" r="1.05"/><circle cx="229.5" cy="448.1" r="1.05"/><circle cx="202.0" cy="426.0" r="1.05"/><circle cx="211.8" cy="412.1" r="1.05"/><circle cx="214.0" cy="418.7" r="1.05"/><circle cx="219.9" cy="453.9" r="1.05"/><circle cx="204.3" cy="417.2" r="1.05"/><circle cx="203.7" cy="449.4" r="1.05"/><circle cx="210.7" cy="442.5" r="1.05"/><circle cx="227.0" cy="452.1" r="1.05"/></g>
<g fill="#86b6d2"><circle cx="236.0" cy="416.4" r="1.05"/><circle cx="201.8" cy="427.4" r="1.05"/><circle cx="207.6" cy="427.5" r="1.05"/><circle cx="204.0" cy="441.1" r="1.05"/><circle cx="204.0" cy="445.1" r="1.05"/><circle cx="203.9" cy="428.7" r="1.05"/><circle cx="203.7" cy="454.0" r="1.05"/><circle cx="206.0" cy="410.4" r="1.05"/><circle cx="203.4" cy="442.1" r="1.05"/><circle cx="221.2" cy="423.7" r="1.05"/><circle cx="236.5" cy="425.0" r="1.05"/><circle cx="207.3" cy="435.2" r="1.05"/><circle cx="226.5" cy="429.6" r="1.05"/><circle cx="208.2" cy="432.5" r="1.05"/><circle cx="226.3" cy="429.9" r="1.05"/><circle cx="204.8" cy="426.3" r="1.05"/><circle cx="210.7" cy="444.7" r="1.05"/><circle cx="210.9" cy="453.5" r="1.05"/><circle cx="207.9" cy="414.3" r="1.05"/><circle cx="204.8" cy="436.6" r="1.05"/><circle cx="214.1" cy="420.1" r="1.05"/><circle cx="207.9" cy="443.1" r="1.05"/><circle cx="226.4" cy="419.0" r="1.05"/><circle cx="204.6" cy="438.8" r="1.05"/><circle cx="210.0" cy="453.0" r="1.05"/><circle cx="202.7" cy="426.9" r="1.05"/><circle cx="204.9" cy="445.2" r="1.05"/><circle cx="212.9" cy="448.6" r="1.05"/><circle cx="203.1" cy="448.3" r="1.05"/><circle cx="212.0" cy="454.4" r="1.05"/><circle cx="207.9" cy="441.6" r="1.05"/><circle cx="199.1" cy="437.8" r="1.05"/><circle cx="206.8" cy="436.9" r="1.05"/><circle cx="228.1" cy="429.3" r="1.05"/><circle cx="212.4" cy="433.1" r="1.05"/><circle cx="202.8" cy="441.3" r="1.05"/><circle cx="205.3" cy="456.0" r="1.05"/><circle cx="203.9" cy="414.9" r="1.05"/><circle cx="202.1" cy="420.5" r="1.05"/><circle cx="211.9" cy="452.4" r="1.05"/><circle cx="206.2" cy="442.6" r="1.05"/><circle cx="202.6" cy="449.2" r="1.05"/><circle cx="199.8" cy="435.4" r="1.05"/><circle cx="211.9" cy="453.0" r="1.05"/><circle cx="210.8" cy="453.8" r="1.05"/><circle cx="205.8" cy="456.3" r="1.05"/><circle cx="206.9" cy="426.9" r="1.05"/><circle cx="204.3" cy="438.6" r="1.05"/><circle cx="208.9" cy="452.8" r="1.05"/><circle cx="209.8" cy="451.6" r="1.05"/><circle cx="218.4" cy="449.3" r="1.05"/><circle cx="219.4" cy="449.0" r="1.05"/><circle cx="203.1" cy="438.1" r="1.05"/><circle cx="229.8" cy="452.4" r="1.05"/><circle cx="222.4" cy="447.7" r="1.05"/><circle cx="207.2" cy="455.1" r="1.05"/><circle cx="232.8" cy="419.7" r="1.05"/><circle cx="204.3" cy="440.8" r="1.05"/><circle cx="204.7" cy="416.8" r="1.05"/><circle cx="218.2" cy="446.6" r="1.05"/><circle cx="202.0" cy="441.8" r="1.05"/></g>
<g fill="#c8102e"><circle cx="204.7" cy="452.7" r="1.05"/><circle cx="205.1" cy="439.2" r="1.05"/><circle cx="235.5" cy="419.1" r="1.05"/><circle cx="207.1" cy="429.2" r="1.05"/><circle cx="213.5" cy="416.9" r="1.05"/><circle cx="207.1" cy="452.1" r="1.05"/><circle cx="210.8" cy="454.3" r="1.05"/><circle cx="214.0" cy="421.6" r="1.05"/><circle cx="205.0" cy="428.2" r="1.05"/><circle cx="222.7" cy="458.4" r="1.05"/><circle cx="204.9" cy="457.9" r="1.05"/><circle cx="206.3" cy="428.8" r="1.05"/><circle cx="205.7" cy="444.5" r="1.05"/><circle cx="206.1" cy="445.2" r="1.05"/><circle cx="206.2" cy="438.0" r="1.05"/><circle cx="203.8" cy="441.6" r="1.05"/><circle cx="210.5" cy="434.6" r="1.05"/><circle cx="224.2" cy="434.8" r="1.05"/></g>
<text x="321.80" y="390.00" font-size="13" text-anchor="start" font-weight="bold" fill="#000">G</text>
<text x="357.22" y="390.70" font-size="9.54" text-anchor="start" fill="#231f20" textLength="154.24" lengthAdjust="spacingAndGlyphs" stroke="#231f20" stroke-width="0.12">DNMT3A Cell Type Proportions (DNA)</text>
<rect x="394.90" y="398.80" width="57.10" height="13.2" fill="#bfbfbf"/>
<rect x="452.00" y="398.80" width="34.60" height="13.2" fill="#a4cde4"/>
<rect x="486.60" y="398.80" width="9.90" height="13.2" fill="#c8002a"/>
<rect x="394.90" y="413.75" width="85.30" height="13.2" fill="#bfbfbf"/>
<rect x="480.20" y="413.75" width="11.50" height="13.2" fill="#a4cde4"/>
<rect x="491.70" y="413.75" width="4.80" height="13.2" fill="#c8002a"/>
<rect x="394.90" y="428.70" width="93.60" height="13.2" fill="#bfbfbf"/>
<rect x="488.50" y="428.70" width="6.90" height="13.2" fill="#a4cde4"/>
<rect x="495.40" y="428.70" width="1.10" height="13.2" fill="#8a3f78"/>
<rect x="394.90" y="443.65" width="94.50" height="13.2" fill="#bfbfbf"/>
<rect x="489.40" y="443.65" width="6.00" height="13.2" fill="#a4cde4"/>
<rect x="495.40" y="443.65" width="1.10" height="13.2" fill="#8a3f78"/>
<path d="M394.9,395.8 V459.7 H499.8" fill="none" stroke="#111" stroke-width="1.3"/>
<path d="M391.29999999999995,405.40 H394.9" stroke="#111" stroke-width="1"/>
<text x="387.94" y="407.78" font-size="6.8" text-anchor="end" fill="#231f20" textLength="33.32" lengthAdjust="spacingAndGlyphs" stroke="#231f20" stroke-width="0.08">Monocytes</text>
<path d="M391.29999999999995,420.35 H394.9" stroke="#111" stroke-width="1"/>
<text x="387.94" y="422.73" font-size="6.8" text-anchor="end" fill="#231f20" textLength="25.32" lengthAdjust="spacingAndGlyphs" stroke="#231f20" stroke-width="0.08">NK cells</text>
<path d="M391.29999999999995,435.30 H394.9" stroke="#111" stroke-width="1"/>
<text x="387.94" y="437.68" font-size="6.8" text-anchor="end" fill="#231f20" textLength="40.52" lengthAdjust="spacingAndGlyphs" stroke="#231f20" stroke-width="0.08">CD8+ T cells</text>
<path d="M391.29999999999995,450.25 H394.9" stroke="#111" stroke-width="1"/>
<text x="387.94" y="452.63" font-size="6.8" text-anchor="end" fill="#231f20" textLength="40.52" lengthAdjust="spacingAndGlyphs" stroke="#231f20" stroke-width="0.08">CD4+ T cells</text>
<path d="M394.90,459.7 V462.7" stroke="#111" stroke-width="1"/>
<text x="394.90" y="472.00" font-size="6.9" text-anchor="middle" fill="#333" textLength="11.33" lengthAdjust="spacingAndGlyphs" stroke="#333" stroke-width="0.08">0%</text>
<path d="M420.30,459.7 V462.7" stroke="#111" stroke-width="1"/>
<text x="420.30" y="472.00" font-size="6.9" text-anchor="middle" fill="#333" textLength="14.33" lengthAdjust="spacingAndGlyphs" stroke="#333" stroke-width="0.08">25%</text>
<path d="M445.70,459.7 V462.7" stroke="#111" stroke-width="1"/>
<text x="445.70" y="472.00" font-size="6.9" text-anchor="middle" fill="#333" textLength="14.33" lengthAdjust="spacingAndGlyphs" stroke="#333" stroke-width="0.08">50%</text>
<path d="M471.10,459.7 V462.7" stroke="#111" stroke-width="1"/>
<text x="471.10" y="472.00" font-size="6.9" text-anchor="middle" fill="#333" textLength="14.33" lengthAdjust="spacingAndGlyphs" stroke="#333" stroke-width="0.08">75%</text>
<path d="M496.50,459.7 V462.7" stroke="#111" stroke-width="1"/>
<text x="496.50" y="472.00" font-size="6.9" text-anchor="middle" fill="#333" textLength="17.33" lengthAdjust="spacingAndGlyphs" stroke="#333" stroke-width="0.08">100%</text>
<text x="449.50" y="485.00" font-size="8.6" text-anchor="middle" fill="#1a1a1a" textLength="51.73" lengthAdjust="spacingAndGlyphs" stroke="#1a1a1a" stroke-width="0.25">Proportion of cells</text>
<text x="7.40" y="508.50" font-size="13" text-anchor="start" font-weight="bold" fill="#000">H</text>
<text x="31.01" y="512.70" font-size="9.75" text-anchor="start" fill="#231f20" textLength="117.77" lengthAdjust="spacingAndGlyphs" stroke="#231f20" stroke-width="0.12">TET2 indicated by 7754G&gt;C</text>
<g fill="#c9c9c9"><circle cx="118.8" cy="558.9" r="0.72"/><circle cx="108.2" cy="535.0" r="0.72"/><circle cx="116.5" cy="557.8" r="0.72"/><circle cx="116.6" cy="562.9" r="0.72"/><circle cx="115.8" cy="534.7" r="0.72"/><circle cx="102.0" cy="539.3" r="0.72"/><circle cx="105.6" cy="530.7" r="0.72"/><circle cx="114.2" cy="546.5" r="0.72"/><circle cx="116.4" cy="539.1" r="0.72"/><circle cx="104.9" cy="555.5" r="0.72"/><circle cx="114.3" cy="561.3" r="0.72"/><circle cx="115.4" cy="548.6" r="0.72"/><circle cx="104.7" cy="548.4" r="0.72"/><circle cx="94.0" cy="529.5" r="0.72"/><circle cx="101.6" cy="530.6" r="0.72"/><circle cx="115.2" cy="550.4" r="0.72"/><circle cx="118.3" cy="550.5" r="0.72"/><circle cx="104.3" cy="536.4" r="0.72"/><circle cx="112.0" cy="563.1" r="0.72"/><circle cx="97.1" cy="536.2" r="0.72"/><circle cx="108.0" cy="528.0" r="0.72"/><circle cx="107.1" cy="562.2" r="0.72"/><circle cx="110.2" cy="551.2" r="0.72"/><circle cx="110.5" cy="557.2" r="0.72"/><circle cx="123.3" cy="557.5" r="0.72"/><circle cx="95.6" cy="530.1" r="0.72"/><circle cx="99.9" cy="535.4" r="0.72"/><circle cx="103.2" cy="538.6" r="0.72"/><circle cx="115.4" cy="545.4" r="0.72"/><circle cx="107.7" cy="548.2" r="0.72"/><circle cx="111.5" cy="552.7" r="0.72"/><circle cx="111.9" cy="550.5" r="0.72"/><circle cx="103.7" cy="528.4" r="0.72"/><circle cx="119.5" cy="562.0" r="0.72"/><circle cx="118.0" cy="559.1" r="0.72"/><circle cx="113.3" cy="535.0" r="0.72"/><circle cx="103.9" cy="529.6" r="0.72"/><circle cx="95.9" cy="536.8" r="0.72"/><circle cx="112.2" cy="551.2" r="0.72"/><circle cx="108.5" cy="559.9" r="0.72"/><circle cx="115.9" cy="534.0" r="0.72"/><circle cx="108.8" cy="532.4" r="0.72"/><circle cx="99.3" cy="531.5" r="0.72"/><circle cx="120.2" cy="552.0" r="0.72"/><circle cx="94.3" cy="534.4" r="0.72"/><circle cx="110.7" cy="546.9" r="0.72"/><circle cx="109.8" cy="549.8" r="0.72"/><circle cx="108.7" cy="539.3" r="0.72"/><circle cx="105.2" cy="547.3" r="0.72"/><circle cx="116.4" cy="547.3" r="0.72"/><circle cx="114.7" cy="551.3" r="0.72"/><circle cx="116.1" cy="534.3" r="0.72"/><circle cx="109.9" cy="543.3" r="0.72"/><circle cx="107.4" cy="542.8" r="0.72"/><circle cx="114.4" cy="554.7" r="0.72"/><circle cx="113.2" cy="545.5" r="0.72"/><circle cx="103.1" cy="526.6" r="0.72"/><circle cx="106.7" cy="547.0" r="0.72"/><circle cx="101.5" cy="529.8" r="0.72"/><circle cx="107.2" cy="528.4" r="0.72"/><circle cx="108.7" cy="541.2" r="0.72"/><circle cx="109.6" cy="564.6" r="0.72"/><circle cx="100.6" cy="539.7" r="0.72"/><circle cx="107.5" cy="557.6" r="0.72"/><circle cx="104.4" cy="541.1" r="0.72"/><circle cx="110.1" cy="564.3" r="0.72"/><circle cx="112.3" cy="549.5" r="0.72"/><circle cx="108.8" cy="549.0" r="0.72"/><circle cx="103.6" cy="551.4" r="0.72"/><circle cx="103.4" cy="536.7" r="0.72"/><circle cx="116.9" cy="554.3" r="0.72"/><circle cx="117.9" cy="544.6" r="0.72"/><circle cx="99.9" cy="531.7" r="0.72"/><circle cx="107.6" cy="527.6" r="0.72"/><circle cx="110.1" cy="560.3" r="0.72"/><circle cx="106.7" cy="529.9" r="0.72"/><circle cx="114.9" cy="546.1" r="0.72"/><circle cx="111.2" cy="560.2" r="0.72"/><circle cx="122.4" cy="549.5" r="0.72"/><circle cx="96.8" cy="535.3" r="0.72"/><circle cx="110.4" cy="544.1" r="0.72"/><circle cx="106.7" cy="531.3" r="0.72"/><circle cx="114.8" cy="547.2" r="0.72"/><circle cx="108.3" cy="557.2" r="0.72"/><circle cx="97.5" cy="536.8" r="0.72"/><circle cx="111.3" cy="529.4" r="0.72"/><circle cx="115.8" cy="542.6" r="0.72"/><circle cx="93.0" cy="529.1" r="0.72"/><circle cx="108.2" cy="547.3" r="0.72"/><circle cx="106.0" cy="538.8" r="0.72"/><circle cx="118.4" cy="553.4" r="0.72"/><circle cx="95.4" cy="529.9" r="0.72"/><circle cx="112.1" cy="564.5" r="0.72"/><circle cx="116.2" cy="544.6" r="0.72"/><circle cx="95.3" cy="534.3" r="0.72"/><circle cx="111.7" cy="560.1" r="0.72"/><circle cx="120.6" cy="548.2" r="0.72"/><circle cx="111.2" cy="550.3" r="0.72"/><circle cx="116.5" cy="546.4" r="0.72"/><circle cx="95.2" cy="534.5" r="0.72"/><circle cx="95.0" cy="535.7" r="0.72"/><circle cx="117.3" cy="547.6" r="0.72"/><circle cx="110.3" cy="535.2" r="0.72"/><circle cx="109.8" cy="560.0" r="0.72"/><circle cx="112.2" cy="532.9" r="0.72"/><circle cx="110.4" cy="538.5" r="0.72"/><circle cx="106.8" cy="554.3" r="0.72"/><circle cx="118.1" cy="544.4" r="0.72"/><circle cx="111.9" cy="537.2" r="0.72"/><circle cx="108.8" cy="534.6" r="0.72"/><circle cx="116.3" cy="545.7" r="0.72"/><circle cx="103.0" cy="535.8" r="0.72"/><circle cx="118.6" cy="561.9" r="0.72"/><circle cx="113.5" cy="539.1" r="0.72"/><circle cx="105.8" cy="553.1" r="0.72"/><circle cx="117.0" cy="553.0" r="0.72"/><circle cx="110.5" cy="529.8" r="0.72"/><circle cx="98.5" cy="535.9" r="0.72"/><circle cx="110.1" cy="562.8" r="0.72"/><circle cx="109.5" cy="562.5" r="0.72"/><circle cx="106.7" cy="546.4" r="0.72"/><circle cx="108.0" cy="544.7" r="0.72"/><circle cx="121.5" cy="556.3" r="0.72"/><circle cx="114.2" cy="549.6" r="0.72"/><circle cx="112.6" cy="545.7" r="0.72"/><circle cx="118.6" cy="549.8" r="0.72"/><circle cx="92.9" cy="530.6" r="0.72"/><circle cx="120.8" cy="547.5" r="0.72"/><circle cx="121.5" cy="560.4" r="0.72"/><circle cx="112.4" cy="558.0" r="0.72"/><circle cx="117.8" cy="539.3" r="0.72"/><circle cx="122.4" cy="550.4" r="0.72"/><circle cx="110.2" cy="532.9" r="0.72"/><circle cx="102.3" cy="531.6" r="0.72"/><circle cx="106.5" cy="527.5" r="0.72"/><circle cx="112.8" cy="551.6" r="0.72"/><circle cx="120.8" cy="556.5" r="0.72"/><circle cx="109.1" cy="563.2" r="0.72"/><circle cx="107.4" cy="528.9" r="0.72"/><circle cx="114.3" cy="532.6" r="0.72"/><circle cx="102.1" cy="552.2" r="0.72"/><circle cx="114.5" cy="544.1" r="0.72"/><circle cx="114.7" cy="534.8" r="0.72"/><circle cx="101.4" cy="529.0" r="0.72"/><circle cx="107.3" cy="560.6" r="0.72"/><circle cx="114.3" cy="550.6" r="0.72"/><circle cx="107.1" cy="552.3" r="0.72"/><circle cx="108.4" cy="533.0" r="0.72"/><circle cx="109.9" cy="546.1" r="0.72"/><circle cx="114.5" cy="545.4" r="0.72"/><circle cx="103.9" cy="547.8" r="0.72"/><circle cx="120.9" cy="551.9" r="0.72"/><circle cx="112.6" cy="549.9" r="0.72"/><circle cx="115.5" cy="536.3" r="0.72"/><circle cx="118.5" cy="547.4" r="0.72"/><circle cx="116.0" cy="559.4" r="0.72"/><circle cx="103.2" cy="528.7" r="0.72"/><circle cx="119.9" cy="553.2" r="0.72"/><circle cx="107.4" cy="547.5" r="0.72"/><circle cx="103.1" cy="553.2" r="0.72"/><circle cx="108.8" cy="545.6" r="0.72"/><circle cx="99.9" cy="534.6" r="0.72"/><circle cx="113.2" cy="539.3" r="0.72"/><circle cx="108.2" cy="529.8" r="0.72"/><circle cx="103.1" cy="528.6" r="0.72"/><circle cx="107.8" cy="564.1" r="0.72"/><circle cx="116.2" cy="540.2" r="0.72"/><circle cx="122.3" cy="551.6" r="0.72"/><circle cx="104.1" cy="542.7" r="0.72"/><circle cx="111.2" cy="546.8" r="0.72"/><circle cx="119.6" cy="561.6" r="0.72"/><circle cx="102.1" cy="525.9" r="0.72"/><circle cx="116.7" cy="551.6" r="0.72"/><circle cx="109.7" cy="555.3" r="0.72"/><circle cx="117.1" cy="563.7" r="0.72"/><circle cx="114.7" cy="547.6" r="0.72"/><circle cx="118.2" cy="558.0" r="0.72"/><circle cx="111.9" cy="552.5" r="0.72"/><circle cx="116.8" cy="537.3" r="0.72"/><circle cx="103.1" cy="541.2" r="0.72"/><circle cx="119.2" cy="547.0" r="0.72"/><circle cx="111.9" cy="543.3" r="0.72"/><circle cx="107.0" cy="531.3" r="0.72"/><circle cx="117.4" cy="543.0" r="0.72"/><circle cx="96.2" cy="536.1" r="0.72"/><circle cx="105.2" cy="556.0" r="0.72"/><circle cx="105.6" cy="542.4" r="0.72"/><circle cx="104.5" cy="546.5" r="0.72"/><circle cx="97.7" cy="530.9" r="0.72"/><circle cx="109.3" cy="539.7" r="0.72"/><circle cx="113.4" cy="540.2" r="0.72"/><circle cx="105.5" cy="538.4" r="0.72"/><circle cx="108.8" cy="536.9" r="0.72"/><circle cx="113.2" cy="542.1" r="0.72"/><circle cx="114.4" cy="537.3" r="0.72"/><circle cx="106.3" cy="548.0" r="0.72"/><circle cx="114.8" cy="551.8" r="0.72"/><circle cx="105.4" cy="529.1" r="0.72"/><circle cx="95.1" cy="531.5" r="0.72"/><circle cx="97.5" cy="533.0" r="0.72"/><circle cx="112.9" cy="539.3" r="0.72"/><circle cx="99.5" cy="533.0" r="0.72"/><circle cx="110.2" cy="535.7" r="0.72"/><circle cx="117.8" cy="552.8" r="0.72"/><circle cx="105.4" cy="550.0" r="0.72"/><circle cx="112.8" cy="543.3" r="0.72"/><circle cx="116.6" cy="560.3" r="0.72"/><circle cx="103.6" cy="540.6" r="0.72"/><circle cx="108.1" cy="535.7" r="0.72"/><circle cx="98.3" cy="530.8" r="0.72"/><circle cx="113.8" cy="546.1" r="0.72"/><circle cx="119.8" cy="550.4" r="0.72"/><circle cx="111.6" cy="543.1" r="0.72"/><circle cx="105.3" cy="531.5" r="0.72"/><circle cx="109.3" cy="536.6" r="0.72"/><circle cx="110.1" cy="560.8" r="0.72"/><circle cx="109.5" cy="538.7" r="0.72"/><circle cx="108.4" cy="558.5" r="0.72"/><circle cx="98.1" cy="533.1" r="0.72"/><circle cx="114.4" cy="545.6" r="0.72"/><circle cx="109.5" cy="542.5" r="0.72"/><circle cx="120.1" cy="548.9" r="0.72"/><circle cx="102.7" cy="537.0" r="0.72"/><circle cx="111.0" cy="547.8" r="0.72"/><circle cx="98.0" cy="526.9" r="0.72"/><circle cx="92.2" cy="532.2" r="0.72"/><circle cx="112.7" cy="550.2" r="0.72"/><circle cx="123.6" cy="552.1" r="0.72"/><circle cx="118.6" cy="544.7" r="0.72"/><circle cx="111.5" cy="554.2" r="0.72"/><circle cx="113.6" cy="541.6" r="0.72"/><circle cx="120.5" cy="558.8" r="0.72"/><circle cx="116.2" cy="549.7" r="0.72"/><circle cx="113.5" cy="559.4" r="0.72"/><circle cx="117.5" cy="543.9" r="0.72"/><circle cx="112.7" cy="547.3" r="0.72"/><circle cx="98.8" cy="531.0" r="0.72"/><circle cx="115.9" cy="552.8" r="0.72"/><circle cx="104.8" cy="549.6" r="0.72"/><circle cx="109.4" cy="563.7" r="0.72"/><circle cx="107.9" cy="547.3" r="0.72"/><circle cx="106.5" cy="542.2" r="0.72"/><circle cx="113.9" cy="562.9" r="0.72"/><circle cx="116.2" cy="547.4" r="0.72"/><circle cx="103.0" cy="529.5" r="0.72"/><circle cx="120.0" cy="560.4" r="0.72"/><circle cx="117.7" cy="544.9" r="0.72"/><circle cx="115.0" cy="543.6" r="0.72"/><circle cx="104.2" cy="542.5" r="0.72"/><circle cx="114.4" cy="540.1" r="0.72"/><circle cx="113.0" cy="545.4" r="0.72"/><circle cx="93.6" cy="533.9" r="0.72"/><circle cx="97.1" cy="537.9" r="0.72"/><circle cx="109.3" cy="538.0" r="0.72"/><circle cx="115.6" cy="550.4" r="0.72"/><circle cx="121.0" cy="550.0" r="0.72"/><circle cx="97.4" cy="533.1" r="0.72"/><circle cx="114.3" cy="558.2" r="0.72"/><circle cx="119.8" cy="548.1" r="0.72"/><circle cx="115.6" cy="556.3" r="0.72"/><circle cx="108.7" cy="552.4" r="0.72"/><circle cx="96.7" cy="538.2" r="0.72"/><circle cx="98.0" cy="527.0" r="0.72"/><circle cx="109.8" cy="546.8" r="0.72"/><circle cx="97.0" cy="538.5" r="0.72"/><circle cx="98.6" cy="533.5" r="0.72"/><circle cx="111.4" cy="538.6" r="0.72"/><circle cx="116.4" cy="548.6" r="0.72"/><circle cx="118.9" cy="546.0" r="0.72"/><circle cx="112.0" cy="535.2" r="0.72"/><circle cx="114.1" cy="541.9" r="0.72"/><circle cx="114.9" cy="549.1" r="0.72"/><circle cx="96.0" cy="537.7" r="0.72"/><circle cx="112.0" cy="547.5" r="0.72"/><circle cx="114.7" cy="538.8" r="0.72"/><circle cx="107.0" cy="544.8" r="0.72"/><circle cx="108.0" cy="536.0" r="0.72"/><circle cx="110.6" cy="536.0" r="0.72"/><circle cx="98.2" cy="534.9" r="0.72"/><circle cx="120.0" cy="555.2" r="0.72"/><circle cx="111.9" cy="530.1" r="0.72"/><circle cx="108.3" cy="545.5" r="0.72"/><circle cx="113.2" cy="537.2" r="0.72"/><circle cx="121.0" cy="550.6" r="0.72"/><circle cx="114.5" cy="560.2" r="0.72"/><circle cx="117.5" cy="553.2" r="0.72"/><circle cx="106.6" cy="561.9" r="0.72"/><circle cx="115.3" cy="552.6" r="0.72"/><circle cx="104.5" cy="545.7" r="0.72"/><circle cx="108.0" cy="534.3" r="0.72"/><circle cx="118.9" cy="553.6" r="0.72"/><circle cx="113.8" cy="546.1" r="0.72"/><circle cx="110.1" cy="552.4" r="0.72"/><circle cx="106.6" cy="528.7" r="0.72"/><circle cx="117.4" cy="560.5" r="0.72"/><circle cx="113.5" cy="533.3" r="0.72"/><circle cx="114.5" cy="538.4" r="0.72"/><circle cx="108.6" cy="528.7" r="0.72"/><circle cx="118.5" cy="557.2" r="0.72"/><circle cx="110.3" cy="553.4" r="0.72"/><circle cx="102.5" cy="530.7" r="0.72"/><circle cx="109.7" cy="531.0" r="0.72"/><circle cx="106.1" cy="531.0" r="0.72"/><circle cx="115.8" cy="557.5" r="0.72"/><circle cx="101.7" cy="551.8" r="0.72"/><circle cx="120.1" cy="553.3" r="0.72"/><circle cx="114.9" cy="546.0" r="0.72"/><circle cx="110.9" cy="557.2" r="0.72"/><circle cx="116.7" cy="552.7" r="0.72"/><circle cx="108.9" cy="549.3" r="0.72"/><circle cx="100.4" cy="533.0" r="0.72"/><circle cx="93.7" cy="535.6" r="0.72"/><circle cx="113.6" cy="531.8" r="0.72"/><circle cx="94.4" cy="530.5" r="0.72"/><circle cx="117.6" cy="559.5" r="0.72"/><circle cx="112.6" cy="537.7" r="0.72"/><circle cx="113.3" cy="534.9" r="0.72"/><circle cx="106.9" cy="534.1" r="0.72"/><circle cx="119.7" cy="551.0" r="0.72"/><circle cx="113.9" cy="550.6" r="0.72"/><circle cx="116.8" cy="546.3" r="0.72"/><circle cx="110.6" cy="545.4" r="0.72"/><circle cx="116.0" cy="547.0" r="0.72"/><circle cx="108.4" cy="560.6" r="0.72"/><circle cx="114.8" cy="534.0" r="0.72"/><circle cx="108.0" cy="549.1" r="0.72"/><circle cx="110.3" cy="544.1" r="0.72"/><circle cx="108.0" cy="553.3" r="0.72"/><circle cx="116.9" cy="552.9" r="0.72"/><circle cx="95.4" cy="536.0" r="0.72"/><circle cx="101.7" cy="539.8" r="0.72"/><circle cx="107.4" cy="537.4" r="0.72"/><circle cx="123.8" cy="555.1" r="0.72"/><circle cx="103.5" cy="553.7" r="0.72"/><circle cx="111.9" cy="564.1" r="0.72"/><circle cx="117.5" cy="538.5" r="0.72"/><circle cx="105.0" cy="539.7" r="0.72"/><circle cx="106.5" cy="554.9" r="0.72"/><circle cx="103.5" cy="525.9" r="0.72"/><circle cx="98.0" cy="539.3" r="0.72"/><circle cx="104.8" cy="535.5" r="0.72"/><circle cx="113.7" cy="538.8" r="0.72"/><circle cx="115.9" cy="560.9" r="0.72"/><circle cx="101.0" cy="536.2" r="0.72"/><circle cx="114.1" cy="531.5" r="0.72"/><circle cx="122.8" cy="551.9" r="0.72"/><circle cx="110.7" cy="528.7" r="0.72"/><circle cx="123.0" cy="555.6" r="0.72"/><circle cx="117.8" cy="555.7" r="0.72"/><circle cx="97.3" cy="535.3" r="0.72"/><circle cx="94.1" cy="533.2" r="0.72"/><circle cx="117.1" cy="537.1" r="0.72"/><circle cx="117.1" cy="547.5" r="0.72"/><circle cx="117.4" cy="539.1" r="0.72"/><circle cx="92.9" cy="529.6" r="0.72"/><circle cx="114.9" cy="546.0" r="0.72"/><circle cx="116.2" cy="533.6" r="0.72"/><circle cx="100.5" cy="534.1" r="0.72"/><circle cx="119.1" cy="553.9" r="0.72"/><circle cx="114.8" cy="553.1" r="0.72"/><circle cx="97.9" cy="527.3" r="0.72"/><circle cx="112.2" cy="553.5" r="0.72"/><circle cx="108.3" cy="551.8" r="0.72"/><circle cx="121.5" cy="551.7" r="0.72"/><circle cx="108.2" cy="556.5" r="0.72"/><circle cx="109.2" cy="542.2" r="0.72"/><circle cx="102.4" cy="541.4" r="0.72"/><circle cx="98.7" cy="538.1" r="0.72"/><circle cx="115.7" cy="561.2" r="0.72"/><circle cx="106.3" cy="559.6" r="0.72"/><circle cx="115.6" cy="557.0" r="0.72"/><circle cx="104.0" cy="532.4" r="0.72"/><circle cx="122.6" cy="550.1" r="0.72"/><circle cx="112.7" cy="539.5" r="0.72"/><circle cx="113.0" cy="556.0" r="0.72"/><circle cx="110.0" cy="555.9" r="0.72"/><circle cx="110.3" cy="549.6" r="0.72"/><circle cx="97.6" cy="529.3" r="0.72"/><circle cx="114.4" cy="554.8" r="0.72"/><circle cx="113.1" cy="535.8" r="0.72"/><circle cx="107.3" cy="556.5" r="0.72"/><circle cx="112.3" cy="562.2" r="0.72"/><circle cx="108.8" cy="528.6" r="0.72"/><circle cx="105.1" cy="552.5" r="0.72"/><circle cx="108.0" cy="557.6" r="0.72"/><circle cx="98.3" cy="531.4" r="0.72"/><circle cx="114.4" cy="563.3" r="0.72"/><circle cx="109.6" cy="563.9" r="0.72"/><circle cx="105.3" cy="552.0" r="0.72"/><circle cx="92.2" cy="530.9" r="0.72"/><circle cx="104.6" cy="529.3" r="0.72"/><circle cx="107.0" cy="540.6" r="0.72"/><circle cx="97.3" cy="528.6" r="0.72"/><circle cx="109.4" cy="564.2" r="0.72"/><circle cx="109.0" cy="540.0" r="0.72"/><circle cx="123.2" cy="554.0" r="0.72"/><circle cx="111.1" cy="535.9" r="0.72"/><circle cx="105.6" cy="546.8" r="0.72"/><circle cx="103.8" cy="548.3" r="0.72"/><circle cx="107.9" cy="555.9" r="0.72"/><circle cx="117.8" cy="555.2" r="0.72"/><circle cx="103.9" cy="554.2" r="0.72"/><circle cx="111.4" cy="559.4" r="0.72"/><circle cx="116.8" cy="551.7" r="0.72"/><circle cx="111.1" cy="553.2" r="0.72"/><circle cx="113.3" cy="543.3" r="0.72"/><circle cx="105.1" cy="544.4" r="0.72"/><circle cx="95.5" cy="528.6" r="0.72"/><circle cx="100.6" cy="532.6" r="0.72"/><circle cx="119.9" cy="548.2" r="0.72"/><circle cx="120.6" cy="561.6" r="0.72"/><circle cx="114.5" cy="543.6" r="0.72"/><circle cx="108.5" cy="548.3" r="0.72"/><circle cx="107.2" cy="556.2" r="0.72"/><circle cx="121.4" cy="550.7" r="0.72"/><circle cx="114.0" cy="547.7" r="0.72"/><circle cx="93.5" cy="532.9" r="0.72"/><circle cx="98.9" cy="534.3" r="0.72"/><circle cx="112.1" cy="562.8" r="0.72"/><circle cx="110.4" cy="545.2" r="0.72"/><circle cx="117.8" cy="557.5" r="0.72"/><circle cx="107.4" cy="545.7" r="0.72"/><circle cx="107.4" cy="543.8" r="0.72"/><circle cx="104.7" cy="545.5" r="0.72"/><circle cx="108.3" cy="532.3" r="0.72"/><circle cx="107.2" cy="534.4" r="0.72"/><circle cx="95.5" cy="535.4" r="0.72"/><circle cx="115.3" cy="548.7" r="0.72"/><circle cx="95.7" cy="537.1" r="0.72"/><circle cx="115.9" cy="544.6" r="0.72"/><circle cx="98.2" cy="535.8" r="0.72"/><circle cx="110.8" cy="546.4" r="0.72"/><circle cx="116.6" cy="546.9" r="0.72"/><circle cx="101.7" cy="552.5" r="0.72"/><circle cx="107.3" cy="531.2" r="0.72"/><circle cx="115.7" cy="542.9" r="0.72"/><circle cx="118.7" cy="552.5" r="0.72"/><circle cx="110.8" cy="564.8" r="0.72"/><circle cx="117.5" cy="539.2" r="0.72"/><circle cx="121.7" cy="552.2" r="0.72"/><circle cx="122.2" cy="550.0" r="0.72"/><circle cx="115.7" cy="549.6" r="0.72"/><circle cx="98.7" cy="528.8" r="0.72"/><circle cx="115.6" cy="543.7" r="0.72"/><circle cx="100.1" cy="536.1" r="0.72"/><circle cx="119.9" cy="550.5" r="0.72"/><circle cx="115.7" cy="558.4" r="0.72"/><circle cx="105.6" cy="543.7" r="0.72"/><circle cx="105.5" cy="540.0" r="0.72"/><circle cx="116.7" cy="561.2" r="0.72"/><circle cx="113.7" cy="556.8" r="0.72"/><circle cx="114.8" cy="538.5" r="0.72"/><circle cx="116.1" cy="559.5" r="0.72"/><circle cx="105.6" cy="536.6" r="0.72"/><circle cx="103.7" cy="546.8" r="0.72"/><circle cx="108.6" cy="537.4" r="0.72"/><circle cx="114.7" cy="553.5" r="0.72"/><circle cx="92.1" cy="530.8" r="0.72"/><circle cx="108.4" cy="534.7" r="0.72"/><circle cx="112.7" cy="546.0" r="0.72"/><circle cx="108.9" cy="559.4" r="0.72"/><circle cx="112.3" cy="563.4" r="0.72"/><circle cx="113.6" cy="562.4" r="0.72"/><circle cx="116.0" cy="541.3" r="0.72"/><circle cx="108.5" cy="557.1" r="0.72"/><circle cx="109.9" cy="554.5" r="0.72"/><circle cx="102.6" cy="550.0" r="0.72"/><circle cx="115.3" cy="540.9" r="0.72"/><circle cx="113.6" cy="561.9" r="0.72"/><circle cx="103.5" cy="546.8" r="0.72"/><circle cx="107.2" cy="559.3" r="0.72"/><circle cx="100.2" cy="537.1" r="0.72"/><circle cx="104.2" cy="551.8" r="0.72"/><circle cx="107.8" cy="555.0" r="0.72"/><circle cx="104.9" cy="526.7" r="0.72"/><circle cx="104.0" cy="548.6" r="0.72"/><circle cx="110.5" cy="544.1" r="0.72"/><circle cx="102.4" cy="551.7" r="0.72"/><circle cx="113.8" cy="546.4" r="0.72"/><circle cx="115.8" cy="550.6" r="0.72"/><circle cx="107.2" cy="556.1" r="0.72"/><circle cx="118.2" cy="543.5" r="0.72"/><circle cx="106.2" cy="545.6" r="0.72"/><circle cx="103.6" cy="534.8" r="0.72"/><circle cx="113.9" cy="550.8" r="0.72"/><circle cx="98.8" cy="532.5" r="0.72"/><circle cx="105.9" cy="537.0" r="0.72"/><circle cx="113.3" cy="561.2" r="0.72"/><circle cx="103.3" cy="554.8" r="0.72"/><circle cx="105.1" cy="551.5" r="0.72"/><circle cx="120.1" cy="561.2" r="0.72"/><circle cx="96.0" cy="532.3" r="0.72"/><circle cx="120.7" cy="553.6" r="0.72"/><circle cx="115.4" cy="557.5" r="0.72"/><circle cx="111.6" cy="540.3" r="0.72"/><circle cx="105.4" cy="543.4" r="0.72"/><circle cx="105.2" cy="557.8" r="0.72"/><circle cx="123.0" cy="556.0" r="0.72"/><circle cx="114.3" cy="558.9" r="0.72"/><circle cx="108.7" cy="541.2" r="0.72"/><circle cx="113.3" cy="552.7" r="0.72"/><circle cx="107.3" cy="529.3" r="0.72"/><circle cx="118.4" cy="556.2" r="0.72"/><circle cx="107.0" cy="548.2" r="0.72"/><circle cx="117.5" cy="545.5" r="0.72"/><circle cx="106.9" cy="545.1" r="0.72"/><circle cx="115.4" cy="555.2" r="0.72"/><circle cx="103.7" cy="552.7" r="0.72"/><circle cx="122.0" cy="556.9" r="0.72"/><circle cx="103.9" cy="539.7" r="0.72"/><circle cx="105.5" cy="549.9" r="0.72"/><circle cx="120.4" cy="548.6" r="0.72"/><circle cx="123.8" cy="554.7" r="0.72"/><circle cx="114.8" cy="555.9" r="0.72"/><circle cx="105.1" cy="530.3" r="0.72"/><circle cx="119.2" cy="560.9" r="0.72"/><circle cx="114.9" cy="534.3" r="0.72"/><circle cx="107.7" cy="546.3" r="0.72"/><circle cx="111.8" cy="564.8" r="0.72"/><circle cx="116.5" cy="540.9" r="0.72"/><circle cx="110.9" cy="548.2" r="0.72"/><circle cx="115.5" cy="537.7" r="0.72"/><circle cx="113.5" cy="540.5" r="0.72"/><circle cx="116.8" cy="545.4" r="0.72"/><circle cx="112.4" cy="559.0" r="0.72"/><circle cx="115.0" cy="559.0" r="0.72"/><circle cx="103.3" cy="542.5" r="0.72"/><circle cx="103.4" cy="539.4" r="0.72"/><circle cx="117.1" cy="548.1" r="0.72"/><circle cx="112.3" cy="537.6" r="0.72"/><circle cx="116.3" cy="560.7" r="0.72"/><circle cx="103.9" cy="545.7" r="0.72"/><circle cx="98.6" cy="535.7" r="0.72"/><circle cx="119.1" cy="551.4" r="0.72"/><circle cx="106.0" cy="551.3" r="0.72"/><circle cx="103.1" cy="548.7" r="0.72"/><circle cx="102.0" cy="536.2" r="0.72"/><circle cx="115.5" cy="540.1" r="0.72"/><circle cx="115.6" cy="555.7" r="0.72"/><circle cx="103.7" cy="526.9" r="0.72"/><circle cx="118.8" cy="547.8" r="0.72"/><circle cx="110.3" cy="553.2" r="0.72"/><circle cx="109.3" cy="562.1" r="0.72"/><circle cx="111.5" cy="542.0" r="0.72"/><circle cx="111.7" cy="542.2" r="0.72"/><circle cx="110.1" cy="559.0" r="0.72"/><circle cx="101.6" cy="535.7" r="0.72"/><circle cx="92.7" cy="529.9" r="0.72"/><circle cx="100.9" cy="540.6" r="0.72"/><circle cx="112.2" cy="539.8" r="0.72"/><circle cx="113.2" cy="531.6" r="0.72"/><circle cx="113.9" cy="532.0" r="0.72"/><circle cx="104.8" cy="527.8" r="0.72"/><circle cx="119.9" cy="562.2" r="0.72"/><circle cx="115.9" cy="551.2" r="0.72"/><circle cx="110.4" cy="546.1" r="0.72"/><circle cx="112.8" cy="545.6" r="0.72"/><circle cx="113.5" cy="564.4" r="0.72"/><circle cx="104.5" cy="534.0" r="0.72"/><circle cx="107.3" cy="533.1" r="0.72"/><circle cx="112.4" cy="552.8" r="0.72"/><circle cx="98.7" cy="534.9" r="0.72"/><circle cx="101.3" cy="538.8" r="0.72"/><circle cx="120.4" cy="560.7" r="0.72"/><circle cx="117.1" cy="541.4" r="0.72"/><circle cx="106.3" cy="533.7" r="0.72"/><circle cx="108.2" cy="557.8" r="0.72"/><circle cx="114.9" cy="555.5" r="0.72"/><circle cx="100.0" cy="535.7" r="0.72"/><circle cx="121.9" cy="554.6" r="0.72"/><circle cx="107.5" cy="540.1" r="0.72"/><circle cx="106.7" cy="557.4" r="0.72"/><circle cx="108.9" cy="549.2" r="0.72"/><circle cx="106.1" cy="558.5" r="0.72"/><circle cx="114.3" cy="558.5" r="0.72"/><circle cx="109.1" cy="549.1" r="0.72"/><circle cx="106.0" cy="532.0" r="0.72"/><circle cx="119.2" cy="548.0" r="0.72"/><circle cx="115.5" cy="555.3" r="0.72"/><circle cx="111.7" cy="562.3" r="0.72"/><circle cx="98.6" cy="526.7" r="0.72"/><circle cx="95.9" cy="532.6" r="0.72"/><circle cx="109.0" cy="543.9" r="0.72"/><circle cx="108.6" cy="535.8" r="0.72"/><circle cx="94.5" cy="527.9" r="0.72"/><circle cx="116.0" cy="545.0" r="0.72"/><circle cx="114.8" cy="562.1" r="0.72"/><circle cx="120.6" cy="559.7" r="0.72"/><circle cx="105.6" cy="546.2" r="0.72"/><circle cx="99.8" cy="526.9" r="0.72"/><circle cx="98.1" cy="531.3" r="0.72"/><circle cx="113.9" cy="543.0" r="0.72"/><circle cx="100.3" cy="527.5" r="0.72"/><circle cx="117.0" cy="549.5" r="0.72"/><circle cx="109.6" cy="563.5" r="0.72"/><circle cx="113.9" cy="554.9" r="0.72"/><circle cx="113.8" cy="556.2" r="0.72"/><circle cx="97.8" cy="529.4" r="0.72"/><circle cx="115.3" cy="542.8" r="0.72"/><circle cx="111.2" cy="560.2" r="0.72"/><circle cx="113.8" cy="551.6" r="0.72"/><circle cx="117.5" cy="558.2" r="0.72"/><circle cx="111.8" cy="558.6" r="0.72"/><circle cx="107.8" cy="563.4" r="0.72"/><circle cx="114.9" cy="548.5" r="0.72"/><circle cx="115.8" cy="547.5" r="0.72"/><circle cx="92.9" cy="534.5" r="0.72"/><circle cx="112.6" cy="530.3" r="0.72"/><circle cx="112.3" cy="539.5" r="0.72"/><circle cx="118.7" cy="555.7" r="0.72"/><circle cx="106.0" cy="547.2" r="0.72"/><circle cx="113.7" cy="532.2" r="0.72"/><circle cx="112.8" cy="565.1" r="0.72"/><circle cx="117.5" cy="544.6" r="0.72"/><circle cx="118.2" cy="563.3" r="0.72"/><circle cx="103.6" cy="553.9" r="0.72"/><circle cx="103.4" cy="532.3" r="0.72"/><circle cx="106.3" cy="531.3" r="0.72"/><circle cx="106.9" cy="529.6" r="0.72"/><circle cx="115.0" cy="534.2" r="0.72"/><circle cx="112.0" cy="551.5" r="0.72"/><circle cx="109.3" cy="550.4" r="0.72"/><circle cx="118.6" cy="550.4" r="0.72"/><circle cx="99.4" cy="539.0" r="0.72"/><circle cx="107.0" cy="546.2" r="0.72"/><circle cx="106.2" cy="537.3" r="0.72"/><circle cx="106.1" cy="527.7" r="0.72"/><circle cx="116.1" cy="533.5" r="0.72"/><circle cx="101.8" cy="528.7" r="0.72"/><circle cx="115.9" cy="545.9" r="0.72"/><circle cx="109.5" cy="549.6" r="0.72"/><circle cx="103.4" cy="555.3" r="0.72"/><circle cx="116.8" cy="553.5" r="0.72"/><circle cx="102.8" cy="550.4" r="0.72"/><circle cx="113.9" cy="544.1" r="0.72"/><circle cx="108.6" cy="559.4" r="0.72"/><circle cx="114.6" cy="542.3" r="0.72"/><circle cx="114.2" cy="548.3" r="0.72"/><circle cx="115.7" cy="563.7" r="0.72"/><circle cx="116.8" cy="540.5" r="0.72"/><circle cx="106.3" cy="549.2" r="0.72"/><circle cx="117.6" cy="542.3" r="0.72"/><circle cx="108.4" cy="531.4" r="0.72"/><circle cx="97.0" cy="537.3" r="0.72"/><circle cx="111.6" cy="541.5" r="0.72"/><circle cx="117.3" cy="547.5" r="0.72"/><circle cx="102.2" cy="526.5" r="0.72"/><circle cx="103.7" cy="552.6" r="0.72"/><circle cx="119.7" cy="558.9" r="0.72"/><circle cx="116.2" cy="536.8" r="0.72"/><circle cx="120.4" cy="552.6" r="0.72"/><circle cx="110.7" cy="542.0" r="0.72"/><circle cx="103.9" cy="541.9" r="0.72"/><circle cx="114.7" cy="543.4" r="0.72"/><circle cx="114.6" cy="560.8" r="0.72"/><circle cx="117.9" cy="541.9" r="0.72"/><circle cx="105.4" cy="549.7" r="0.72"/><circle cx="115.8" cy="535.9" r="0.72"/><circle cx="104.6" cy="542.3" r="0.72"/><circle cx="114.5" cy="537.1" r="0.72"/><circle cx="115.7" cy="545.9" r="0.72"/><circle cx="110.0" cy="534.9" r="0.72"/><circle cx="104.1" cy="548.1" r="0.72"/><circle cx="103.3" cy="532.9" r="0.72"/><circle cx="109.4" cy="547.5" r="0.72"/><circle cx="104.8" cy="550.8" r="0.72"/><circle cx="93.4" cy="533.6" r="0.72"/><circle cx="120.0" cy="549.7" r="0.72"/><circle cx="115.9" cy="541.3" r="0.72"/><circle cx="102.0" cy="553.3" r="0.72"/><circle cx="109.9" cy="562.3" r="0.72"/><circle cx="113.9" cy="562.1" r="0.72"/><circle cx="106.6" cy="557.3" r="0.72"/><circle cx="102.2" cy="553.5" r="0.72"/><circle cx="101.1" cy="533.1" r="0.72"/><circle cx="114.6" cy="562.3" r="0.72"/><circle cx="104.9" cy="528.2" r="0.72"/><circle cx="114.8" cy="545.3" r="0.72"/><circle cx="105.9" cy="526.8" r="0.72"/><circle cx="106.4" cy="561.0" r="0.72"/><circle cx="117.6" cy="547.1" r="0.72"/><circle cx="104.5" cy="547.1" r="0.72"/><circle cx="106.6" cy="537.2" r="0.72"/><circle cx="98.7" cy="536.9" r="0.72"/><circle cx="110.1" cy="550.7" r="0.72"/><circle cx="99.8" cy="539.9" r="0.72"/><circle cx="116.7" cy="544.9" r="0.72"/><circle cx="118.0" cy="543.1" r="0.72"/><circle cx="104.2" cy="551.3" r="0.72"/><circle cx="102.7" cy="547.8" r="0.72"/><circle cx="104.2" cy="539.4" r="0.72"/><circle cx="121.5" cy="553.4" r="0.72"/><circle cx="106.6" cy="540.3" r="0.72"/><circle cx="113.5" cy="532.7" r="0.72"/><circle cx="109.1" cy="536.4" r="0.72"/><circle cx="102.6" cy="547.8" r="0.72"/><circle cx="121.7" cy="553.5" r="0.72"/><circle cx="118.2" cy="548.4" r="0.72"/><circle cx="111.5" cy="531.2" r="0.72"/><circle cx="118.4" cy="551.3" r="0.72"/><circle cx="112.5" cy="537.8" r="0.72"/><circle cx="116.2" cy="546.8" r="0.72"/><circle cx="116.5" cy="552.9" r="0.72"/><circle cx="118.7" cy="553.6" r="0.72"/><circle cx="120.8" cy="552.6" r="0.72"/><circle cx="105.6" cy="545.7" r="0.72"/><circle cx="118.4" cy="549.5" r="0.72"/><circle cx="106.6" cy="557.9" r="0.72"/><circle cx="103.0" cy="550.0" r="0.72"/><circle cx="118.6" cy="544.4" r="0.72"/><circle cx="105.8" cy="526.8" r="0.72"/><circle cx="110.1" cy="534.5" r="0.72"/><circle cx="112.4" cy="551.3" r="0.72"/><circle cx="101.1" cy="529.7" r="0.72"/><circle cx="100.9" cy="534.2" r="0.72"/><circle cx="117.9" cy="557.6" r="0.72"/><circle cx="119.1" cy="551.0" r="0.72"/><circle cx="111.1" cy="542.7" r="0.72"/><circle cx="118.2" cy="547.1" r="0.72"/><circle cx="106.8" cy="533.1" r="0.72"/><circle cx="113.3" cy="559.1" r="0.72"/><circle cx="104.6" cy="556.4" r="0.72"/><circle cx="113.6" cy="547.1" r="0.72"/><circle cx="102.2" cy="526.3" r="0.72"/><circle cx="114.3" cy="532.3" r="0.72"/><circle cx="111.0" cy="546.7" r="0.72"/><circle cx="123.1" cy="555.7" r="0.72"/><circle cx="114.8" cy="540.8" r="0.72"/><circle cx="114.2" cy="553.7" r="0.72"/><circle cx="105.7" cy="544.4" r="0.72"/><circle cx="115.4" cy="553.2" r="0.72"/><circle cx="95.9" cy="527.5" r="0.72"/><circle cx="110.4" cy="528.9" r="0.72"/><circle cx="114.7" cy="547.6" r="0.72"/><circle cx="121.7" cy="558.5" r="0.72"/><circle cx="112.7" cy="558.9" r="0.72"/><circle cx="107.9" cy="537.3" r="0.72"/><circle cx="113.1" cy="551.0" r="0.72"/><circle cx="108.1" cy="543.9" r="0.72"/><circle cx="116.2" cy="561.6" r="0.72"/><circle cx="107.4" cy="541.2" r="0.72"/><circle cx="106.7" cy="535.5" r="0.72"/><circle cx="118.2" cy="563.4" r="0.72"/><circle cx="115.5" cy="547.6" r="0.72"/><circle cx="113.6" cy="536.1" r="0.72"/><circle cx="104.5" cy="528.2" r="0.72"/><circle cx="104.3" cy="555.8" r="0.72"/><circle cx="101.7" cy="533.0" r="0.72"/><circle cx="109.0" cy="561.6" r="0.72"/><circle cx="112.4" cy="530.0" r="0.72"/><circle cx="105.5" cy="534.8" r="0.72"/><circle cx="117.8" cy="542.4" r="0.72"/><circle cx="109.0" cy="551.7" r="0.72"/><circle cx="102.3" cy="550.9" r="0.72"/><circle cx="109.5" cy="554.8" r="0.72"/><circle cx="110.1" cy="553.6" r="0.72"/><circle cx="104.1" cy="531.5" r="0.72"/><circle cx="103.3" cy="538.7" r="0.72"/><circle cx="108.5" cy="544.9" r="0.72"/><circle cx="116.4" cy="544.2" r="0.72"/><circle cx="115.8" cy="546.2" r="0.72"/><circle cx="115.5" cy="545.5" r="0.72"/><circle cx="110.3" cy="542.5" r="0.72"/><circle cx="109.9" cy="548.1" r="0.72"/><circle cx="116.6" cy="535.8" r="0.72"/><circle cx="114.6" cy="536.9" r="0.72"/><circle cx="110.8" cy="556.8" r="0.72"/><circle cx="108.5" cy="535.4" r="0.72"/><circle cx="115.5" cy="532.8" r="0.72"/><circle cx="93.8" cy="534.9" r="0.72"/><circle cx="112.1" cy="541.8" r="0.72"/><circle cx="116.2" cy="554.8" r="0.72"/><circle cx="103.4" cy="549.3" r="0.72"/><circle cx="112.5" cy="535.1" r="0.72"/><circle cx="113.1" cy="531.2" r="0.72"/><circle cx="121.4" cy="552.5" r="0.72"/><circle cx="111.4" cy="540.8" r="0.72"/><circle cx="113.9" cy="556.2" r="0.72"/><circle cx="113.5" cy="534.4" r="0.72"/><circle cx="97.7" cy="535.4" r="0.72"/></g>
<g fill="#a9d2aa"><circle cx="101.9" cy="536.2" r="0.72"/><circle cx="96.9" cy="537.3" r="0.72"/><circle cx="95.1" cy="532.0" r="0.72"/><circle cx="99.2" cy="538.1" r="0.72"/><circle cx="95.3" cy="535.1" r="0.72"/><circle cx="101.8" cy="537.7" r="0.72"/><circle cx="99.7" cy="537.2" r="0.72"/><circle cx="99.0" cy="533.9" r="0.72"/><circle cx="94.1" cy="533.5" r="0.72"/><circle cx="92.5" cy="531.0" r="0.72"/><circle cx="94.2" cy="531.4" r="0.72"/><circle cx="98.4" cy="530.7" r="0.72"/><circle cx="99.4" cy="530.5" r="0.72"/><circle cx="102.5" cy="531.3" r="0.72"/><circle cx="102.3" cy="534.8" r="0.72"/><circle cx="102.1" cy="536.1" r="0.72"/><circle cx="96.2" cy="529.8" r="0.72"/><circle cx="101.8" cy="535.1" r="0.72"/><circle cx="95.8" cy="528.3" r="0.72"/><circle cx="95.1" cy="536.7" r="0.72"/><circle cx="100.1" cy="534.9" r="0.72"/><circle cx="98.7" cy="529.1" r="0.72"/><circle cx="101.1" cy="538.1" r="0.72"/><circle cx="97.8" cy="529.7" r="0.72"/><circle cx="92.9" cy="530.4" r="0.72"/><circle cx="102.7" cy="531.1" r="0.72"/><circle cx="95.1" cy="533.5" r="0.72"/><circle cx="100.6" cy="531.0" r="0.72"/><circle cx="100.9" cy="536.3" r="0.72"/><circle cx="98.6" cy="534.8" r="0.72"/><circle cx="98.4" cy="529.1" r="0.72"/><circle cx="100.6" cy="532.7" r="0.72"/><circle cx="100.6" cy="538.0" r="0.72"/><circle cx="96.0" cy="536.6" r="0.72"/><circle cx="95.7" cy="534.7" r="0.72"/><circle cx="94.8" cy="535.8" r="0.72"/><circle cx="95.1" cy="532.4" r="0.72"/><circle cx="100.0" cy="537.0" r="0.72"/><circle cx="93.5" cy="529.5" r="0.72"/><circle cx="99.4" cy="535.7" r="0.72"/><circle cx="100.9" cy="530.2" r="0.72"/><circle cx="95.9" cy="534.4" r="0.72"/><circle cx="94.3" cy="532.6" r="0.72"/><circle cx="99.5" cy="530.0" r="0.72"/><circle cx="99.3" cy="532.1" r="0.72"/><circle cx="99.2" cy="537.0" r="0.72"/><circle cx="99.5" cy="537.4" r="0.72"/><circle cx="99.3" cy="536.5" r="0.72"/><circle cx="101.2" cy="534.3" r="0.72"/><circle cx="97.8" cy="529.4" r="0.72"/><circle cx="94.6" cy="528.5" r="0.72"/><circle cx="93.2" cy="532.0" r="0.72"/><circle cx="95.2" cy="534.0" r="0.72"/><circle cx="101.1" cy="530.6" r="0.72"/><circle cx="101.8" cy="537.1" r="0.72"/><circle cx="94.1" cy="534.3" r="0.72"/><circle cx="94.4" cy="529.8" r="0.72"/><circle cx="100.9" cy="537.4" r="0.72"/><circle cx="96.1" cy="531.5" r="0.72"/><circle cx="99.7" cy="533.6" r="0.72"/><circle cx="95.6" cy="529.2" r="0.72"/><circle cx="94.5" cy="533.5" r="0.72"/><circle cx="94.9" cy="533.1" r="0.72"/><circle cx="97.5" cy="530.5" r="0.72"/><circle cx="93.3" cy="532.3" r="0.72"/><circle cx="97.9" cy="536.8" r="0.72"/><circle cx="98.3" cy="531.5" r="0.72"/><circle cx="102.2" cy="536.5" r="0.72"/><circle cx="97.3" cy="532.7" r="0.72"/><circle cx="101.2" cy="534.6" r="0.72"/><circle cx="98.1" cy="533.4" r="0.72"/><circle cx="101.8" cy="531.6" r="0.72"/><circle cx="93.4" cy="529.5" r="0.72"/><circle cx="94.7" cy="528.6" r="0.72"/><circle cx="100.8" cy="532.7" r="0.72"/><circle cx="97.7" cy="530.1" r="0.72"/><circle cx="101.8" cy="532.3" r="0.72"/><circle cx="96.5" cy="536.0" r="0.72"/><circle cx="97.3" cy="532.4" r="0.72"/><circle cx="101.1" cy="532.4" r="0.72"/></g>
<g fill="#a9d2aa"><circle cx="100.5" cy="552.1" r="0.72"/><circle cx="101.0" cy="550.4" r="0.72"/><circle cx="103.4" cy="551.1" r="0.72"/><circle cx="102.6" cy="550.8" r="0.72"/><circle cx="100.1" cy="554.4" r="0.72"/><circle cx="103.4" cy="553.8" r="0.72"/><circle cx="102.5" cy="549.8" r="0.72"/><circle cx="102.0" cy="554.7" r="0.72"/><circle cx="103.4" cy="552.9" r="0.72"/><circle cx="102.7" cy="549.8" r="0.72"/><circle cx="101.5" cy="553.8" r="0.72"/><circle cx="103.0" cy="555.0" r="0.72"/><circle cx="100.7" cy="549.4" r="0.72"/><circle cx="101.1" cy="549.3" r="0.72"/></g>
<g fill="#68bb6b"><circle cx="62.1" cy="543.9" r="0.8"/><circle cx="58.4" cy="555.4" r="0.8"/><circle cx="60.9" cy="554.9" r="0.8"/><circle cx="58.8" cy="550.4" r="0.8"/><circle cx="67.5" cy="548.2" r="0.8"/><circle cx="59.3" cy="559.3" r="0.8"/><circle cx="60.4" cy="551.7" r="0.8"/><circle cx="57.0" cy="549.1" r="0.8"/><circle cx="67.7" cy="557.2" r="0.8"/><circle cx="56.9" cy="553.8" r="0.8"/><circle cx="62.9" cy="548.3" r="0.8"/><circle cx="65.3" cy="545.4" r="0.8"/><circle cx="63.8" cy="549.2" r="0.8"/><circle cx="57.0" cy="556.2" r="0.8"/><circle cx="57.7" cy="556.7" r="0.8"/><circle cx="66.0" cy="549.6" r="0.8"/><circle cx="61.6" cy="545.1" r="0.8"/><circle cx="57.0" cy="554.7" r="0.8"/><circle cx="60.4" cy="552.1" r="0.8"/><circle cx="60.3" cy="546.3" r="0.8"/><circle cx="57.4" cy="556.0" r="0.8"/><circle cx="61.3" cy="544.1" r="0.8"/><circle cx="58.3" cy="544.2" r="0.8"/><circle cx="63.1" cy="556.3" r="0.8"/><circle cx="65.2" cy="557.3" r="0.8"/><circle cx="61.1" cy="549.6" r="0.8"/><circle cx="56.4" cy="546.2" r="0.8"/><circle cx="67.6" cy="546.7" r="0.8"/><circle cx="68.1" cy="557.4" r="0.8"/><circle cx="61.1" cy="557.4" r="0.8"/><circle cx="59.5" cy="545.9" r="0.8"/><circle cx="55.3" cy="551.5" r="0.8"/><circle cx="63.0" cy="545.2" r="0.8"/><circle cx="58.8" cy="553.4" r="0.8"/><circle cx="57.5" cy="556.4" r="0.8"/><circle cx="67.6" cy="549.3" r="0.8"/><circle cx="56.9" cy="552.2" r="0.8"/><circle cx="59.3" cy="543.1" r="0.8"/><circle cx="65.3" cy="552.0" r="0.8"/><circle cx="58.9" cy="545.9" r="0.8"/><circle cx="65.5" cy="559.0" r="0.8"/><circle cx="60.1" cy="552.5" r="0.8"/><circle cx="58.2" cy="550.2" r="0.8"/><circle cx="63.4" cy="547.1" r="0.8"/><circle cx="63.8" cy="551.7" r="0.8"/><circle cx="61.0" cy="544.0" r="0.8"/><circle cx="62.9" cy="552.7" r="0.8"/><circle cx="64.1" cy="558.4" r="0.8"/><circle cx="63.8" cy="556.1" r="0.8"/><circle cx="68.5" cy="552.6" r="0.8"/><circle cx="67.0" cy="551.8" r="0.8"/><circle cx="61.3" cy="544.2" r="0.8"/><circle cx="62.0" cy="555.0" r="0.8"/><circle cx="66.5" cy="558.5" r="0.8"/><circle cx="62.5" cy="559.5" r="0.8"/><circle cx="61.2" cy="551.6" r="0.8"/><circle cx="66.2" cy="545.7" r="0.8"/><circle cx="57.8" cy="557.7" r="0.8"/><circle cx="63.2" cy="543.7" r="0.8"/><circle cx="62.6" cy="556.2" r="0.8"/><circle cx="63.6" cy="554.3" r="0.8"/><circle cx="63.7" cy="559.1" r="0.8"/><circle cx="62.8" cy="548.0" r="0.8"/><circle cx="60.7" cy="548.8" r="0.8"/><circle cx="65.0" cy="552.2" r="0.8"/><circle cx="59.1" cy="558.9" r="0.8"/><circle cx="58.7" cy="547.0" r="0.8"/><circle cx="57.8" cy="554.8" r="0.8"/><circle cx="65.1" cy="548.2" r="0.8"/><circle cx="56.7" cy="552.7" r="0.8"/><circle cx="59.9" cy="551.8" r="0.8"/><circle cx="58.2" cy="549.4" r="0.8"/><circle cx="67.1" cy="547.1" r="0.8"/><circle cx="63.7" cy="560.0" r="0.8"/><circle cx="65.5" cy="558.9" r="0.8"/><circle cx="66.2" cy="559.0" r="0.8"/><circle cx="58.1" cy="548.7" r="0.8"/><circle cx="66.2" cy="552.3" r="0.8"/><circle cx="68.3" cy="549.6" r="0.8"/><circle cx="61.5" cy="544.4" r="0.8"/><circle cx="59.0" cy="558.2" r="0.8"/><circle cx="58.8" cy="558.6" r="0.8"/><circle cx="66.6" cy="552.2" r="0.8"/><circle cx="61.4" cy="548.3" r="0.8"/><circle cx="68.2" cy="557.1" r="0.8"/><circle cx="64.8" cy="546.7" r="0.8"/><circle cx="56.6" cy="544.7" r="0.8"/><circle cx="58.8" cy="544.8" r="0.8"/><circle cx="63.3" cy="547.2" r="0.8"/><circle cx="58.1" cy="558.2" r="0.8"/><circle cx="55.4" cy="552.0" r="0.8"/><circle cx="55.4" cy="550.3" r="0.8"/><circle cx="64.0" cy="551.6" r="0.8"/><circle cx="58.1" cy="557.5" r="0.8"/><circle cx="60.3" cy="551.7" r="0.8"/><circle cx="61.0" cy="556.4" r="0.8"/><circle cx="57.4" cy="545.5" r="0.8"/><circle cx="61.5" cy="551.7" r="0.8"/><circle cx="55.1" cy="548.7" r="0.8"/><circle cx="62.5" cy="552.8" r="0.8"/><circle cx="67.2" cy="547.5" r="0.8"/><circle cx="63.8" cy="559.7" r="0.8"/><circle cx="69.1" cy="552.1" r="0.8"/><circle cx="59.9" cy="553.8" r="0.8"/><circle cx="65.6" cy="554.4" r="0.8"/><circle cx="64.8" cy="548.6" r="0.8"/><circle cx="65.4" cy="548.0" r="0.8"/><circle cx="58.4" cy="543.0" r="0.8"/><circle cx="63.0" cy="544.4" r="0.8"/><circle cx="59.1" cy="546.9" r="0.8"/><circle cx="60.4" cy="549.2" r="0.8"/><circle cx="69.1" cy="551.4" r="0.8"/><circle cx="63.0" cy="548.9" r="0.8"/><circle cx="62.9" cy="557.0" r="0.8"/><circle cx="62.6" cy="551.1" r="0.8"/><circle cx="60.1" cy="544.7" r="0.8"/><circle cx="61.0" cy="552.3" r="0.8"/><circle cx="56.7" cy="555.8" r="0.8"/><circle cx="61.6" cy="553.3" r="0.8"/><circle cx="61.2" cy="556.6" r="0.8"/><circle cx="64.9" cy="543.5" r="0.8"/><circle cx="63.0" cy="546.3" r="0.8"/><circle cx="65.8" cy="548.3" r="0.8"/><circle cx="55.7" cy="549.1" r="0.8"/><circle cx="61.3" cy="554.4" r="0.8"/><circle cx="59.6" cy="542.7" r="0.8"/><circle cx="58.9" cy="553.2" r="0.8"/><circle cx="58.9" cy="558.4" r="0.8"/><circle cx="63.5" cy="548.9" r="0.8"/><circle cx="58.2" cy="553.1" r="0.8"/><circle cx="55.8" cy="550.9" r="0.8"/><circle cx="59.2" cy="549.2" r="0.8"/><circle cx="63.8" cy="555.4" r="0.8"/><circle cx="64.8" cy="549.6" r="0.8"/><circle cx="59.9" cy="553.3" r="0.8"/><circle cx="61.7" cy="559.2" r="0.8"/><circle cx="62.7" cy="552.5" r="0.8"/><circle cx="64.7" cy="550.5" r="0.8"/><circle cx="62.1" cy="554.0" r="0.8"/><circle cx="59.4" cy="550.7" r="0.8"/><circle cx="63.0" cy="547.0" r="0.8"/><circle cx="57.6" cy="549.2" r="0.8"/><circle cx="61.2" cy="549.5" r="0.8"/><circle cx="58.7" cy="550.5" r="0.8"/><circle cx="63.3" cy="543.1" r="0.8"/><circle cx="64.6" cy="554.9" r="0.8"/><circle cx="57.8" cy="546.0" r="0.8"/><circle cx="55.6" cy="550.3" r="0.8"/><circle cx="64.8" cy="549.1" r="0.8"/><circle cx="63.5" cy="552.9" r="0.8"/><circle cx="62.4" cy="559.1" r="0.8"/><circle cx="65.2" cy="549.8" r="0.8"/><circle cx="58.8" cy="543.7" r="0.8"/><circle cx="64.4" cy="556.0" r="0.8"/><circle cx="60.7" cy="542.8" r="0.8"/><circle cx="59.0" cy="554.9" r="0.8"/><circle cx="66.2" cy="548.9" r="0.8"/><circle cx="67.9" cy="548.7" r="0.8"/><circle cx="67.9" cy="554.9" r="0.8"/><circle cx="56.3" cy="546.7" r="0.8"/><circle cx="60.7" cy="550.5" r="0.8"/><circle cx="62.7" cy="546.2" r="0.8"/><circle cx="55.5" cy="552.2" r="0.8"/><circle cx="68.5" cy="555.1" r="0.8"/><circle cx="67.5" cy="558.1" r="0.8"/><circle cx="64.6" cy="542.2" r="0.8"/><circle cx="59.5" cy="552.4" r="0.8"/><circle cx="61.0" cy="545.3" r="0.8"/><circle cx="64.7" cy="546.9" r="0.8"/><circle cx="61.8" cy="558.1" r="0.8"/><circle cx="57.1" cy="553.4" r="0.8"/><circle cx="60.6" cy="551.0" r="0.8"/><circle cx="59.7" cy="547.9" r="0.8"/><circle cx="62.1" cy="554.0" r="0.8"/><circle cx="68.2" cy="549.5" r="0.8"/><circle cx="68.3" cy="556.6" r="0.8"/><circle cx="59.1" cy="548.1" r="0.8"/><circle cx="65.0" cy="544.3" r="0.8"/><circle cx="58.7" cy="544.9" r="0.8"/><circle cx="62.3" cy="555.6" r="0.8"/><circle cx="65.0" cy="549.7" r="0.8"/><circle cx="62.5" cy="543.6" r="0.8"/><circle cx="58.5" cy="547.8" r="0.8"/><circle cx="60.2" cy="554.0" r="0.8"/><circle cx="58.5" cy="545.7" r="0.8"/><circle cx="67.7" cy="556.3" r="0.8"/><circle cx="68.5" cy="556.3" r="0.8"/><circle cx="57.8" cy="550.6" r="0.8"/><circle cx="67.1" cy="556.8" r="0.8"/><circle cx="58.3" cy="550.5" r="0.8"/><circle cx="63.5" cy="541.3" r="0.8"/><circle cx="58.5" cy="555.6" r="0.8"/><circle cx="64.7" cy="549.8" r="0.8"/><circle cx="63.3" cy="551.4" r="0.8"/><circle cx="60.0" cy="542.8" r="0.8"/><circle cx="65.8" cy="556.2" r="0.8"/><circle cx="61.3" cy="556.1" r="0.8"/><circle cx="67.0" cy="554.6" r="0.8"/><circle cx="61.6" cy="556.3" r="0.8"/><circle cx="65.7" cy="543.0" r="0.8"/><circle cx="63.5" cy="542.8" r="0.8"/><circle cx="65.6" cy="547.7" r="0.8"/><circle cx="60.5" cy="546.4" r="0.8"/><circle cx="66.7" cy="553.6" r="0.8"/><circle cx="59.3" cy="555.6" r="0.8"/><circle cx="57.7" cy="556.7" r="0.8"/><circle cx="63.8" cy="556.0" r="0.8"/><circle cx="63.9" cy="560.3" r="0.8"/><circle cx="65.1" cy="550.1" r="0.8"/><circle cx="63.6" cy="552.2" r="0.8"/><circle cx="59.1" cy="547.1" r="0.8"/><circle cx="66.6" cy="557.1" r="0.8"/><circle cx="69.0" cy="554.5" r="0.8"/><circle cx="62.3" cy="548.8" r="0.8"/><circle cx="65.2" cy="553.8" r="0.8"/><circle cx="68.7" cy="555.7" r="0.8"/><circle cx="60.6" cy="546.5" r="0.8"/><circle cx="61.2" cy="548.8" r="0.8"/><circle cx="55.8" cy="550.8" r="0.8"/><circle cx="65.8" cy="555.9" r="0.8"/><circle cx="64.6" cy="552.7" r="0.8"/><circle cx="58.6" cy="554.3" r="0.8"/><circle cx="63.5" cy="560.0" r="0.8"/><circle cx="62.5" cy="548.0" r="0.8"/><circle cx="68.1" cy="553.3" r="0.8"/><circle cx="59.9" cy="553.8" r="0.8"/><circle cx="57.2" cy="544.8" r="0.8"/><circle cx="67.8" cy="550.1" r="0.8"/><circle cx="66.6" cy="545.3" r="0.8"/><circle cx="61.8" cy="545.7" r="0.8"/><circle cx="66.6" cy="552.7" r="0.8"/><circle cx="60.7" cy="548.6" r="0.8"/><circle cx="58.1" cy="545.2" r="0.8"/><circle cx="65.0" cy="547.2" r="0.8"/><circle cx="56.5" cy="548.6" r="0.8"/><circle cx="60.6" cy="549.0" r="0.8"/><circle cx="61.7" cy="548.9" r="0.8"/><circle cx="58.3" cy="544.1" r="0.8"/><circle cx="61.8" cy="553.6" r="0.8"/><circle cx="56.5" cy="550.4" r="0.8"/><circle cx="57.5" cy="552.8" r="0.8"/><circle cx="60.0" cy="554.1" r="0.8"/><circle cx="66.4" cy="549.0" r="0.8"/><circle cx="60.5" cy="542.6" r="0.8"/><circle cx="58.1" cy="553.2" r="0.8"/><circle cx="66.7" cy="543.8" r="0.8"/><circle cx="60.3" cy="551.6" r="0.8"/><circle cx="64.8" cy="547.5" r="0.8"/><circle cx="60.3" cy="555.2" r="0.8"/><circle cx="62.0" cy="549.6" r="0.8"/><circle cx="63.2" cy="543.4" r="0.8"/><circle cx="61.8" cy="546.8" r="0.8"/><circle cx="57.4" cy="551.3" r="0.8"/><circle cx="65.2" cy="551.4" r="0.8"/><circle cx="62.2" cy="554.2" r="0.8"/><circle cx="63.2" cy="554.7" r="0.8"/><circle cx="60.5" cy="548.9" r="0.8"/><circle cx="60.0" cy="545.8" r="0.8"/><circle cx="66.5" cy="557.9" r="0.8"/><circle cx="59.0" cy="552.1" r="0.8"/><circle cx="61.7" cy="543.7" r="0.8"/><circle cx="65.6" cy="551.5" r="0.8"/><circle cx="56.6" cy="554.5" r="0.8"/><circle cx="57.5" cy="554.9" r="0.8"/><circle cx="67.6" cy="551.2" r="0.8"/><circle cx="66.4" cy="545.5" r="0.8"/><circle cx="65.2" cy="548.6" r="0.8"/><circle cx="61.7" cy="547.2" r="0.8"/><circle cx="58.3" cy="547.0" r="0.8"/><circle cx="59.0" cy="544.8" r="0.8"/><circle cx="67.7" cy="548.5" r="0.8"/><circle cx="63.1" cy="556.9" r="0.8"/><circle cx="64.8" cy="544.2" r="0.8"/><circle cx="67.2" cy="547.5" r="0.8"/><circle cx="67.0" cy="553.6" r="0.8"/><circle cx="55.5" cy="548.5" r="0.8"/><circle cx="65.1" cy="551.7" r="0.8"/><circle cx="68.7" cy="556.5" r="0.8"/><circle cx="60.0" cy="558.8" r="0.8"/><circle cx="56.3" cy="550.8" r="0.8"/><circle cx="61.4" cy="542.5" r="0.8"/><circle cx="64.2" cy="556.5" r="0.8"/><circle cx="58.2" cy="545.9" r="0.8"/><circle cx="66.2" cy="551.4" r="0.8"/><circle cx="59.2" cy="549.9" r="0.8"/><circle cx="67.9" cy="556.9" r="0.8"/><circle cx="60.6" cy="554.1" r="0.8"/><circle cx="60.4" cy="553.5" r="0.8"/><circle cx="56.1" cy="546.7" r="0.8"/><circle cx="63.4" cy="553.9" r="0.8"/><circle cx="59.1" cy="551.1" r="0.8"/><circle cx="59.8" cy="552.4" r="0.8"/><circle cx="56.6" cy="553.3" r="0.8"/><circle cx="58.0" cy="551.9" r="0.8"/><circle cx="57.7" cy="549.8" r="0.8"/><circle cx="58.8" cy="553.6" r="0.8"/><circle cx="66.3" cy="557.6" r="0.8"/><circle cx="63.0" cy="548.0" r="0.8"/><circle cx="59.2" cy="551.0" r="0.8"/><circle cx="65.8" cy="547.4" r="0.8"/><circle cx="63.7" cy="546.3" r="0.8"/><circle cx="65.4" cy="550.8" r="0.8"/><circle cx="59.5" cy="549.8" r="0.8"/><circle cx="60.8" cy="554.2" r="0.8"/><circle cx="61.3" cy="552.5" r="0.8"/><circle cx="63.8" cy="542.8" r="0.8"/><circle cx="62.3" cy="555.7" r="0.8"/><circle cx="66.4" cy="555.4" r="0.8"/><circle cx="64.9" cy="543.6" r="0.8"/><circle cx="60.9" cy="551.0" r="0.8"/><circle cx="56.5" cy="552.1" r="0.8"/><circle cx="58.9" cy="544.3" r="0.8"/><circle cx="68.8" cy="553.2" r="0.8"/><circle cx="65.6" cy="552.9" r="0.8"/><circle cx="63.2" cy="558.1" r="0.8"/><circle cx="55.9" cy="548.5" r="0.8"/><circle cx="58.2" cy="552.7" r="0.8"/><circle cx="60.7" cy="559.1" r="0.8"/><circle cx="58.4" cy="546.3" r="0.8"/><circle cx="68.3" cy="555.2" r="0.8"/></g>
<g fill="#4fa553"><circle cx="68.9" cy="552.3" r="0.6"/><circle cx="62.1" cy="542.2" r="0.6"/><circle cx="66.2" cy="545.1" r="0.6"/><circle cx="58.9" cy="543.8" r="0.6"/><circle cx="62.8" cy="546.6" r="0.6"/><circle cx="63.3" cy="555.0" r="0.6"/><circle cx="58.3" cy="543.7" r="0.6"/><circle cx="62.5" cy="548.9" r="0.6"/><circle cx="61.5" cy="548.3" r="0.6"/><circle cx="57.4" cy="543.5" r="0.6"/><circle cx="65.5" cy="553.5" r="0.6"/><circle cx="65.0" cy="553.6" r="0.6"/><circle cx="62.4" cy="544.9" r="0.6"/><circle cx="68.3" cy="551.5" r="0.6"/><circle cx="61.6" cy="546.2" r="0.6"/><circle cx="60.9" cy="556.8" r="0.6"/><circle cx="56.8" cy="552.8" r="0.6"/><circle cx="58.9" cy="545.7" r="0.6"/><circle cx="59.4" cy="548.8" r="0.6"/><circle cx="64.3" cy="549.0" r="0.6"/><circle cx="67.4" cy="549.6" r="0.6"/><circle cx="66.5" cy="548.8" r="0.6"/><circle cx="58.7" cy="558.5" r="0.6"/><circle cx="64.2" cy="555.2" r="0.6"/><circle cx="62.6" cy="555.0" r="0.6"/><circle cx="68.9" cy="555.5" r="0.6"/><circle cx="59.3" cy="558.3" r="0.6"/><circle cx="67.1" cy="558.4" r="0.6"/><circle cx="61.3" cy="549.2" r="0.6"/><circle cx="57.4" cy="544.5" r="0.6"/></g>
<g fill="#bfe3c0"><circle cx="59.4" cy="549.2" r="0.55"/><circle cx="60.6" cy="550.1" r="0.55"/><circle cx="55.5" cy="547.8" r="0.55"/><circle cx="62.4" cy="542.2" r="0.55"/><circle cx="62.0" cy="558.8" r="0.55"/><circle cx="64.5" cy="559.5" r="0.55"/><circle cx="67.5" cy="550.7" r="0.55"/><circle cx="63.4" cy="557.5" r="0.55"/><circle cx="59.8" cy="543.7" r="0.55"/><circle cx="66.0" cy="551.6" r="0.55"/><circle cx="61.8" cy="543.6" r="0.55"/><circle cx="63.0" cy="552.3" r="0.55"/><circle cx="65.3" cy="558.7" r="0.55"/><circle cx="59.7" cy="549.2" r="0.55"/><circle cx="60.0" cy="556.8" r="0.55"/></g>
<g fill="#8cc295"><circle cx="76.4" cy="556.9" r="0.6"/><circle cx="78.0" cy="556.6" r="0.6"/><circle cx="78.0" cy="556.7" r="0.6"/><circle cx="78.4" cy="556.5" r="0.6"/><circle cx="79.0" cy="557.6" r="0.6"/><circle cx="74.1" cy="556.6" r="0.6"/><circle cx="79.0" cy="557.5" r="0.6"/><circle cx="75.6" cy="557.5" r="0.6"/><circle cx="77.2" cy="556.7" r="0.6"/><circle cx="77.8" cy="557.0" r="0.6"/><circle cx="70.4" cy="555.6" r="0.6"/><circle cx="72.2" cy="553.7" r="0.6"/><circle cx="71.3" cy="555.0" r="0.6"/><circle cx="71.1" cy="553.8" r="0.6"/><circle cx="71.6" cy="555.9" r="0.6"/><circle cx="70.3" cy="553.8" r="0.6"/></g>
<g fill="#c6c6c6"><circle cx="100.5" cy="585.7" r="0.7"/><circle cx="103.2" cy="588.6" r="0.7"/><circle cx="102.6" cy="592.6" r="0.7"/><circle cx="99.4" cy="590.4" r="0.7"/><circle cx="96.6" cy="590.1" r="0.7"/><circle cx="101.5" cy="591.0" r="0.7"/><circle cx="101.3" cy="591.5" r="0.7"/><circle cx="102.5" cy="588.2" r="0.7"/><circle cx="98.9" cy="594.2" r="0.7"/><circle cx="97.2" cy="588.6" r="0.7"/><circle cx="102.2" cy="592.1" r="0.7"/><circle cx="101.5" cy="589.2" r="0.7"/><circle cx="97.0" cy="588.8" r="0.7"/><circle cx="100.7" cy="586.0" r="0.7"/><circle cx="98.6" cy="596.4" r="0.7"/><circle cx="95.0" cy="588.3" r="0.7"/><circle cx="97.3" cy="591.7" r="0.7"/><circle cx="98.7" cy="586.2" r="0.7"/><circle cx="95.9" cy="590.6" r="0.7"/><circle cx="98.0" cy="590.3" r="0.7"/><circle cx="95.9" cy="588.4" r="0.7"/><circle cx="99.3" cy="585.1" r="0.7"/><circle cx="99.3" cy="594.5" r="0.7"/><circle cx="100.0" cy="585.6" r="0.7"/><circle cx="100.4" cy="585.0" r="0.7"/><circle cx="99.5" cy="586.2" r="0.7"/><circle cx="97.4" cy="585.5" r="0.7"/><circle cx="100.7" cy="594.1" r="0.7"/><circle cx="98.8" cy="591.3" r="0.7"/><circle cx="97.8" cy="594.2" r="0.7"/><circle cx="101.0" cy="585.8" r="0.7"/><circle cx="99.1" cy="586.3" r="0.7"/><circle cx="99.1" cy="592.2" r="0.7"/><circle cx="101.2" cy="588.1" r="0.7"/><circle cx="95.5" cy="589.6" r="0.7"/><circle cx="102.8" cy="590.9" r="0.7"/><circle cx="100.3" cy="593.6" r="0.7"/><circle cx="103.1" cy="593.2" r="0.7"/><circle cx="97.2" cy="592.9" r="0.7"/><circle cx="99.9" cy="594.8" r="0.7"/><circle cx="101.6" cy="588.1" r="0.7"/><circle cx="96.5" cy="592.2" r="0.7"/><circle cx="95.9" cy="590.2" r="0.7"/><circle cx="97.3" cy="589.0" r="0.7"/><circle cx="100.6" cy="591.9" r="0.7"/><circle cx="100.2" cy="584.8" r="0.7"/><circle cx="102.6" cy="592.8" r="0.7"/><circle cx="102.7" cy="591.7" r="0.7"/><circle cx="100.5" cy="595.1" r="0.7"/><circle cx="101.3" cy="591.9" r="0.7"/><circle cx="101.1" cy="594.6" r="0.7"/><circle cx="98.3" cy="586.6" r="0.7"/><circle cx="98.8" cy="594.5" r="0.7"/><circle cx="96.7" cy="586.6" r="0.7"/><circle cx="101.3" cy="587.1" r="0.7"/></g>
<g fill="#aab8ad"><circle cx="81.9" cy="574.9" r="0.8"/><circle cx="81.5" cy="576.1" r="0.8"/><circle cx="82.0" cy="576.3" r="0.8"/><circle cx="82.1" cy="575.5" r="0.8"/><circle cx="81.0" cy="575.6" r="0.8"/><circle cx="81.4" cy="576.6" r="0.8"/><circle cx="81.8" cy="574.8" r="0.8"/><circle cx="82.1" cy="574.6" r="0.8"/><circle cx="110.3" cy="583.8" r="0.8"/><circle cx="109.4" cy="584.1" r="0.8"/><circle cx="109.8" cy="583.7" r="0.8"/><circle cx="110.2" cy="584.2" r="0.8"/></g>
<path d="M40,599.2 V566.8 M40,599.2 H73.5" fill="none" stroke="#111" stroke-width="1.15"/>
<path d="M37.8,567.5 L40,562.3 L42.2,567.5 z" fill="#111"/>
<path d="M72.8,597.0 L78,599.2 L72.8,601.4000000000001 z" fill="#111"/>
<text transform="translate(33.20,580.50) rotate(-90)" x="0" y="0" font-size="9.8" text-anchor="middle" font-weight="bold" fill="#222" textLength="24.18" lengthAdjust="spacingAndGlyphs">UMAP 2</text>
<text x="47.11" y="610.70" font-size="9.8" text-anchor="start" font-weight="bold" fill="#222" textLength="24.18" lengthAdjust="spacingAndGlyphs">UMAP 1</text>
<text x="134.86" y="551.50" font-size="6.8" text-anchor="start" fill="#231f20" textLength="41.32" lengthAdjust="spacingAndGlyphs" stroke="#231f20" stroke-width="0.08">Mutant status</text>
<circle cx="136.2" cy="560.5" r="1.6" fill="#3a9a45"/><circle cx="136.2" cy="571.1" r="1.6" fill="#bcbcbc"/>
<text x="141.66" y="562.60" font-size="6.8" text-anchor="start" fill="#231f20" textLength="20.92" lengthAdjust="spacingAndGlyphs" stroke="#231f20" stroke-width="0.08">Mutant</text>
<text x="141.66" y="573.30" font-size="6.8" text-anchor="start" fill="#231f20" textLength="26.72" lengthAdjust="spacingAndGlyphs" stroke="#231f20" stroke-width="0.08">Wildtype</text>
<text x="7.40" y="640.60" font-size="13" text-anchor="start" font-weight="bold" fill="#000">J</text>
<text x="23.71" y="646.70" font-size="9.75" text-anchor="start" fill="#231f20" textLength="126.37" lengthAdjust="spacingAndGlyphs" stroke="#231f20" stroke-width="0.12">DNMT3A indicated by 747A&gt;G</text>
<g fill="#c9c9c9"><circle cx="115.2" cy="692.3" r="0.72"/><circle cx="104.6" cy="668.4" r="0.72"/><circle cx="112.9" cy="691.2" r="0.72"/><circle cx="113.0" cy="696.3" r="0.72"/><circle cx="112.2" cy="668.1" r="0.72"/><circle cx="98.4" cy="672.7" r="0.72"/><circle cx="102.0" cy="664.1" r="0.72"/><circle cx="110.6" cy="679.9" r="0.72"/><circle cx="112.8" cy="672.5" r="0.72"/><circle cx="101.3" cy="688.9" r="0.72"/><circle cx="110.7" cy="694.7" r="0.72"/><circle cx="111.8" cy="682.0" r="0.72"/><circle cx="101.1" cy="681.8" r="0.72"/><circle cx="90.4" cy="662.9" r="0.72"/><circle cx="98.0" cy="664.0" r="0.72"/><circle cx="111.6" cy="683.8" r="0.72"/><circle cx="114.7" cy="683.9" r="0.72"/><circle cx="100.7" cy="669.8" r="0.72"/><circle cx="108.4" cy="696.5" r="0.72"/><circle cx="93.5" cy="669.6" r="0.72"/><circle cx="104.4" cy="661.4" r="0.72"/><circle cx="103.5" cy="695.6" r="0.72"/><circle cx="106.6" cy="684.6" r="0.72"/><circle cx="106.9" cy="690.6" r="0.72"/><circle cx="119.7" cy="690.9" r="0.72"/><circle cx="92.0" cy="663.5" r="0.72"/><circle cx="96.3" cy="668.8" r="0.72"/><circle cx="99.6" cy="672.0" r="0.72"/><circle cx="111.8" cy="678.8" r="0.72"/><circle cx="104.1" cy="681.6" r="0.72"/><circle cx="107.9" cy="686.1" r="0.72"/><circle cx="108.3" cy="683.9" r="0.72"/><circle cx="100.1" cy="661.8" r="0.72"/><circle cx="115.9" cy="695.4" r="0.72"/><circle cx="114.4" cy="692.5" r="0.72"/><circle cx="109.7" cy="668.4" r="0.72"/><circle cx="100.3" cy="663.0" r="0.72"/><circle cx="92.3" cy="670.2" r="0.72"/><circle cx="108.6" cy="684.6" r="0.72"/><circle cx="104.9" cy="693.3" r="0.72"/><circle cx="112.3" cy="667.4" r="0.72"/><circle cx="105.2" cy="665.8" r="0.72"/><circle cx="95.7" cy="664.9" r="0.72"/><circle cx="116.6" cy="685.4" r="0.72"/><circle cx="90.7" cy="667.8" r="0.72"/><circle cx="107.1" cy="680.3" r="0.72"/><circle cx="106.2" cy="683.2" r="0.72"/><circle cx="105.1" cy="672.7" r="0.72"/><circle cx="101.6" cy="680.7" r="0.72"/><circle cx="112.8" cy="680.7" r="0.72"/><circle cx="111.1" cy="684.7" r="0.72"/><circle cx="112.5" cy="667.7" r="0.72"/><circle cx="106.3" cy="676.7" r="0.72"/><circle cx="103.8" cy="676.2" r="0.72"/><circle cx="110.8" cy="688.1" r="0.72"/><circle cx="109.6" cy="678.9" r="0.72"/><circle cx="99.5" cy="660.0" r="0.72"/><circle cx="103.1" cy="680.4" r="0.72"/><circle cx="97.9" cy="663.2" r="0.72"/><circle cx="103.6" cy="661.8" r="0.72"/><circle cx="105.1" cy="674.6" r="0.72"/><circle cx="106.0" cy="698.0" r="0.72"/><circle cx="97.0" cy="673.1" r="0.72"/><circle cx="103.9" cy="691.0" r="0.72"/><circle cx="100.8" cy="674.5" r="0.72"/><circle cx="106.5" cy="697.7" r="0.72"/><circle cx="108.7" cy="682.9" r="0.72"/><circle cx="105.2" cy="682.4" r="0.72"/><circle cx="100.0" cy="684.8" r="0.72"/><circle cx="99.8" cy="670.1" r="0.72"/><circle cx="113.3" cy="687.7" r="0.72"/><circle cx="114.3" cy="678.0" r="0.72"/><circle cx="96.3" cy="665.1" r="0.72"/><circle cx="104.0" cy="661.0" r="0.72"/><circle cx="106.5" cy="693.7" r="0.72"/><circle cx="103.1" cy="663.3" r="0.72"/><circle cx="111.3" cy="679.5" r="0.72"/><circle cx="107.6" cy="693.6" r="0.72"/><circle cx="118.8" cy="682.9" r="0.72"/><circle cx="93.2" cy="668.7" r="0.72"/><circle cx="106.8" cy="677.5" r="0.72"/><circle cx="103.1" cy="664.7" r="0.72"/><circle cx="111.2" cy="680.6" r="0.72"/><circle cx="104.7" cy="690.6" r="0.72"/><circle cx="93.9" cy="670.2" r="0.72"/><circle cx="107.7" cy="662.8" r="0.72"/><circle cx="112.2" cy="676.0" r="0.72"/><circle cx="89.4" cy="662.5" r="0.72"/><circle cx="104.6" cy="680.7" r="0.72"/><circle cx="102.4" cy="672.2" r="0.72"/><circle cx="114.8" cy="686.8" r="0.72"/><circle cx="91.8" cy="663.3" r="0.72"/><circle cx="108.5" cy="697.9" r="0.72"/><circle cx="112.6" cy="678.0" r="0.72"/><circle cx="91.7" cy="667.7" r="0.72"/><circle cx="108.1" cy="693.5" r="0.72"/><circle cx="117.0" cy="681.6" r="0.72"/><circle cx="107.6" cy="683.7" r="0.72"/><circle cx="112.9" cy="679.8" r="0.72"/><circle cx="91.6" cy="667.9" r="0.72"/><circle cx="91.4" cy="669.1" r="0.72"/><circle cx="113.7" cy="681.0" r="0.72"/><circle cx="106.7" cy="668.6" r="0.72"/><circle cx="106.2" cy="693.4" r="0.72"/><circle cx="108.6" cy="666.3" r="0.72"/><circle cx="106.8" cy="671.9" r="0.72"/><circle cx="103.2" cy="687.7" r="0.72"/><circle cx="114.5" cy="677.8" r="0.72"/><circle cx="108.3" cy="670.6" r="0.72"/><circle cx="105.2" cy="668.0" r="0.72"/><circle cx="112.7" cy="679.1" r="0.72"/><circle cx="99.4" cy="669.2" r="0.72"/><circle cx="115.0" cy="695.3" r="0.72"/><circle cx="109.9" cy="672.5" r="0.72"/><circle cx="102.2" cy="686.5" r="0.72"/><circle cx="113.4" cy="686.4" r="0.72"/><circle cx="106.9" cy="663.2" r="0.72"/><circle cx="94.9" cy="669.3" r="0.72"/><circle cx="106.5" cy="696.2" r="0.72"/><circle cx="105.9" cy="695.9" r="0.72"/><circle cx="103.1" cy="679.8" r="0.72"/><circle cx="104.4" cy="678.1" r="0.72"/><circle cx="117.9" cy="689.7" r="0.72"/><circle cx="110.6" cy="683.0" r="0.72"/><circle cx="109.0" cy="679.1" r="0.72"/><circle cx="115.0" cy="683.2" r="0.72"/><circle cx="89.3" cy="664.0" r="0.72"/><circle cx="117.2" cy="680.9" r="0.72"/><circle cx="117.9" cy="693.8" r="0.72"/><circle cx="108.8" cy="691.4" r="0.72"/><circle cx="114.2" cy="672.7" r="0.72"/><circle cx="118.8" cy="683.8" r="0.72"/><circle cx="106.6" cy="666.3" r="0.72"/><circle cx="98.7" cy="665.0" r="0.72"/><circle cx="102.9" cy="660.9" r="0.72"/><circle cx="109.2" cy="685.0" r="0.72"/><circle cx="117.2" cy="689.9" r="0.72"/><circle cx="105.5" cy="696.6" r="0.72"/><circle cx="103.8" cy="662.3" r="0.72"/><circle cx="110.7" cy="666.0" r="0.72"/><circle cx="98.5" cy="685.6" r="0.72"/><circle cx="110.9" cy="677.5" r="0.72"/><circle cx="111.1" cy="668.2" r="0.72"/><circle cx="97.8" cy="662.4" r="0.72"/><circle cx="103.7" cy="694.0" r="0.72"/><circle cx="110.7" cy="684.0" r="0.72"/><circle cx="103.5" cy="685.7" r="0.72"/><circle cx="104.8" cy="666.4" r="0.72"/><circle cx="106.3" cy="679.5" r="0.72"/><circle cx="110.9" cy="678.8" r="0.72"/><circle cx="100.3" cy="681.2" r="0.72"/><circle cx="117.3" cy="685.3" r="0.72"/><circle cx="109.0" cy="683.3" r="0.72"/><circle cx="111.9" cy="669.7" r="0.72"/><circle cx="114.9" cy="680.8" r="0.72"/><circle cx="112.4" cy="692.8" r="0.72"/><circle cx="99.6" cy="662.1" r="0.72"/><circle cx="116.3" cy="686.6" r="0.72"/><circle cx="103.8" cy="680.9" r="0.72"/><circle cx="99.5" cy="686.6" r="0.72"/><circle cx="105.2" cy="679.0" r="0.72"/><circle cx="96.3" cy="668.0" r="0.72"/><circle cx="109.6" cy="672.7" r="0.72"/><circle cx="104.6" cy="663.2" r="0.72"/><circle cx="99.5" cy="662.0" r="0.72"/><circle cx="104.2" cy="697.5" r="0.72"/><circle cx="112.6" cy="673.6" r="0.72"/><circle cx="118.7" cy="685.0" r="0.72"/><circle cx="100.5" cy="676.1" r="0.72"/><circle cx="107.6" cy="680.2" r="0.72"/><circle cx="116.0" cy="695.0" r="0.72"/><circle cx="98.5" cy="659.3" r="0.72"/><circle cx="113.1" cy="685.0" r="0.72"/><circle cx="106.1" cy="688.7" r="0.72"/><circle cx="113.5" cy="697.1" r="0.72"/><circle cx="111.1" cy="681.0" r="0.72"/><circle cx="114.6" cy="691.4" r="0.72"/><circle cx="108.3" cy="685.9" r="0.72"/><circle cx="113.2" cy="670.7" r="0.72"/><circle cx="99.5" cy="674.6" r="0.72"/><circle cx="115.6" cy="680.4" r="0.72"/><circle cx="108.3" cy="676.7" r="0.72"/><circle cx="103.4" cy="664.7" r="0.72"/><circle cx="113.8" cy="676.4" r="0.72"/><circle cx="92.6" cy="669.5" r="0.72"/><circle cx="101.6" cy="689.4" r="0.72"/><circle cx="102.0" cy="675.8" r="0.72"/><circle cx="100.9" cy="679.9" r="0.72"/><circle cx="94.1" cy="664.3" r="0.72"/><circle cx="105.7" cy="673.1" r="0.72"/><circle cx="109.8" cy="673.6" r="0.72"/><circle cx="101.9" cy="671.8" r="0.72"/><circle cx="105.2" cy="670.3" r="0.72"/><circle cx="109.6" cy="675.5" r="0.72"/><circle cx="110.8" cy="670.7" r="0.72"/><circle cx="102.7" cy="681.4" r="0.72"/><circle cx="111.2" cy="685.2" r="0.72"/><circle cx="101.8" cy="662.5" r="0.72"/><circle cx="91.5" cy="664.9" r="0.72"/><circle cx="93.9" cy="666.4" r="0.72"/><circle cx="109.3" cy="672.7" r="0.72"/><circle cx="95.9" cy="666.4" r="0.72"/><circle cx="106.6" cy="669.1" r="0.72"/><circle cx="114.2" cy="686.2" r="0.72"/><circle cx="101.8" cy="683.4" r="0.72"/><circle cx="109.2" cy="676.7" r="0.72"/><circle cx="113.0" cy="693.7" r="0.72"/><circle cx="100.0" cy="674.0" r="0.72"/><circle cx="104.5" cy="669.1" r="0.72"/><circle cx="94.7" cy="664.2" r="0.72"/><circle cx="110.2" cy="679.5" r="0.72"/><circle cx="116.2" cy="683.8" r="0.72"/><circle cx="108.0" cy="676.5" r="0.72"/><circle cx="101.7" cy="664.9" r="0.72"/><circle cx="105.7" cy="670.0" r="0.72"/><circle cx="106.5" cy="694.2" r="0.72"/><circle cx="105.9" cy="672.1" r="0.72"/><circle cx="104.8" cy="691.9" r="0.72"/><circle cx="94.5" cy="666.5" r="0.72"/><circle cx="110.8" cy="679.0" r="0.72"/><circle cx="105.9" cy="675.9" r="0.72"/><circle cx="116.5" cy="682.3" r="0.72"/><circle cx="99.1" cy="670.4" r="0.72"/><circle cx="107.4" cy="681.2" r="0.72"/><circle cx="94.4" cy="660.3" r="0.72"/><circle cx="88.6" cy="665.6" r="0.72"/><circle cx="109.1" cy="683.6" r="0.72"/><circle cx="120.0" cy="685.5" r="0.72"/><circle cx="115.0" cy="678.1" r="0.72"/><circle cx="107.9" cy="687.6" r="0.72"/><circle cx="110.0" cy="675.0" r="0.72"/><circle cx="116.9" cy="692.2" r="0.72"/><circle cx="112.6" cy="683.1" r="0.72"/><circle cx="109.9" cy="692.8" r="0.72"/><circle cx="113.9" cy="677.3" r="0.72"/><circle cx="109.1" cy="680.7" r="0.72"/><circle cx="95.2" cy="664.4" r="0.72"/><circle cx="112.3" cy="686.2" r="0.72"/><circle cx="101.2" cy="683.0" r="0.72"/><circle cx="105.8" cy="697.1" r="0.72"/><circle cx="104.3" cy="680.7" r="0.72"/><circle cx="102.9" cy="675.6" r="0.72"/><circle cx="110.3" cy="696.3" r="0.72"/><circle cx="112.6" cy="680.8" r="0.72"/><circle cx="99.4" cy="662.9" r="0.72"/><circle cx="116.4" cy="693.8" r="0.72"/><circle cx="114.1" cy="678.3" r="0.72"/><circle cx="111.4" cy="677.0" r="0.72"/><circle cx="100.6" cy="675.9" r="0.72"/><circle cx="110.8" cy="673.5" r="0.72"/><circle cx="109.4" cy="678.8" r="0.72"/><circle cx="90.0" cy="667.3" r="0.72"/><circle cx="93.5" cy="671.3" r="0.72"/><circle cx="105.7" cy="671.4" r="0.72"/><circle cx="112.0" cy="683.8" r="0.72"/><circle cx="117.4" cy="683.4" r="0.72"/><circle cx="93.8" cy="666.5" r="0.72"/><circle cx="110.7" cy="691.6" r="0.72"/><circle cx="116.2" cy="681.5" r="0.72"/><circle cx="112.0" cy="689.7" r="0.72"/><circle cx="105.1" cy="685.8" r="0.72"/><circle cx="93.1" cy="671.6" r="0.72"/><circle cx="94.4" cy="660.4" r="0.72"/><circle cx="106.2" cy="680.2" r="0.72"/><circle cx="93.4" cy="671.9" r="0.72"/><circle cx="95.0" cy="666.9" r="0.72"/><circle cx="107.8" cy="672.0" r="0.72"/><circle cx="112.8" cy="682.0" r="0.72"/><circle cx="115.3" cy="679.4" r="0.72"/><circle cx="108.4" cy="668.6" r="0.72"/><circle cx="110.5" cy="675.3" r="0.72"/><circle cx="111.3" cy="682.5" r="0.72"/><circle cx="92.4" cy="671.1" r="0.72"/><circle cx="108.4" cy="680.9" r="0.72"/><circle cx="111.1" cy="672.2" r="0.72"/><circle cx="103.4" cy="678.2" r="0.72"/><circle cx="104.4" cy="669.4" r="0.72"/><circle cx="107.0" cy="669.4" r="0.72"/><circle cx="94.6" cy="668.3" r="0.72"/><circle cx="116.4" cy="688.6" r="0.72"/><circle cx="108.3" cy="663.5" r="0.72"/><circle cx="104.7" cy="678.9" r="0.72"/><circle cx="109.6" cy="670.6" r="0.72"/><circle cx="117.4" cy="684.0" r="0.72"/><circle cx="110.9" cy="693.6" r="0.72"/><circle cx="113.9" cy="686.6" r="0.72"/><circle cx="103.0" cy="695.3" r="0.72"/><circle cx="111.7" cy="686.0" r="0.72"/><circle cx="100.9" cy="679.1" r="0.72"/><circle cx="104.4" cy="667.7" r="0.72"/><circle cx="115.3" cy="687.0" r="0.72"/><circle cx="110.2" cy="679.5" r="0.72"/><circle cx="106.5" cy="685.8" r="0.72"/><circle cx="103.0" cy="662.1" r="0.72"/><circle cx="113.8" cy="693.9" r="0.72"/><circle cx="109.9" cy="666.7" r="0.72"/><circle cx="110.9" cy="671.8" r="0.72"/><circle cx="105.0" cy="662.1" r="0.72"/><circle cx="114.9" cy="690.6" r="0.72"/><circle cx="106.7" cy="686.8" r="0.72"/><circle cx="98.9" cy="664.1" r="0.72"/><circle cx="106.1" cy="664.4" r="0.72"/><circle cx="102.5" cy="664.4" r="0.72"/><circle cx="112.2" cy="690.9" r="0.72"/><circle cx="98.1" cy="685.2" r="0.72"/><circle cx="116.5" cy="686.7" r="0.72"/><circle cx="111.3" cy="679.4" r="0.72"/><circle cx="107.3" cy="690.6" r="0.72"/><circle cx="113.1" cy="686.1" r="0.72"/><circle cx="105.3" cy="682.7" r="0.72"/><circle cx="96.8" cy="666.4" r="0.72"/><circle cx="90.1" cy="669.0" r="0.72"/><circle cx="110.0" cy="665.2" r="0.72"/><circle cx="90.8" cy="663.9" r="0.72"/><circle cx="114.0" cy="692.9" r="0.72"/><circle cx="109.0" cy="671.1" r="0.72"/><circle cx="109.7" cy="668.3" r="0.72"/><circle cx="103.3" cy="667.5" r="0.72"/><circle cx="116.1" cy="684.4" r="0.72"/><circle cx="110.3" cy="684.0" r="0.72"/><circle cx="113.2" cy="679.7" r="0.72"/><circle cx="107.0" cy="678.8" r="0.72"/><circle cx="112.4" cy="680.4" r="0.72"/><circle cx="104.8" cy="694.0" r="0.72"/><circle cx="111.2" cy="667.4" r="0.72"/><circle cx="104.4" cy="682.5" r="0.72"/><circle cx="106.7" cy="677.5" r="0.72"/><circle cx="104.4" cy="686.7" r="0.72"/><circle cx="113.3" cy="686.3" r="0.72"/><circle cx="91.8" cy="669.4" r="0.72"/><circle cx="98.1" cy="673.2" r="0.72"/><circle cx="103.8" cy="670.8" r="0.72"/><circle cx="120.2" cy="688.5" r="0.72"/><circle cx="99.9" cy="687.1" r="0.72"/><circle cx="108.3" cy="697.5" r="0.72"/><circle cx="113.9" cy="671.9" r="0.72"/><circle cx="101.4" cy="673.1" r="0.72"/><circle cx="102.9" cy="688.3" r="0.72"/><circle cx="99.9" cy="659.3" r="0.72"/><circle cx="94.4" cy="672.7" r="0.72"/><circle cx="101.2" cy="668.9" r="0.72"/><circle cx="110.1" cy="672.2" r="0.72"/><circle cx="112.3" cy="694.3" r="0.72"/><circle cx="97.4" cy="669.6" r="0.72"/><circle cx="110.5" cy="664.9" r="0.72"/><circle cx="119.2" cy="685.3" r="0.72"/><circle cx="107.1" cy="662.1" r="0.72"/><circle cx="119.4" cy="689.0" r="0.72"/><circle cx="114.2" cy="689.1" r="0.72"/><circle cx="93.7" cy="668.7" r="0.72"/><circle cx="90.5" cy="666.6" r="0.72"/><circle cx="113.5" cy="670.5" r="0.72"/><circle cx="113.5" cy="680.9" r="0.72"/><circle cx="113.8" cy="672.5" r="0.72"/><circle cx="89.3" cy="663.0" r="0.72"/><circle cx="111.3" cy="679.4" r="0.72"/><circle cx="112.6" cy="667.0" r="0.72"/><circle cx="96.9" cy="667.5" r="0.72"/><circle cx="115.5" cy="687.3" r="0.72"/><circle cx="111.2" cy="686.5" r="0.72"/><circle cx="94.3" cy="660.7" r="0.72"/><circle cx="108.6" cy="686.9" r="0.72"/><circle cx="104.7" cy="685.2" r="0.72"/><circle cx="117.9" cy="685.1" r="0.72"/><circle cx="104.6" cy="689.9" r="0.72"/><circle cx="105.6" cy="675.6" r="0.72"/><circle cx="98.8" cy="674.8" r="0.72"/><circle cx="95.1" cy="671.5" r="0.72"/><circle cx="112.1" cy="694.6" r="0.72"/><circle cx="102.7" cy="693.0" r="0.72"/><circle cx="112.0" cy="690.4" r="0.72"/><circle cx="100.4" cy="665.8" r="0.72"/><circle cx="119.0" cy="683.5" r="0.72"/><circle cx="109.1" cy="672.9" r="0.72"/><circle cx="109.4" cy="689.4" r="0.72"/><circle cx="106.4" cy="689.3" r="0.72"/><circle cx="106.7" cy="683.0" r="0.72"/><circle cx="94.0" cy="662.7" r="0.72"/><circle cx="110.8" cy="688.2" r="0.72"/><circle cx="109.5" cy="669.2" r="0.72"/><circle cx="103.7" cy="689.9" r="0.72"/><circle cx="108.7" cy="695.6" r="0.72"/><circle cx="105.2" cy="662.0" r="0.72"/><circle cx="101.5" cy="685.9" r="0.72"/><circle cx="104.4" cy="691.0" r="0.72"/><circle cx="94.7" cy="664.8" r="0.72"/><circle cx="110.8" cy="696.7" r="0.72"/><circle cx="106.0" cy="697.3" r="0.72"/><circle cx="101.7" cy="685.4" r="0.72"/><circle cx="88.6" cy="664.3" r="0.72"/><circle cx="101.0" cy="662.7" r="0.72"/><circle cx="103.4" cy="674.0" r="0.72"/><circle cx="93.7" cy="662.0" r="0.72"/><circle cx="105.8" cy="697.6" r="0.72"/><circle cx="105.4" cy="673.4" r="0.72"/><circle cx="119.6" cy="687.4" r="0.72"/><circle cx="107.5" cy="669.3" r="0.72"/><circle cx="102.0" cy="680.2" r="0.72"/><circle cx="100.2" cy="681.7" r="0.72"/><circle cx="104.3" cy="689.3" r="0.72"/><circle cx="114.2" cy="688.6" r="0.72"/><circle cx="100.3" cy="687.6" r="0.72"/><circle cx="107.8" cy="692.8" r="0.72"/><circle cx="113.2" cy="685.1" r="0.72"/><circle cx="107.5" cy="686.6" r="0.72"/><circle cx="109.7" cy="676.7" r="0.72"/><circle cx="101.5" cy="677.8" r="0.72"/><circle cx="91.9" cy="662.0" r="0.72"/><circle cx="97.0" cy="666.0" r="0.72"/><circle cx="116.3" cy="681.6" r="0.72"/><circle cx="117.0" cy="695.0" r="0.72"/><circle cx="110.9" cy="677.0" r="0.72"/><circle cx="104.9" cy="681.7" r="0.72"/><circle cx="103.6" cy="689.6" r="0.72"/><circle cx="117.8" cy="684.1" r="0.72"/><circle cx="110.4" cy="681.1" r="0.72"/><circle cx="89.9" cy="666.3" r="0.72"/><circle cx="95.3" cy="667.7" r="0.72"/><circle cx="108.5" cy="696.2" r="0.72"/><circle cx="106.8" cy="678.6" r="0.72"/><circle cx="114.2" cy="690.9" r="0.72"/><circle cx="103.8" cy="679.1" r="0.72"/><circle cx="103.8" cy="677.2" r="0.72"/><circle cx="101.1" cy="678.9" r="0.72"/><circle cx="104.7" cy="665.7" r="0.72"/><circle cx="103.6" cy="667.8" r="0.72"/><circle cx="91.9" cy="668.8" r="0.72"/><circle cx="111.7" cy="682.1" r="0.72"/><circle cx="92.1" cy="670.5" r="0.72"/><circle cx="112.3" cy="678.0" r="0.72"/><circle cx="94.6" cy="669.2" r="0.72"/><circle cx="107.2" cy="679.8" r="0.72"/><circle cx="113.0" cy="680.3" r="0.72"/><circle cx="98.1" cy="685.9" r="0.72"/><circle cx="103.7" cy="664.6" r="0.72"/><circle cx="112.1" cy="676.3" r="0.72"/><circle cx="115.1" cy="685.9" r="0.72"/><circle cx="107.2" cy="698.2" r="0.72"/><circle cx="113.9" cy="672.6" r="0.72"/><circle cx="118.1" cy="685.6" r="0.72"/><circle cx="118.6" cy="683.4" r="0.72"/><circle cx="112.1" cy="683.0" r="0.72"/><circle cx="95.1" cy="662.2" r="0.72"/><circle cx="112.0" cy="677.1" r="0.72"/><circle cx="96.5" cy="669.5" r="0.72"/><circle cx="116.3" cy="683.9" r="0.72"/><circle cx="112.1" cy="691.8" r="0.72"/><circle cx="102.0" cy="677.1" r="0.72"/><circle cx="101.9" cy="673.4" r="0.72"/><circle cx="113.1" cy="694.6" r="0.72"/><circle cx="110.1" cy="690.2" r="0.72"/><circle cx="111.2" cy="671.9" r="0.72"/><circle cx="112.5" cy="692.9" r="0.72"/><circle cx="102.0" cy="670.0" r="0.72"/><circle cx="100.1" cy="680.2" r="0.72"/><circle cx="105.0" cy="670.8" r="0.72"/><circle cx="111.1" cy="686.9" r="0.72"/><circle cx="88.5" cy="664.2" r="0.72"/><circle cx="104.8" cy="668.1" r="0.72"/><circle cx="109.1" cy="679.4" r="0.72"/><circle cx="105.3" cy="692.8" r="0.72"/><circle cx="108.7" cy="696.8" r="0.72"/><circle cx="110.0" cy="695.8" r="0.72"/><circle cx="112.4" cy="674.7" r="0.72"/><circle cx="104.9" cy="690.5" r="0.72"/><circle cx="106.3" cy="687.9" r="0.72"/><circle cx="99.0" cy="683.4" r="0.72"/><circle cx="111.7" cy="674.3" r="0.72"/><circle cx="110.0" cy="695.3" r="0.72"/><circle cx="99.9" cy="680.2" r="0.72"/><circle cx="103.6" cy="692.7" r="0.72"/><circle cx="96.6" cy="670.5" r="0.72"/><circle cx="100.6" cy="685.2" r="0.72"/><circle cx="104.2" cy="688.4" r="0.72"/><circle cx="101.3" cy="660.1" r="0.72"/><circle cx="100.4" cy="682.0" r="0.72"/><circle cx="106.9" cy="677.5" r="0.72"/><circle cx="98.8" cy="685.1" r="0.72"/><circle cx="110.2" cy="679.8" r="0.72"/><circle cx="112.2" cy="684.0" r="0.72"/><circle cx="103.6" cy="689.5" r="0.72"/><circle cx="114.6" cy="676.9" r="0.72"/><circle cx="102.6" cy="679.0" r="0.72"/><circle cx="100.0" cy="668.2" r="0.72"/><circle cx="110.3" cy="684.2" r="0.72"/><circle cx="95.2" cy="665.9" r="0.72"/><circle cx="102.3" cy="670.4" r="0.72"/><circle cx="109.7" cy="694.6" r="0.72"/><circle cx="99.7" cy="688.2" r="0.72"/><circle cx="101.5" cy="684.9" r="0.72"/><circle cx="116.5" cy="694.6" r="0.72"/><circle cx="92.4" cy="665.7" r="0.72"/><circle cx="117.1" cy="687.0" r="0.72"/><circle cx="111.8" cy="690.9" r="0.72"/><circle cx="108.0" cy="673.7" r="0.72"/><circle cx="101.8" cy="676.8" r="0.72"/><circle cx="101.6" cy="691.2" r="0.72"/><circle cx="119.4" cy="689.4" r="0.72"/><circle cx="110.7" cy="692.3" r="0.72"/><circle cx="105.1" cy="674.6" r="0.72"/><circle cx="109.7" cy="686.1" r="0.72"/><circle cx="103.7" cy="662.7" r="0.72"/><circle cx="114.8" cy="689.6" r="0.72"/><circle cx="103.4" cy="681.6" r="0.72"/><circle cx="113.9" cy="678.9" r="0.72"/><circle cx="103.3" cy="678.5" r="0.72"/><circle cx="111.8" cy="688.6" r="0.72"/><circle cx="100.1" cy="686.1" r="0.72"/><circle cx="118.4" cy="690.3" r="0.72"/><circle cx="100.3" cy="673.1" r="0.72"/><circle cx="101.9" cy="683.3" r="0.72"/><circle cx="116.8" cy="682.0" r="0.72"/><circle cx="120.2" cy="688.1" r="0.72"/><circle cx="111.2" cy="689.3" r="0.72"/><circle cx="101.5" cy="663.7" r="0.72"/><circle cx="115.6" cy="694.3" r="0.72"/><circle cx="111.3" cy="667.7" r="0.72"/><circle cx="104.1" cy="679.7" r="0.72"/><circle cx="108.2" cy="698.2" r="0.72"/><circle cx="112.9" cy="674.3" r="0.72"/><circle cx="107.3" cy="681.6" r="0.72"/><circle cx="111.9" cy="671.1" r="0.72"/><circle cx="109.9" cy="673.9" r="0.72"/><circle cx="113.2" cy="678.8" r="0.72"/><circle cx="108.8" cy="692.4" r="0.72"/><circle cx="111.4" cy="692.4" r="0.72"/><circle cx="99.7" cy="675.9" r="0.72"/><circle cx="99.8" cy="672.8" r="0.72"/><circle cx="113.5" cy="681.5" r="0.72"/><circle cx="108.7" cy="671.0" r="0.72"/><circle cx="112.7" cy="694.1" r="0.72"/><circle cx="100.3" cy="679.1" r="0.72"/><circle cx="95.0" cy="669.1" r="0.72"/><circle cx="115.5" cy="684.8" r="0.72"/><circle cx="102.4" cy="684.7" r="0.72"/><circle cx="99.5" cy="682.1" r="0.72"/><circle cx="98.4" cy="669.6" r="0.72"/><circle cx="111.9" cy="673.5" r="0.72"/><circle cx="112.0" cy="689.1" r="0.72"/><circle cx="100.1" cy="660.3" r="0.72"/><circle cx="115.2" cy="681.2" r="0.72"/><circle cx="106.7" cy="686.6" r="0.72"/><circle cx="105.7" cy="695.5" r="0.72"/><circle cx="107.9" cy="675.4" r="0.72"/><circle cx="108.1" cy="675.6" r="0.72"/><circle cx="106.5" cy="692.4" r="0.72"/><circle cx="98.0" cy="669.1" r="0.72"/><circle cx="89.1" cy="663.3" r="0.72"/><circle cx="97.3" cy="674.0" r="0.72"/><circle cx="108.6" cy="673.2" r="0.72"/><circle cx="109.6" cy="665.0" r="0.72"/><circle cx="110.3" cy="665.4" r="0.72"/><circle cx="101.2" cy="661.2" r="0.72"/><circle cx="116.3" cy="695.6" r="0.72"/><circle cx="112.3" cy="684.6" r="0.72"/><circle cx="106.8" cy="679.5" r="0.72"/><circle cx="109.2" cy="679.0" r="0.72"/><circle cx="109.9" cy="697.8" r="0.72"/><circle cx="100.9" cy="667.4" r="0.72"/><circle cx="103.7" cy="666.5" r="0.72"/><circle cx="108.8" cy="686.2" r="0.72"/><circle cx="95.1" cy="668.3" r="0.72"/><circle cx="97.7" cy="672.2" r="0.72"/><circle cx="116.8" cy="694.1" r="0.72"/><circle cx="113.5" cy="674.8" r="0.72"/><circle cx="102.7" cy="667.1" r="0.72"/><circle cx="104.6" cy="691.2" r="0.72"/><circle cx="111.3" cy="688.9" r="0.72"/><circle cx="96.4" cy="669.1" r="0.72"/><circle cx="118.3" cy="688.0" r="0.72"/><circle cx="103.9" cy="673.5" r="0.72"/><circle cx="103.1" cy="690.8" r="0.72"/><circle cx="105.3" cy="682.6" r="0.72"/><circle cx="102.5" cy="691.9" r="0.72"/><circle cx="110.7" cy="691.9" r="0.72"/><circle cx="105.5" cy="682.5" r="0.72"/><circle cx="102.4" cy="665.4" r="0.72"/><circle cx="115.6" cy="681.4" r="0.72"/><circle cx="111.9" cy="688.7" r="0.72"/><circle cx="108.1" cy="695.7" r="0.72"/><circle cx="95.0" cy="660.1" r="0.72"/><circle cx="92.3" cy="666.0" r="0.72"/><circle cx="105.4" cy="677.3" r="0.72"/><circle cx="105.0" cy="669.2" r="0.72"/><circle cx="90.9" cy="661.3" r="0.72"/><circle cx="112.4" cy="678.4" r="0.72"/><circle cx="111.2" cy="695.5" r="0.72"/><circle cx="117.0" cy="693.1" r="0.72"/><circle cx="102.0" cy="679.6" r="0.72"/><circle cx="96.2" cy="660.3" r="0.72"/><circle cx="94.5" cy="664.7" r="0.72"/><circle cx="110.3" cy="676.4" r="0.72"/><circle cx="96.7" cy="660.9" r="0.72"/><circle cx="113.4" cy="682.9" r="0.72"/><circle cx="106.0" cy="696.9" r="0.72"/><circle cx="110.3" cy="688.3" r="0.72"/><circle cx="110.2" cy="689.6" r="0.72"/><circle cx="94.2" cy="662.8" r="0.72"/><circle cx="111.7" cy="676.2" r="0.72"/><circle cx="107.6" cy="693.6" r="0.72"/><circle cx="110.2" cy="685.0" r="0.72"/><circle cx="113.9" cy="691.6" r="0.72"/><circle cx="108.2" cy="692.0" r="0.72"/><circle cx="104.2" cy="696.8" r="0.72"/><circle cx="111.3" cy="681.9" r="0.72"/><circle cx="112.2" cy="680.9" r="0.72"/><circle cx="89.3" cy="667.9" r="0.72"/><circle cx="109.0" cy="663.7" r="0.72"/><circle cx="108.7" cy="672.9" r="0.72"/><circle cx="115.1" cy="689.1" r="0.72"/><circle cx="102.4" cy="680.6" r="0.72"/><circle cx="110.1" cy="665.6" r="0.72"/><circle cx="109.2" cy="698.5" r="0.72"/><circle cx="113.9" cy="678.0" r="0.72"/><circle cx="114.6" cy="696.7" r="0.72"/><circle cx="100.0" cy="687.3" r="0.72"/><circle cx="99.8" cy="665.7" r="0.72"/><circle cx="102.7" cy="664.7" r="0.72"/><circle cx="103.3" cy="663.0" r="0.72"/><circle cx="111.4" cy="667.6" r="0.72"/><circle cx="108.4" cy="684.9" r="0.72"/><circle cx="105.7" cy="683.8" r="0.72"/><circle cx="115.0" cy="683.8" r="0.72"/><circle cx="95.8" cy="672.4" r="0.72"/><circle cx="103.4" cy="679.6" r="0.72"/><circle cx="102.6" cy="670.7" r="0.72"/><circle cx="102.5" cy="661.1" r="0.72"/><circle cx="112.5" cy="666.9" r="0.72"/><circle cx="98.2" cy="662.1" r="0.72"/><circle cx="112.3" cy="679.3" r="0.72"/><circle cx="105.9" cy="683.0" r="0.72"/><circle cx="99.8" cy="688.7" r="0.72"/><circle cx="113.2" cy="686.9" r="0.72"/><circle cx="99.2" cy="683.8" r="0.72"/><circle cx="110.3" cy="677.5" r="0.72"/><circle cx="105.0" cy="692.8" r="0.72"/><circle cx="111.0" cy="675.7" r="0.72"/><circle cx="110.6" cy="681.7" r="0.72"/><circle cx="112.1" cy="697.1" r="0.72"/><circle cx="113.2" cy="673.9" r="0.72"/><circle cx="102.7" cy="682.6" r="0.72"/><circle cx="114.0" cy="675.7" r="0.72"/><circle cx="104.8" cy="664.8" r="0.72"/><circle cx="93.4" cy="670.7" r="0.72"/><circle cx="108.0" cy="674.9" r="0.72"/><circle cx="113.7" cy="680.9" r="0.72"/><circle cx="98.6" cy="659.9" r="0.72"/><circle cx="100.1" cy="686.0" r="0.72"/><circle cx="116.1" cy="692.3" r="0.72"/><circle cx="112.6" cy="670.2" r="0.72"/><circle cx="116.8" cy="686.0" r="0.72"/><circle cx="107.1" cy="675.4" r="0.72"/><circle cx="100.3" cy="675.3" r="0.72"/><circle cx="111.1" cy="676.8" r="0.72"/><circle cx="111.0" cy="694.2" r="0.72"/><circle cx="114.3" cy="675.3" r="0.72"/><circle cx="101.8" cy="683.1" r="0.72"/><circle cx="112.2" cy="669.3" r="0.72"/><circle cx="101.0" cy="675.7" r="0.72"/><circle cx="110.9" cy="670.5" r="0.72"/><circle cx="112.1" cy="679.3" r="0.72"/><circle cx="106.4" cy="668.3" r="0.72"/><circle cx="100.5" cy="681.5" r="0.72"/><circle cx="99.7" cy="666.3" r="0.72"/><circle cx="105.8" cy="680.9" r="0.72"/><circle cx="101.2" cy="684.2" r="0.72"/><circle cx="89.8" cy="667.0" r="0.72"/><circle cx="116.4" cy="683.1" r="0.72"/><circle cx="112.3" cy="674.7" r="0.72"/><circle cx="98.4" cy="686.7" r="0.72"/><circle cx="106.3" cy="695.7" r="0.72"/><circle cx="110.3" cy="695.5" r="0.72"/><circle cx="103.0" cy="690.7" r="0.72"/><circle cx="98.6" cy="686.9" r="0.72"/><circle cx="97.5" cy="666.5" r="0.72"/><circle cx="111.0" cy="695.7" r="0.72"/><circle cx="101.3" cy="661.6" r="0.72"/><circle cx="111.2" cy="678.7" r="0.72"/><circle cx="102.3" cy="660.2" r="0.72"/><circle cx="102.8" cy="694.4" r="0.72"/><circle cx="114.0" cy="680.5" r="0.72"/><circle cx="100.9" cy="680.5" r="0.72"/><circle cx="103.0" cy="670.6" r="0.72"/><circle cx="95.1" cy="670.3" r="0.72"/><circle cx="106.5" cy="684.1" r="0.72"/><circle cx="96.2" cy="673.3" r="0.72"/><circle cx="113.1" cy="678.3" r="0.72"/><circle cx="114.4" cy="676.5" r="0.72"/><circle cx="100.6" cy="684.7" r="0.72"/><circle cx="99.1" cy="681.2" r="0.72"/><circle cx="100.6" cy="672.8" r="0.72"/><circle cx="117.9" cy="686.8" r="0.72"/><circle cx="103.0" cy="673.7" r="0.72"/><circle cx="109.9" cy="666.1" r="0.72"/><circle cx="105.5" cy="669.8" r="0.72"/><circle cx="99.0" cy="681.2" r="0.72"/><circle cx="118.1" cy="686.9" r="0.72"/><circle cx="114.6" cy="681.8" r="0.72"/><circle cx="107.9" cy="664.6" r="0.72"/><circle cx="114.8" cy="684.7" r="0.72"/><circle cx="108.9" cy="671.2" r="0.72"/><circle cx="112.6" cy="680.2" r="0.72"/><circle cx="112.9" cy="686.3" r="0.72"/><circle cx="115.1" cy="687.0" r="0.72"/><circle cx="117.2" cy="686.0" r="0.72"/><circle cx="102.0" cy="679.1" r="0.72"/><circle cx="114.8" cy="682.9" r="0.72"/><circle cx="103.0" cy="691.3" r="0.72"/><circle cx="99.4" cy="683.4" r="0.72"/><circle cx="115.0" cy="677.8" r="0.72"/><circle cx="102.2" cy="660.2" r="0.72"/><circle cx="106.5" cy="667.9" r="0.72"/><circle cx="108.8" cy="684.7" r="0.72"/><circle cx="97.5" cy="663.1" r="0.72"/><circle cx="97.3" cy="667.6" r="0.72"/><circle cx="114.3" cy="691.0" r="0.72"/><circle cx="115.5" cy="684.4" r="0.72"/><circle cx="107.5" cy="676.1" r="0.72"/><circle cx="114.6" cy="680.5" r="0.72"/><circle cx="103.2" cy="666.5" r="0.72"/><circle cx="109.7" cy="692.5" r="0.72"/><circle cx="101.0" cy="689.8" r="0.72"/><circle cx="110.0" cy="680.5" r="0.72"/><circle cx="98.6" cy="659.7" r="0.72"/><circle cx="110.7" cy="665.7" r="0.72"/><circle cx="107.4" cy="680.1" r="0.72"/><circle cx="119.5" cy="689.1" r="0.72"/><circle cx="111.2" cy="674.2" r="0.72"/><circle cx="110.6" cy="687.1" r="0.72"/><circle cx="102.1" cy="677.8" r="0.72"/><circle cx="111.8" cy="686.6" r="0.72"/><circle cx="92.3" cy="660.9" r="0.72"/><circle cx="106.8" cy="662.3" r="0.72"/><circle cx="111.1" cy="681.0" r="0.72"/><circle cx="118.1" cy="691.9" r="0.72"/><circle cx="109.1" cy="692.3" r="0.72"/><circle cx="104.3" cy="670.7" r="0.72"/><circle cx="109.5" cy="684.4" r="0.72"/><circle cx="104.5" cy="677.3" r="0.72"/><circle cx="112.6" cy="695.0" r="0.72"/><circle cx="103.8" cy="674.6" r="0.72"/><circle cx="103.1" cy="668.9" r="0.72"/><circle cx="114.6" cy="696.8" r="0.72"/><circle cx="111.9" cy="681.0" r="0.72"/><circle cx="110.0" cy="669.5" r="0.72"/><circle cx="100.9" cy="661.6" r="0.72"/><circle cx="100.7" cy="689.2" r="0.72"/><circle cx="98.1" cy="666.4" r="0.72"/><circle cx="105.4" cy="695.0" r="0.72"/><circle cx="108.8" cy="663.4" r="0.72"/><circle cx="101.9" cy="668.2" r="0.72"/><circle cx="114.2" cy="675.8" r="0.72"/><circle cx="105.4" cy="685.1" r="0.72"/><circle cx="98.7" cy="684.3" r="0.72"/><circle cx="105.9" cy="688.2" r="0.72"/><circle cx="106.5" cy="687.0" r="0.72"/><circle cx="100.5" cy="664.9" r="0.72"/><circle cx="99.7" cy="672.1" r="0.72"/><circle cx="104.9" cy="678.3" r="0.72"/><circle cx="112.8" cy="677.6" r="0.72"/><circle cx="112.2" cy="679.6" r="0.72"/><circle cx="111.9" cy="678.9" r="0.72"/><circle cx="106.7" cy="675.9" r="0.72"/><circle cx="106.3" cy="681.5" r="0.72"/><circle cx="113.0" cy="669.2" r="0.72"/><circle cx="111.0" cy="670.3" r="0.72"/><circle cx="107.2" cy="690.2" r="0.72"/><circle cx="104.9" cy="668.8" r="0.72"/><circle cx="111.9" cy="666.2" r="0.72"/><circle cx="90.2" cy="668.3" r="0.72"/><circle cx="108.5" cy="675.2" r="0.72"/><circle cx="112.6" cy="688.2" r="0.72"/><circle cx="99.8" cy="682.7" r="0.72"/><circle cx="108.9" cy="668.5" r="0.72"/><circle cx="109.5" cy="664.6" r="0.72"/><circle cx="117.8" cy="685.9" r="0.72"/><circle cx="107.8" cy="674.2" r="0.72"/><circle cx="110.3" cy="689.6" r="0.72"/><circle cx="109.9" cy="667.8" r="0.72"/><circle cx="94.1" cy="668.8" r="0.72"/></g>
<g fill="#d3aeb0"><circle cx="98.3" cy="669.6" r="0.72"/><circle cx="93.3" cy="670.7" r="0.72"/><circle cx="91.5" cy="665.4" r="0.72"/><circle cx="95.6" cy="671.5" r="0.72"/><circle cx="91.7" cy="668.5" r="0.72"/><circle cx="98.2" cy="671.1" r="0.72"/><circle cx="96.1" cy="670.6" r="0.72"/><circle cx="95.4" cy="667.3" r="0.72"/><circle cx="90.5" cy="666.9" r="0.72"/><circle cx="88.9" cy="664.4" r="0.72"/><circle cx="90.6" cy="664.8" r="0.72"/><circle cx="94.8" cy="664.1" r="0.72"/><circle cx="95.8" cy="663.9" r="0.72"/><circle cx="98.9" cy="664.7" r="0.72"/><circle cx="98.7" cy="668.2" r="0.72"/><circle cx="98.5" cy="669.5" r="0.72"/><circle cx="92.6" cy="663.2" r="0.72"/><circle cx="98.2" cy="668.5" r="0.72"/><circle cx="92.2" cy="661.7" r="0.72"/><circle cx="91.5" cy="670.1" r="0.72"/><circle cx="96.5" cy="668.3" r="0.72"/><circle cx="95.1" cy="662.5" r="0.72"/><circle cx="97.5" cy="671.5" r="0.72"/><circle cx="94.2" cy="663.1" r="0.72"/><circle cx="89.3" cy="663.8" r="0.72"/><circle cx="99.1" cy="664.5" r="0.72"/><circle cx="91.5" cy="666.9" r="0.72"/><circle cx="97.0" cy="664.4" r="0.72"/><circle cx="97.3" cy="669.7" r="0.72"/><circle cx="95.0" cy="668.2" r="0.72"/><circle cx="94.8" cy="662.5" r="0.72"/><circle cx="97.0" cy="666.1" r="0.72"/><circle cx="97.0" cy="671.4" r="0.72"/><circle cx="92.4" cy="670.0" r="0.72"/><circle cx="92.1" cy="668.1" r="0.72"/><circle cx="91.2" cy="669.2" r="0.72"/><circle cx="91.5" cy="665.8" r="0.72"/><circle cx="96.4" cy="670.4" r="0.72"/><circle cx="89.9" cy="662.9" r="0.72"/><circle cx="95.8" cy="669.1" r="0.72"/><circle cx="97.3" cy="663.6" r="0.72"/><circle cx="92.3" cy="667.8" r="0.72"/><circle cx="90.7" cy="666.0" r="0.72"/><circle cx="95.9" cy="663.4" r="0.72"/><circle cx="95.7" cy="665.5" r="0.72"/><circle cx="95.6" cy="670.4" r="0.72"/><circle cx="95.9" cy="670.8" r="0.72"/><circle cx="95.7" cy="669.9" r="0.72"/><circle cx="97.6" cy="667.7" r="0.72"/><circle cx="94.2" cy="662.8" r="0.72"/><circle cx="91.0" cy="661.9" r="0.72"/><circle cx="89.6" cy="665.4" r="0.72"/><circle cx="91.6" cy="667.4" r="0.72"/><circle cx="97.5" cy="664.0" r="0.72"/><circle cx="98.2" cy="670.5" r="0.72"/><circle cx="90.5" cy="667.7" r="0.72"/><circle cx="90.8" cy="663.2" r="0.72"/><circle cx="97.3" cy="670.8" r="0.72"/><circle cx="92.5" cy="664.9" r="0.72"/><circle cx="96.1" cy="667.0" r="0.72"/><circle cx="92.0" cy="662.6" r="0.72"/><circle cx="90.9" cy="666.9" r="0.72"/><circle cx="91.3" cy="666.5" r="0.72"/><circle cx="93.9" cy="663.9" r="0.72"/><circle cx="89.7" cy="665.7" r="0.72"/><circle cx="94.3" cy="670.2" r="0.72"/><circle cx="94.7" cy="664.9" r="0.72"/><circle cx="98.6" cy="669.9" r="0.72"/><circle cx="93.7" cy="666.1" r="0.72"/><circle cx="97.6" cy="668.0" r="0.72"/><circle cx="94.5" cy="666.8" r="0.72"/><circle cx="98.2" cy="665.0" r="0.72"/><circle cx="89.8" cy="662.9" r="0.72"/><circle cx="91.1" cy="662.0" r="0.72"/><circle cx="97.2" cy="666.1" r="0.72"/><circle cx="94.1" cy="663.5" r="0.72"/><circle cx="98.2" cy="665.7" r="0.72"/><circle cx="92.9" cy="669.4" r="0.72"/><circle cx="93.7" cy="665.8" r="0.72"/><circle cx="97.5" cy="665.8" r="0.72"/></g>
<g fill="#d4adae"><circle cx="58.5" cy="677.3" r="0.78"/><circle cx="54.8" cy="688.8" r="0.78"/><circle cx="57.3" cy="688.3" r="0.78"/><circle cx="55.2" cy="683.8" r="0.78"/><circle cx="63.9" cy="681.6" r="0.78"/><circle cx="55.7" cy="692.7" r="0.78"/><circle cx="56.8" cy="685.1" r="0.78"/><circle cx="53.4" cy="682.5" r="0.78"/><circle cx="64.1" cy="690.6" r="0.78"/><circle cx="53.3" cy="687.2" r="0.78"/><circle cx="59.3" cy="681.7" r="0.78"/><circle cx="61.7" cy="678.8" r="0.78"/><circle cx="60.2" cy="682.6" r="0.78"/><circle cx="53.4" cy="689.6" r="0.78"/><circle cx="54.1" cy="690.1" r="0.78"/><circle cx="62.4" cy="683.0" r="0.78"/><circle cx="58.0" cy="678.5" r="0.78"/><circle cx="53.4" cy="688.1" r="0.78"/><circle cx="56.8" cy="685.5" r="0.78"/><circle cx="56.7" cy="679.7" r="0.78"/><circle cx="53.8" cy="689.4" r="0.78"/><circle cx="57.7" cy="677.5" r="0.78"/><circle cx="54.7" cy="677.6" r="0.78"/><circle cx="59.5" cy="689.7" r="0.78"/><circle cx="61.6" cy="690.7" r="0.78"/><circle cx="57.5" cy="683.0" r="0.78"/><circle cx="52.8" cy="679.6" r="0.78"/><circle cx="64.0" cy="680.1" r="0.78"/><circle cx="64.5" cy="690.8" r="0.78"/><circle cx="57.5" cy="690.8" r="0.78"/><circle cx="55.9" cy="679.3" r="0.78"/><circle cx="51.7" cy="684.9" r="0.78"/><circle cx="59.4" cy="678.6" r="0.78"/><circle cx="55.2" cy="686.8" r="0.78"/><circle cx="53.9" cy="689.8" r="0.78"/><circle cx="64.0" cy="682.7" r="0.78"/><circle cx="53.3" cy="685.6" r="0.78"/><circle cx="55.7" cy="676.5" r="0.78"/><circle cx="61.7" cy="685.4" r="0.78"/><circle cx="55.3" cy="679.3" r="0.78"/><circle cx="61.9" cy="692.4" r="0.78"/><circle cx="56.5" cy="685.9" r="0.78"/><circle cx="54.6" cy="683.6" r="0.78"/><circle cx="59.8" cy="680.5" r="0.78"/><circle cx="60.2" cy="685.1" r="0.78"/><circle cx="57.4" cy="677.4" r="0.78"/><circle cx="59.3" cy="686.1" r="0.78"/><circle cx="60.5" cy="691.8" r="0.78"/><circle cx="60.2" cy="689.5" r="0.78"/><circle cx="64.9" cy="686.0" r="0.78"/><circle cx="63.4" cy="685.2" r="0.78"/><circle cx="57.7" cy="677.6" r="0.78"/><circle cx="58.4" cy="688.4" r="0.78"/><circle cx="62.9" cy="691.9" r="0.78"/><circle cx="58.9" cy="692.9" r="0.78"/><circle cx="57.6" cy="685.0" r="0.78"/><circle cx="62.6" cy="679.1" r="0.78"/><circle cx="54.2" cy="691.1" r="0.78"/><circle cx="59.6" cy="677.1" r="0.78"/><circle cx="59.0" cy="689.6" r="0.78"/><circle cx="60.0" cy="687.7" r="0.78"/><circle cx="60.1" cy="692.5" r="0.78"/><circle cx="59.2" cy="681.4" r="0.78"/><circle cx="57.1" cy="682.2" r="0.78"/><circle cx="61.4" cy="685.6" r="0.78"/><circle cx="55.5" cy="692.3" r="0.78"/><circle cx="55.1" cy="680.4" r="0.78"/><circle cx="54.2" cy="688.2" r="0.78"/><circle cx="61.5" cy="681.6" r="0.78"/><circle cx="53.1" cy="686.1" r="0.78"/><circle cx="56.3" cy="685.2" r="0.78"/><circle cx="54.6" cy="682.8" r="0.78"/><circle cx="63.5" cy="680.5" r="0.78"/><circle cx="60.1" cy="693.4" r="0.78"/><circle cx="61.9" cy="692.3" r="0.78"/><circle cx="62.6" cy="692.4" r="0.78"/><circle cx="54.5" cy="682.1" r="0.78"/><circle cx="62.6" cy="685.7" r="0.78"/><circle cx="64.7" cy="683.0" r="0.78"/><circle cx="57.9" cy="677.8" r="0.78"/><circle cx="55.4" cy="691.6" r="0.78"/><circle cx="55.2" cy="692.0" r="0.78"/><circle cx="63.0" cy="685.6" r="0.78"/><circle cx="57.8" cy="681.7" r="0.78"/><circle cx="64.6" cy="690.5" r="0.78"/><circle cx="61.2" cy="680.1" r="0.78"/><circle cx="53.0" cy="678.1" r="0.78"/><circle cx="55.2" cy="678.2" r="0.78"/><circle cx="59.7" cy="680.6" r="0.78"/><circle cx="54.5" cy="691.6" r="0.78"/><circle cx="51.8" cy="685.4" r="0.78"/><circle cx="51.8" cy="683.7" r="0.78"/><circle cx="60.4" cy="685.0" r="0.78"/><circle cx="54.5" cy="690.9" r="0.78"/><circle cx="56.7" cy="685.1" r="0.78"/><circle cx="57.4" cy="689.8" r="0.78"/><circle cx="53.8" cy="678.9" r="0.78"/><circle cx="57.9" cy="685.1" r="0.78"/><circle cx="51.5" cy="682.1" r="0.78"/><circle cx="58.9" cy="686.2" r="0.78"/><circle cx="63.6" cy="680.9" r="0.78"/><circle cx="60.2" cy="693.1" r="0.78"/><circle cx="65.5" cy="685.5" r="0.78"/><circle cx="56.3" cy="687.2" r="0.78"/><circle cx="62.0" cy="687.8" r="0.78"/><circle cx="61.2" cy="682.0" r="0.78"/><circle cx="61.8" cy="681.4" r="0.78"/><circle cx="54.8" cy="676.4" r="0.78"/><circle cx="59.4" cy="677.8" r="0.78"/><circle cx="55.5" cy="680.3" r="0.78"/><circle cx="56.8" cy="682.6" r="0.78"/><circle cx="65.5" cy="684.8" r="0.78"/><circle cx="59.4" cy="682.3" r="0.78"/><circle cx="59.3" cy="690.4" r="0.78"/><circle cx="59.0" cy="684.5" r="0.78"/><circle cx="56.5" cy="678.1" r="0.78"/><circle cx="57.4" cy="685.7" r="0.78"/><circle cx="53.1" cy="689.2" r="0.78"/><circle cx="58.0" cy="686.7" r="0.78"/><circle cx="57.6" cy="690.0" r="0.78"/><circle cx="61.3" cy="676.9" r="0.78"/><circle cx="59.4" cy="679.7" r="0.78"/><circle cx="62.2" cy="681.7" r="0.78"/><circle cx="52.1" cy="682.5" r="0.78"/><circle cx="57.7" cy="687.8" r="0.78"/><circle cx="56.0" cy="676.1" r="0.78"/><circle cx="55.3" cy="686.6" r="0.78"/><circle cx="55.3" cy="691.8" r="0.78"/><circle cx="59.9" cy="682.3" r="0.78"/><circle cx="54.6" cy="686.5" r="0.78"/><circle cx="52.2" cy="684.3" r="0.78"/><circle cx="55.6" cy="682.6" r="0.78"/><circle cx="60.2" cy="688.8" r="0.78"/><circle cx="61.2" cy="683.0" r="0.78"/><circle cx="56.3" cy="686.7" r="0.78"/><circle cx="58.1" cy="692.6" r="0.78"/><circle cx="59.1" cy="685.9" r="0.78"/><circle cx="61.1" cy="683.9" r="0.78"/><circle cx="58.5" cy="687.4" r="0.78"/><circle cx="55.8" cy="684.1" r="0.78"/><circle cx="59.4" cy="680.4" r="0.78"/><circle cx="54.0" cy="682.6" r="0.78"/><circle cx="57.6" cy="682.9" r="0.78"/><circle cx="55.1" cy="683.9" r="0.78"/><circle cx="59.7" cy="676.5" r="0.78"/><circle cx="61.0" cy="688.3" r="0.78"/><circle cx="54.2" cy="679.4" r="0.78"/><circle cx="52.0" cy="683.7" r="0.78"/><circle cx="61.2" cy="682.5" r="0.78"/><circle cx="59.9" cy="686.3" r="0.78"/><circle cx="58.8" cy="692.5" r="0.78"/><circle cx="61.6" cy="683.2" r="0.78"/><circle cx="55.2" cy="677.1" r="0.78"/><circle cx="60.8" cy="689.4" r="0.78"/><circle cx="57.1" cy="676.2" r="0.78"/><circle cx="55.4" cy="688.3" r="0.78"/><circle cx="62.6" cy="682.3" r="0.78"/><circle cx="64.3" cy="682.1" r="0.78"/><circle cx="64.3" cy="688.3" r="0.78"/><circle cx="52.7" cy="680.1" r="0.78"/><circle cx="57.1" cy="683.9" r="0.78"/><circle cx="59.1" cy="679.6" r="0.78"/><circle cx="51.9" cy="685.6" r="0.78"/><circle cx="64.9" cy="688.5" r="0.78"/><circle cx="63.9" cy="691.5" r="0.78"/><circle cx="61.0" cy="675.6" r="0.78"/><circle cx="55.9" cy="685.8" r="0.78"/><circle cx="57.4" cy="678.7" r="0.78"/><circle cx="61.1" cy="680.3" r="0.78"/><circle cx="58.2" cy="691.5" r="0.78"/><circle cx="53.5" cy="686.8" r="0.78"/><circle cx="57.0" cy="684.4" r="0.78"/><circle cx="56.1" cy="681.3" r="0.78"/><circle cx="58.5" cy="687.4" r="0.78"/><circle cx="64.6" cy="682.9" r="0.78"/><circle cx="64.7" cy="690.0" r="0.78"/><circle cx="55.5" cy="681.5" r="0.78"/><circle cx="61.4" cy="677.7" r="0.78"/><circle cx="55.1" cy="678.3" r="0.78"/><circle cx="58.7" cy="689.0" r="0.78"/><circle cx="61.4" cy="683.1" r="0.78"/><circle cx="58.9" cy="677.0" r="0.78"/><circle cx="54.9" cy="681.2" r="0.78"/><circle cx="56.6" cy="687.4" r="0.78"/><circle cx="54.9" cy="679.1" r="0.78"/><circle cx="64.1" cy="689.7" r="0.78"/><circle cx="64.9" cy="689.7" r="0.78"/><circle cx="54.2" cy="684.0" r="0.78"/><circle cx="63.5" cy="690.2" r="0.78"/><circle cx="54.7" cy="683.9" r="0.78"/><circle cx="59.9" cy="674.7" r="0.78"/><circle cx="54.9" cy="689.0" r="0.78"/><circle cx="61.1" cy="683.2" r="0.78"/><circle cx="59.7" cy="684.8" r="0.78"/><circle cx="56.4" cy="676.2" r="0.78"/><circle cx="62.2" cy="689.6" r="0.78"/><circle cx="57.7" cy="689.5" r="0.78"/><circle cx="63.4" cy="688.0" r="0.78"/><circle cx="58.0" cy="689.7" r="0.78"/><circle cx="62.1" cy="676.4" r="0.78"/><circle cx="59.9" cy="676.2" r="0.78"/><circle cx="62.0" cy="681.1" r="0.78"/><circle cx="56.9" cy="679.8" r="0.78"/><circle cx="63.1" cy="687.0" r="0.78"/><circle cx="55.7" cy="689.0" r="0.78"/><circle cx="54.1" cy="690.1" r="0.78"/><circle cx="60.2" cy="689.4" r="0.78"/><circle cx="60.3" cy="693.7" r="0.78"/><circle cx="61.5" cy="683.5" r="0.78"/><circle cx="60.0" cy="685.6" r="0.78"/><circle cx="55.5" cy="680.5" r="0.78"/><circle cx="63.0" cy="690.5" r="0.78"/><circle cx="65.4" cy="687.9" r="0.78"/><circle cx="58.7" cy="682.2" r="0.78"/><circle cx="61.6" cy="687.2" r="0.78"/><circle cx="65.1" cy="689.1" r="0.78"/><circle cx="57.0" cy="679.9" r="0.78"/><circle cx="57.6" cy="682.2" r="0.78"/><circle cx="52.2" cy="684.2" r="0.78"/><circle cx="62.2" cy="689.3" r="0.78"/><circle cx="61.0" cy="686.1" r="0.78"/><circle cx="55.0" cy="687.7" r="0.78"/><circle cx="59.9" cy="693.4" r="0.78"/><circle cx="58.9" cy="681.4" r="0.78"/><circle cx="64.5" cy="686.7" r="0.78"/><circle cx="56.3" cy="687.2" r="0.78"/><circle cx="53.6" cy="678.2" r="0.78"/><circle cx="64.2" cy="683.5" r="0.78"/><circle cx="63.0" cy="678.7" r="0.78"/><circle cx="58.2" cy="679.1" r="0.78"/><circle cx="63.0" cy="686.1" r="0.78"/><circle cx="57.1" cy="682.0" r="0.78"/><circle cx="54.5" cy="678.6" r="0.78"/><circle cx="61.4" cy="680.6" r="0.78"/><circle cx="52.9" cy="682.0" r="0.78"/><circle cx="57.0" cy="682.4" r="0.78"/><circle cx="58.1" cy="682.3" r="0.78"/><circle cx="54.7" cy="677.5" r="0.78"/><circle cx="58.2" cy="687.0" r="0.78"/><circle cx="52.9" cy="683.8" r="0.78"/><circle cx="53.9" cy="686.2" r="0.78"/><circle cx="56.4" cy="687.5" r="0.78"/><circle cx="62.8" cy="682.4" r="0.78"/><circle cx="56.9" cy="676.0" r="0.78"/><circle cx="54.5" cy="686.6" r="0.78"/><circle cx="63.1" cy="677.2" r="0.78"/><circle cx="56.7" cy="685.0" r="0.78"/><circle cx="61.2" cy="680.9" r="0.78"/><circle cx="56.7" cy="688.6" r="0.78"/><circle cx="58.4" cy="683.0" r="0.78"/><circle cx="59.6" cy="676.8" r="0.78"/><circle cx="58.2" cy="680.2" r="0.78"/><circle cx="53.8" cy="684.7" r="0.78"/><circle cx="61.6" cy="684.8" r="0.78"/><circle cx="58.6" cy="687.6" r="0.78"/><circle cx="59.6" cy="688.1" r="0.78"/><circle cx="56.9" cy="682.3" r="0.78"/><circle cx="56.4" cy="679.2" r="0.78"/><circle cx="62.9" cy="691.3" r="0.78"/><circle cx="55.4" cy="685.5" r="0.78"/><circle cx="58.1" cy="677.1" r="0.78"/><circle cx="62.0" cy="684.9" r="0.78"/><circle cx="53.0" cy="687.9" r="0.78"/><circle cx="53.9" cy="688.3" r="0.78"/><circle cx="64.0" cy="684.6" r="0.78"/><circle cx="62.8" cy="678.9" r="0.78"/><circle cx="61.6" cy="682.0" r="0.78"/><circle cx="58.1" cy="680.6" r="0.78"/><circle cx="54.7" cy="680.4" r="0.78"/><circle cx="55.4" cy="678.2" r="0.78"/><circle cx="64.1" cy="681.9" r="0.78"/><circle cx="59.5" cy="690.3" r="0.78"/><circle cx="61.2" cy="677.6" r="0.78"/><circle cx="63.6" cy="680.9" r="0.78"/><circle cx="63.4" cy="687.0" r="0.78"/><circle cx="51.9" cy="681.9" r="0.78"/><circle cx="61.5" cy="685.1" r="0.78"/><circle cx="65.1" cy="689.9" r="0.78"/><circle cx="56.4" cy="692.2" r="0.78"/><circle cx="52.7" cy="684.2" r="0.78"/><circle cx="57.8" cy="675.9" r="0.78"/><circle cx="60.6" cy="689.9" r="0.78"/><circle cx="54.6" cy="679.3" r="0.78"/><circle cx="62.6" cy="684.8" r="0.78"/><circle cx="55.6" cy="683.3" r="0.78"/><circle cx="64.3" cy="690.3" r="0.78"/><circle cx="57.0" cy="687.5" r="0.78"/><circle cx="56.8" cy="686.9" r="0.78"/><circle cx="52.5" cy="680.1" r="0.78"/><circle cx="59.8" cy="687.3" r="0.78"/><circle cx="55.5" cy="684.5" r="0.78"/><circle cx="56.2" cy="685.8" r="0.78"/><circle cx="53.0" cy="686.7" r="0.78"/><circle cx="54.4" cy="685.3" r="0.78"/><circle cx="54.1" cy="683.2" r="0.78"/><circle cx="55.2" cy="687.0" r="0.78"/><circle cx="62.7" cy="691.0" r="0.78"/><circle cx="59.4" cy="681.4" r="0.78"/><circle cx="55.6" cy="684.4" r="0.78"/><circle cx="62.2" cy="680.8" r="0.78"/><circle cx="60.1" cy="679.7" r="0.78"/><circle cx="61.8" cy="684.2" r="0.78"/><circle cx="55.9" cy="683.2" r="0.78"/><circle cx="57.2" cy="687.6" r="0.78"/><circle cx="57.7" cy="685.9" r="0.78"/><circle cx="60.2" cy="676.2" r="0.78"/><circle cx="58.7" cy="689.1" r="0.78"/><circle cx="62.8" cy="688.8" r="0.78"/><circle cx="61.3" cy="677.0" r="0.78"/><circle cx="57.3" cy="684.4" r="0.78"/><circle cx="52.9" cy="685.5" r="0.78"/><circle cx="55.3" cy="677.7" r="0.78"/><circle cx="65.2" cy="686.6" r="0.78"/><circle cx="62.0" cy="686.3" r="0.78"/><circle cx="59.6" cy="691.5" r="0.78"/><circle cx="52.3" cy="681.9" r="0.78"/><circle cx="54.6" cy="686.1" r="0.78"/><circle cx="57.1" cy="692.5" r="0.78"/><circle cx="54.8" cy="679.7" r="0.78"/><circle cx="64.7" cy="688.6" r="0.78"/></g>
<g fill="#b5646c"><circle cx="56.3" cy="687.2" r="0.55"/><circle cx="54.5" cy="678.6" r="0.55"/><circle cx="53.3" cy="685.6" r="0.55"/><circle cx="62.8" cy="682.4" r="0.55"/><circle cx="60.2" cy="685.1" r="0.55"/><circle cx="62.6" cy="692.4" r="0.55"/><circle cx="63.5" cy="680.5" r="0.55"/><circle cx="64.1" cy="690.6" r="0.55"/><circle cx="64.1" cy="681.9" r="0.55"/><circle cx="52.8" cy="679.6" r="0.55"/><circle cx="59.8" cy="687.3" r="0.55"/><circle cx="56.4" cy="676.2" r="0.55"/><circle cx="60.2" cy="689.5" r="0.55"/><circle cx="63.0" cy="686.1" r="0.55"/><circle cx="58.5" cy="677.3" r="0.55"/><circle cx="56.3" cy="685.2" r="0.55"/><circle cx="56.4" cy="692.2" r="0.55"/><circle cx="63.9" cy="691.5" r="0.55"/><circle cx="65.1" cy="689.9" r="0.55"/><circle cx="53.4" cy="689.6" r="0.55"/><circle cx="64.6" cy="682.9" r="0.55"/><circle cx="58.0" cy="689.7" r="0.55"/><circle cx="57.5" cy="683.0" r="0.55"/><circle cx="59.0" cy="689.6" r="0.55"/><circle cx="59.5" cy="690.3" r="0.55"/><circle cx="55.2" cy="677.1" r="0.55"/><circle cx="62.0" cy="687.8" r="0.55"/><circle cx="57.8" cy="681.7" r="0.55"/><circle cx="56.9" cy="679.8" r="0.55"/><circle cx="54.9" cy="679.1" r="0.55"/><circle cx="55.3" cy="691.8" r="0.55"/><circle cx="63.6" cy="680.9" r="0.55"/><circle cx="59.4" cy="677.8" r="0.55"/><circle cx="61.8" cy="681.4" r="0.55"/><circle cx="54.5" cy="690.9" r="0.55"/><circle cx="59.4" cy="679.7" r="0.55"/><circle cx="60.1" cy="693.4" r="0.55"/><circle cx="62.2" cy="681.7" r="0.55"/><circle cx="56.5" cy="678.1" r="0.55"/><circle cx="58.7" cy="682.2" r="0.55"/><circle cx="56.8" cy="685.5" r="0.55"/><circle cx="53.6" cy="678.2" r="0.55"/><circle cx="57.9" cy="677.8" r="0.55"/><circle cx="63.1" cy="677.2" r="0.55"/><circle cx="59.1" cy="685.9" r="0.55"/><circle cx="61.0" cy="686.1" r="0.55"/><circle cx="61.6" cy="687.2" r="0.55"/><circle cx="65.5" cy="684.8" r="0.55"/><circle cx="53.0" cy="678.1" r="0.55"/><circle cx="55.1" cy="678.3" r="0.55"/><circle cx="59.3" cy="686.1" r="0.55"/><circle cx="56.9" cy="676.0" r="0.55"/><circle cx="57.3" cy="688.3" r="0.55"/><circle cx="55.6" cy="682.6" r="0.55"/><circle cx="64.3" cy="688.3" r="0.55"/><circle cx="65.5" cy="685.5" r="0.55"/><circle cx="59.6" cy="691.5" r="0.55"/><circle cx="62.6" cy="682.3" r="0.55"/><circle cx="54.1" cy="690.1" r="0.55"/><circle cx="52.2" cy="684.2" r="0.55"/></g>
<g fill="#c4c4c4"><circle cx="57.2" cy="687.6" r="0.55"/><circle cx="63.9" cy="691.5" r="0.55"/><circle cx="54.7" cy="680.4" r="0.55"/><circle cx="64.0" cy="680.1" r="0.55"/><circle cx="61.4" cy="677.7" r="0.55"/><circle cx="55.4" cy="691.6" r="0.55"/><circle cx="60.4" cy="685.0" r="0.55"/><circle cx="60.1" cy="693.4" r="0.55"/><circle cx="58.1" cy="680.6" r="0.55"/><circle cx="61.8" cy="681.4" r="0.55"/><circle cx="63.0" cy="690.5" r="0.55"/><circle cx="58.2" cy="691.5" r="0.55"/><circle cx="62.1" cy="676.4" r="0.55"/><circle cx="58.4" cy="688.4" r="0.55"/><circle cx="52.3" cy="681.9" r="0.55"/><circle cx="64.6" cy="690.5" r="0.55"/><circle cx="65.5" cy="685.5" r="0.55"/><circle cx="59.3" cy="686.1" r="0.55"/><circle cx="62.0" cy="684.9" r="0.55"/><circle cx="56.7" cy="685.0" r="0.55"/><circle cx="58.6" cy="687.6" r="0.55"/><circle cx="62.2" cy="680.8" r="0.55"/><circle cx="55.8" cy="684.1" r="0.55"/><circle cx="58.2" cy="679.1" r="0.55"/><circle cx="59.4" cy="677.8" r="0.55"/><circle cx="58.5" cy="687.4" r="0.55"/><circle cx="57.7" cy="677.5" r="0.55"/><circle cx="55.2" cy="692.0" r="0.55"/><circle cx="64.1" cy="689.7" r="0.55"/><circle cx="63.5" cy="690.2" r="0.55"/><circle cx="61.2" cy="682.5" r="0.55"/><circle cx="61.2" cy="683.0" r="0.55"/><circle cx="54.6" cy="683.6" r="0.55"/><circle cx="60.2" cy="693.1" r="0.55"/><circle cx="58.7" cy="689.1" r="0.55"/><circle cx="59.9" cy="682.3" r="0.55"/><circle cx="56.4" cy="687.5" r="0.55"/><circle cx="57.6" cy="690.0" r="0.55"/><circle cx="56.3" cy="687.2" r="0.55"/><circle cx="55.3" cy="691.8" r="0.55"/></g>
<g fill="#c99ea2"><circle cx="72.8" cy="690.3" r="0.6"/><circle cx="74.4" cy="690.0" r="0.6"/><circle cx="74.4" cy="690.1" r="0.6"/><circle cx="74.8" cy="689.9" r="0.6"/><circle cx="75.4" cy="691.0" r="0.6"/><circle cx="70.5" cy="690.0" r="0.6"/><circle cx="75.4" cy="690.9" r="0.6"/><circle cx="72.0" cy="690.9" r="0.6"/><circle cx="73.6" cy="690.1" r="0.6"/><circle cx="74.2" cy="690.4" r="0.6"/><circle cx="66.8" cy="689.0" r="0.6"/><circle cx="68.6" cy="687.1" r="0.6"/><circle cx="67.7" cy="688.4" r="0.6"/><circle cx="67.5" cy="687.2" r="0.6"/><circle cx="68.0" cy="689.3" r="0.6"/><circle cx="66.7" cy="687.2" r="0.6"/></g>
<g fill="#cfa5a8"><circle cx="96.9" cy="719.1" r="0.7"/><circle cx="99.6" cy="722.0" r="0.7"/><circle cx="99.0" cy="726.0" r="0.7"/><circle cx="95.8" cy="723.8" r="0.7"/><circle cx="93.0" cy="723.5" r="0.7"/><circle cx="97.9" cy="724.4" r="0.7"/><circle cx="97.7" cy="724.9" r="0.7"/><circle cx="98.9" cy="721.6" r="0.7"/><circle cx="95.3" cy="727.6" r="0.7"/><circle cx="93.6" cy="722.0" r="0.7"/><circle cx="98.6" cy="725.5" r="0.7"/><circle cx="97.9" cy="722.6" r="0.7"/><circle cx="93.4" cy="722.2" r="0.7"/><circle cx="97.1" cy="719.4" r="0.7"/><circle cx="95.0" cy="729.8" r="0.7"/><circle cx="91.4" cy="721.7" r="0.7"/><circle cx="93.7" cy="725.1" r="0.7"/><circle cx="95.1" cy="719.6" r="0.7"/><circle cx="92.3" cy="724.0" r="0.7"/><circle cx="94.4" cy="723.7" r="0.7"/><circle cx="92.3" cy="721.8" r="0.7"/><circle cx="95.7" cy="718.5" r="0.7"/><circle cx="95.7" cy="727.9" r="0.7"/><circle cx="96.4" cy="719.0" r="0.7"/><circle cx="96.8" cy="718.4" r="0.7"/><circle cx="95.9" cy="719.6" r="0.7"/><circle cx="93.8" cy="718.9" r="0.7"/><circle cx="97.1" cy="727.5" r="0.7"/><circle cx="95.2" cy="724.7" r="0.7"/><circle cx="94.2" cy="727.6" r="0.7"/><circle cx="97.4" cy="719.2" r="0.7"/><circle cx="95.5" cy="719.7" r="0.7"/><circle cx="95.5" cy="725.6" r="0.7"/><circle cx="97.6" cy="721.5" r="0.7"/><circle cx="91.9" cy="723.0" r="0.7"/><circle cx="99.2" cy="724.3" r="0.7"/><circle cx="96.7" cy="727.0" r="0.7"/><circle cx="99.5" cy="726.6" r="0.7"/><circle cx="93.6" cy="726.3" r="0.7"/><circle cx="96.3" cy="728.2" r="0.7"/><circle cx="98.0" cy="721.5" r="0.7"/><circle cx="92.9" cy="725.6" r="0.7"/><circle cx="92.3" cy="723.6" r="0.7"/><circle cx="93.7" cy="722.4" r="0.7"/><circle cx="97.0" cy="725.3" r="0.7"/><circle cx="96.6" cy="718.2" r="0.7"/><circle cx="99.0" cy="726.2" r="0.7"/><circle cx="99.1" cy="725.1" r="0.7"/><circle cx="96.9" cy="728.5" r="0.7"/><circle cx="97.7" cy="725.3" r="0.7"/><circle cx="97.5" cy="728.0" r="0.7"/><circle cx="94.7" cy="720.0" r="0.7"/><circle cx="95.2" cy="727.9" r="0.7"/><circle cx="93.1" cy="720.0" r="0.7"/><circle cx="97.7" cy="720.5" r="0.7"/></g>
<g fill="#b86870"><circle cx="97.9" cy="722.6" r="0.5"/><circle cx="95.0" cy="729.8" r="0.5"/><circle cx="98.6" cy="725.5" r="0.5"/><circle cx="97.5" cy="728.0" r="0.5"/><circle cx="91.4" cy="721.7" r="0.5"/><circle cx="99.0" cy="726.0" r="0.5"/><circle cx="93.6" cy="726.3" r="0.5"/><circle cx="94.2" cy="727.6" r="0.5"/></g>
<g fill="#bbbbbb"><circle cx="78.3" cy="708.3" r="0.8"/><circle cx="77.9" cy="709.5" r="0.8"/><circle cx="78.4" cy="709.7" r="0.8"/><circle cx="78.5" cy="708.9" r="0.8"/><circle cx="77.4" cy="709.0" r="0.8"/><circle cx="77.8" cy="710.0" r="0.8"/><circle cx="78.2" cy="708.2" r="0.8"/><circle cx="78.5" cy="708.0" r="0.8"/><circle cx="106.7" cy="717.2" r="0.8"/><circle cx="105.8" cy="717.5" r="0.8"/><circle cx="106.2" cy="717.1" r="0.8"/><circle cx="106.6" cy="717.6" r="0.8"/></g>
<path d="M38.6,730.8 V697.8 M38.6,730.8 H71.5" fill="none" stroke="#111" stroke-width="1.15"/>
<path d="M36.4,698.5 L38.6,693.3 L40.800000000000004,698.5 z" fill="#111"/>
<path d="M70.8,728.5999999999999 L76,730.8 L70.8,733.0 z" fill="#111"/>
<text transform="translate(31.70,711.40) rotate(-90)" x="0" y="0" font-size="9.8" text-anchor="middle" font-weight="bold" fill="#222" textLength="24.18" lengthAdjust="spacingAndGlyphs">UMAP 2</text>
<text x="45.61" y="741.80" font-size="9.8" text-anchor="start" font-weight="bold" fill="#222" textLength="24.28" lengthAdjust="spacingAndGlyphs">UMAP 1</text>
<text x="130.46" y="684.10" font-size="6.8" text-anchor="start" fill="#231f20" textLength="41.72" lengthAdjust="spacingAndGlyphs" stroke="#231f20" stroke-width="0.08">Mutant status</text>
<circle cx="131.9" cy="692.5" r="1.6" fill="#c8102e"/><circle cx="131.9" cy="703.4" r="1.6" fill="#c9b0b4"/>
<text x="136.76" y="694.80" font-size="6.8" text-anchor="start" fill="#231f20" textLength="20.92" lengthAdjust="spacingAndGlyphs" stroke="#231f20" stroke-width="0.08">Mutant</text>
<text x="136.76" y="705.60" font-size="6.8" text-anchor="start" fill="#231f20" textLength="26.72" lengthAdjust="spacingAndGlyphs" stroke="#231f20" stroke-width="0.08">Wildtype</text>
<text x="214.20" y="508.60" font-size="13" text-anchor="start" font-weight="bold" fill="#000">I</text>
<text x="296.02" y="505.80" font-size="9.54" text-anchor="start" fill="#231f20" textLength="148.64" lengthAdjust="spacingAndGlyphs" stroke="#231f20" stroke-width="0.12">TET2 Cell Type Proportions indicated</text>
<text x="370.30" y="516.60" font-size="9.54" text-anchor="middle" fill="#231f20" textLength="54.24" lengthAdjust="spacingAndGlyphs" stroke="#231f20" stroke-width="0.12">by 7754G&gt;C</text>
<rect x="282.30" y="523.10" width="11.60" height="6.45" fill="#bfbfbf"/>
<rect x="293.90" y="523.10" width="154.20" height="6.45" fill="#38ab36"/>
<rect x="282.30" y="530.66" width="18.50" height="6.45" fill="#bfbfbf"/>
<rect x="300.80" y="530.66" width="147.30" height="6.45" fill="#38ab36"/>
<rect x="282.30" y="538.22" width="60.50" height="6.45" fill="#bfbfbf"/>
<rect x="342.80" y="538.22" width="105.30" height="6.45" fill="#38ab36"/>
<rect x="282.30" y="545.78" width="100.00" height="6.45" fill="#bfbfbf"/>
<rect x="382.30" y="545.78" width="65.80" height="6.45" fill="#38ab36"/>
<rect x="282.30" y="553.34" width="123.60" height="6.45" fill="#bfbfbf"/>
<rect x="405.90" y="553.34" width="42.20" height="6.45" fill="#38ab36"/>
<rect x="282.30" y="560.90" width="135.10" height="6.45" fill="#bfbfbf"/>
<rect x="417.40" y="560.90" width="30.70" height="6.45" fill="#38ab36"/>
<rect x="282.30" y="568.46" width="159.60" height="6.45" fill="#bfbfbf"/>
<rect x="441.90" y="568.46" width="6.20" height="6.45" fill="#38ab36"/>
<rect x="282.30" y="576.02" width="158.90" height="6.45" fill="#bfbfbf"/>
<rect x="441.20" y="576.02" width="6.90" height="6.45" fill="#38ab36"/>
<rect x="282.30" y="583.58" width="161.90" height="6.45" fill="#bfbfbf"/>
<rect x="444.20" y="583.58" width="3.90" height="6.45" fill="#38ab36"/>
<path d="M282.3,520.2 V593.5 H457.4" fill="none" stroke="#111" stroke-width="1.3"/>
<path d="M278.7,526.33 H282.3" stroke="#111" stroke-width="1"/>
<text x="275.75" y="528.78" font-size="7" text-anchor="end" fill="#231f20" textLength="58.94" lengthAdjust="spacingAndGlyphs" stroke="#231f20" stroke-width="0.08">CD14+ Monocytes</text>
<path d="M278.7,533.88 H282.3" stroke="#111" stroke-width="1"/>
<text x="275.75" y="536.34" font-size="7" text-anchor="end" fill="#231f20" textLength="42.34" lengthAdjust="spacingAndGlyphs" stroke="#231f20" stroke-width="0.08">Dendritic cells</text>
<path d="M278.7,541.45 H282.3" stroke="#111" stroke-width="1"/>
<text x="275.75" y="543.90" font-size="7" text-anchor="end" fill="#231f20" textLength="58.94" lengthAdjust="spacingAndGlyphs" stroke="#231f20" stroke-width="0.08">CD16+ Monocytes</text>
<path d="M278.7,549.00 H282.3" stroke="#111" stroke-width="1"/>
<text x="275.75" y="551.46" font-size="7" text-anchor="end" fill="#231f20" textLength="25.94" lengthAdjust="spacingAndGlyphs" stroke="#231f20" stroke-width="0.08">Platelets</text>
<path d="M278.7,556.57 H282.3" stroke="#111" stroke-width="1"/>
<text x="275.75" y="559.02" font-size="7" text-anchor="end" fill="#231f20" textLength="54.54" lengthAdjust="spacingAndGlyphs" stroke="#231f20" stroke-width="0.08">Erythroid-like cells</text>
<path d="M278.7,564.12 H282.3" stroke="#111" stroke-width="1"/>
<text x="275.75" y="566.58" font-size="7" text-anchor="end" fill="#231f20" textLength="10.04" lengthAdjust="spacingAndGlyphs" stroke="#231f20" stroke-width="0.08">NK</text>
<path d="M278.7,571.69 H282.3" stroke="#111" stroke-width="1"/>
<text x="275.75" y="574.14" font-size="7" text-anchor="end" fill="#231f20" textLength="5.44" lengthAdjust="spacingAndGlyphs" stroke="#231f20" stroke-width="0.08">B</text>
<path d="M278.7,579.25 H282.3" stroke="#111" stroke-width="1"/>
<text x="275.75" y="581.70" font-size="7" text-anchor="end" fill="#231f20" textLength="41.24" lengthAdjust="spacingAndGlyphs" stroke="#231f20" stroke-width="0.08">CD4+ T cells</text>
<path d="M278.7,586.81 H282.3" stroke="#111" stroke-width="1"/>
<text x="275.75" y="589.26" font-size="7" text-anchor="end" fill="#231f20" textLength="41.24" lengthAdjust="spacingAndGlyphs" stroke="#231f20" stroke-width="0.08">CD8+ T cells</text>
<path d="M282.30,593.5 V596.5" stroke="#111" stroke-width="1"/>
<text x="282.30" y="604.60" font-size="6.9" text-anchor="middle" fill="#333" textLength="11.33" lengthAdjust="spacingAndGlyphs" stroke="#333" stroke-width="0.08">0%</text>
<path d="M323.75,593.5 V596.5" stroke="#111" stroke-width="1"/>
<text x="323.75" y="604.60" font-size="6.9" text-anchor="middle" fill="#333" textLength="14.33" lengthAdjust="spacingAndGlyphs" stroke="#333" stroke-width="0.08">25%</text>
<path d="M365.20,593.5 V596.5" stroke="#111" stroke-width="1"/>
<text x="365.20" y="604.60" font-size="6.9" text-anchor="middle" fill="#333" textLength="14.33" lengthAdjust="spacingAndGlyphs" stroke="#333" stroke-width="0.08">50%</text>
<path d="M406.65,593.5 V596.5" stroke="#111" stroke-width="1"/>
<text x="406.65" y="604.60" font-size="6.9" text-anchor="middle" fill="#333" textLength="14.33" lengthAdjust="spacingAndGlyphs" stroke="#333" stroke-width="0.08">75%</text>
<path d="M448.10,593.5 V596.5" stroke="#111" stroke-width="1"/>
<text x="448.10" y="604.60" font-size="6.9" text-anchor="middle" fill="#333" textLength="17.33" lengthAdjust="spacingAndGlyphs" stroke="#333" stroke-width="0.08">100%</text>
<text x="370.20" y="617.60" font-size="8.6" text-anchor="middle" fill="#1a1a1a" textLength="53.03" lengthAdjust="spacingAndGlyphs" stroke="#1a1a1a" stroke-width="0.25">Proportion of cells</text>
<rect x="461.9" y="549" width="6.3" height="6.5" fill="#38ab36"/><rect x="461.9" y="560" width="6.3" height="6.5" fill="#bfbfbf"/>
<text x="471.56" y="554.60" font-size="6.8" text-anchor="start" fill="#231f20" textLength="38.92" lengthAdjust="spacingAndGlyphs" stroke="#231f20" stroke-width="0.08">TET2 Mutant</text>
<text x="471.56" y="565.50" font-size="6.8" text-anchor="start" fill="#231f20" textLength="27.02" lengthAdjust="spacingAndGlyphs" stroke="#231f20" stroke-width="0.08">Wildtype</text>
<text x="209.90" y="640.75" font-size="13" text-anchor="start" font-weight="bold" fill="#000">K</text>
<text x="283.02" y="637.70" font-size="9.54" text-anchor="start" fill="#231f20" textLength="167.64" lengthAdjust="spacingAndGlyphs" stroke="#231f20" stroke-width="0.12">DNMT3A Cell Type Proportions indicated</text>
<text x="366.70" y="650.10" font-size="9.54" text-anchor="middle" fill="#231f20" textLength="46.14" lengthAdjust="spacingAndGlyphs" stroke="#231f20" stroke-width="0.12">by 747A&gt;G</text>
<rect x="283.50" y="656.50" width="73.20" height="6.5" fill="#bfbfbf"/>
<rect x="356.70" y="656.50" width="84.80" height="6.5" fill="#c8002a"/>
<rect x="283.50" y="663.86" width="79.20" height="6.5" fill="#bfbfbf"/>
<rect x="362.70" y="663.86" width="78.80" height="6.5" fill="#c8002a"/>
<rect x="283.50" y="671.22" width="79.60" height="6.5" fill="#bfbfbf"/>
<rect x="363.10" y="671.22" width="78.40" height="6.5" fill="#c8002a"/>
<rect x="283.50" y="678.58" width="93.50" height="6.5" fill="#bfbfbf"/>
<rect x="377.00" y="678.58" width="64.50" height="6.5" fill="#c8002a"/>
<rect x="283.50" y="685.94" width="100.00" height="6.5" fill="#bfbfbf"/>
<rect x="383.50" y="685.94" width="58.00" height="6.5" fill="#c8002a"/>
<rect x="283.50" y="693.30" width="135.30" height="6.5" fill="#bfbfbf"/>
<rect x="418.80" y="693.30" width="22.70" height="6.5" fill="#c8002a"/>
<rect x="283.50" y="700.66" width="148.50" height="6.5" fill="#bfbfbf"/>
<rect x="432.00" y="700.66" width="9.50" height="6.5" fill="#c8002a"/>
<rect x="283.50" y="708.02" width="151.20" height="6.5" fill="#bfbfbf"/>
<rect x="434.70" y="708.02" width="6.80" height="6.5" fill="#c8002a"/>
<rect x="283.50" y="715.38" width="158.00" height="6.5" fill="#bfbfbf"/>
<rect x="441.50" y="715.38" width="0.00" height="6.5" fill="#c8002a"/>
<path d="M283.5,655.2 V725.2 H449.3" fill="none" stroke="#111" stroke-width="1.3"/>
<path d="M279.9,659.75 H283.5" stroke="#111" stroke-width="1"/>
<text x="276.95" y="662.20" font-size="7" text-anchor="end" fill="#231f20" textLength="42.34" lengthAdjust="spacingAndGlyphs" stroke="#231f20" stroke-width="0.08">Dendritic cells</text>
<path d="M279.9,667.11 H283.5" stroke="#111" stroke-width="1"/>
<text x="276.95" y="669.56" font-size="7" text-anchor="end" fill="#231f20" textLength="25.44" lengthAdjust="spacingAndGlyphs" stroke="#231f20" stroke-width="0.08">Platelets</text>
<path d="M279.9,674.47 H283.5" stroke="#111" stroke-width="1"/>
<text x="276.95" y="676.92" font-size="7" text-anchor="end" fill="#231f20" textLength="58.44" lengthAdjust="spacingAndGlyphs" stroke="#231f20" stroke-width="0.08">CD14+ Monocytes</text>
<path d="M279.9,681.83 H283.5" stroke="#111" stroke-width="1"/>
<text x="276.95" y="684.28" font-size="7" text-anchor="end" fill="#231f20" textLength="58.44" lengthAdjust="spacingAndGlyphs" stroke="#231f20" stroke-width="0.08">CD16+ Monocytes</text>
<path d="M279.9,689.19 H283.5" stroke="#111" stroke-width="1"/>
<text x="276.95" y="691.64" font-size="7" text-anchor="end" fill="#231f20" textLength="5.44" lengthAdjust="spacingAndGlyphs" stroke="#231f20" stroke-width="0.08">B</text>
<path d="M279.9,696.55 H283.5" stroke="#111" stroke-width="1"/>
<text x="276.95" y="699.00" font-size="7" text-anchor="end" fill="#231f20" textLength="10.04" lengthAdjust="spacingAndGlyphs" stroke="#231f20" stroke-width="0.08">NK</text>
<path d="M279.9,703.91 H283.5" stroke="#111" stroke-width="1"/>
<text x="276.95" y="706.36" font-size="7" text-anchor="end" fill="#231f20" textLength="41.24" lengthAdjust="spacingAndGlyphs" stroke="#231f20" stroke-width="0.08">CD4+ T cells</text>
<path d="M279.9,711.27 H283.5" stroke="#111" stroke-width="1"/>
<text x="276.95" y="713.72" font-size="7" text-anchor="end" fill="#231f20" textLength="41.24" lengthAdjust="spacingAndGlyphs" stroke="#231f20" stroke-width="0.08">CD8+ T cells</text>
<path d="M279.9,718.63 H283.5" stroke="#111" stroke-width="1"/>
<text x="276.95" y="721.08" font-size="7" text-anchor="end" fill="#231f20" textLength="54.54" lengthAdjust="spacingAndGlyphs" stroke="#231f20" stroke-width="0.08">Erythroid-like cells</text>
<path d="M283.50,725.2 V728.2" stroke="#111" stroke-width="1"/>
<text x="283.50" y="737.70" font-size="6.9" text-anchor="middle" fill="#333" textLength="11.33" lengthAdjust="spacingAndGlyphs" stroke="#333" stroke-width="0.08">0%</text>
<path d="M323.00,725.2 V728.2" stroke="#111" stroke-width="1"/>
<text x="323.00" y="737.70" font-size="6.9" text-anchor="middle" fill="#333" textLength="14.33" lengthAdjust="spacingAndGlyphs" stroke="#333" stroke-width="0.08">25%</text>
<path d="M362.50,725.2 V728.2" stroke="#111" stroke-width="1"/>
<text x="362.50" y="737.70" font-size="6.9" text-anchor="middle" fill="#333" textLength="14.33" lengthAdjust="spacingAndGlyphs" stroke="#333" stroke-width="0.08">50%</text>
<path d="M402.00,725.2 V728.2" stroke="#111" stroke-width="1"/>
<text x="402.00" y="737.70" font-size="6.9" text-anchor="middle" fill="#333" textLength="14.33" lengthAdjust="spacingAndGlyphs" stroke="#333" stroke-width="0.08">75%</text>
<path d="M441.50,725.2 V728.2" stroke="#111" stroke-width="1"/>
<text x="441.50" y="737.70" font-size="6.9" text-anchor="middle" fill="#333" textLength="17.33" lengthAdjust="spacingAndGlyphs" stroke="#333" stroke-width="0.08">100%</text>
<text x="366.30" y="750.60" font-size="8.6" text-anchor="middle" fill="#1a1a1a" textLength="53.03" lengthAdjust="spacingAndGlyphs" stroke="#1a1a1a" stroke-width="0.25">Proportion of cells</text>
<rect x="452.6" y="681.3" width="6.6" height="6.3" fill="#c8002a"/><rect x="452.6" y="692.3" width="6.6" height="6.4" fill="#bfbfbf"/>
<text x="462.66" y="687.00" font-size="6.8" text-anchor="start" fill="#231f20" textLength="51.32" lengthAdjust="spacingAndGlyphs" stroke="#231f20" stroke-width="0.08">DNMT3A Mutant</text>
<text x="462.66" y="698.10" font-size="6.8" text-anchor="start" fill="#231f20" textLength="26.82" lengthAdjust="spacingAndGlyphs" stroke="#231f20" stroke-width="0.08">Wildtype</text>
<rect x="0.65" y="0.65" width="518.7" height="758.7" fill="none" stroke="#505050" stroke-width="1.3"/>
</svg></body></html>
